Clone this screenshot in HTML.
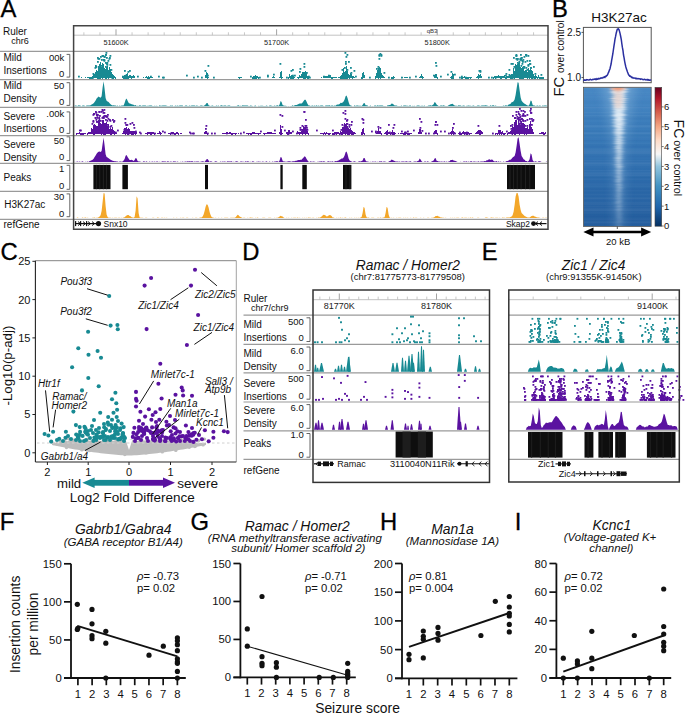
<!DOCTYPE html>
<html><head><meta charset="utf-8"><title>Figure</title>
<style>html,body{margin:0;padding:0;background:#fff;width:685px;height:714px;overflow:hidden}
svg{display:block;font-family:"Liberation Sans",sans-serif}</style></head>
<body><svg width="685" height="714" viewBox="0 0 685 714">
<rect width="685" height="714" fill="#fff"/>
<text x="0.60" y="16.80" font-size="23.8" fill="#000" stroke="#000" stroke-width="0.3">A</text>
<text x="3.00" y="35.40" font-size="10.00" text-anchor="start" fill="#111">Ruler</text>
<text x="11.30" y="44.10" font-size="9.00" text-anchor="start" fill="#111">chr6</text>
<text x="3.50" y="61.00" font-size="10.00" text-anchor="start" fill="#111">Mild</text>
<text x="3.50" y="73.80" font-size="10.00" text-anchor="start" fill="#111">Insertions</text>
<text x="64.30" y="60.90" font-size="9.50" text-anchor="end" fill="#111">00k</text>
<text x="64.30" y="77.00" font-size="9.50" text-anchor="end" fill="#111">0</text>
<path d="M66.6,54.4 H69.8 V77.1 H66.6" fill="none" stroke="#555" stroke-width="0.9"/>
<text x="3.50" y="89.10" font-size="10.00" text-anchor="start" fill="#111">Mild</text>
<text x="3.50" y="101.90" font-size="10.00" text-anchor="start" fill="#111">Density</text>
<text x="64.30" y="89.20" font-size="9.50" text-anchor="end" fill="#111">50</text>
<text x="64.30" y="105.30" font-size="9.50" text-anchor="end" fill="#111">0</text>
<path d="M66.6,82.7 H69.8 V105.4 H66.6" fill="none" stroke="#555" stroke-width="0.9"/>
<text x="3.50" y="119.50" font-size="10.00" text-anchor="start" fill="#111">Severe</text>
<text x="3.50" y="132.30" font-size="10.00" text-anchor="start" fill="#111">Insertions</text>
<text x="64.30" y="116.90" font-size="9.50" text-anchor="end" fill="#111">.00k</text>
<text x="64.30" y="133.30" font-size="9.50" text-anchor="end" fill="#111">0</text>
<path d="M66.6,111.9 H69.8 V133.4 H66.6" fill="none" stroke="#555" stroke-width="0.9"/>
<text x="3.50" y="147.90" font-size="10.00" text-anchor="start" fill="#111">Severe</text>
<text x="3.50" y="160.70" font-size="10.00" text-anchor="start" fill="#111">Density</text>
<text x="64.30" y="143.80" font-size="9.50" text-anchor="end" fill="#111">50</text>
<text x="64.30" y="160.20" font-size="9.50" text-anchor="end" fill="#111">0</text>
<path d="M66.6,136.8 H69.8 V160.6 H66.6" fill="none" stroke="#555" stroke-width="0.9"/>
<text x="3.50" y="180.90" font-size="10.00" text-anchor="start" fill="#111">Peaks</text>
<text x="64.30" y="172.30" font-size="9.50" text-anchor="end" fill="#111">1</text>
<text x="64.30" y="189.30" font-size="9.50" text-anchor="end" fill="#111">0</text>
<path d="M66.6,165.3 H69.8 V189.3 H66.6" fill="none" stroke="#555" stroke-width="0.9"/>
<text x="4.20" y="208.00" font-size="10.00" text-anchor="start" fill="#111">H3K27ac</text>
<text x="64.30" y="199.80" font-size="9.50" text-anchor="end" fill="#111">30</text>
<text x="64.30" y="216.50" font-size="9.50" text-anchor="end" fill="#111">0</text>
<path d="M66.6,193.9 H69.8 V216.7 H66.6" fill="none" stroke="#555" stroke-width="0.9"/>
<text x="3.50" y="228.20" font-size="10.00" text-anchor="start" fill="#111">refGene</text>
<line x1="0.00" y1="51.40" x2="548.00" y2="51.40" stroke="#9a9a9a" stroke-width="1.30"/>
<line x1="0.00" y1="79.70" x2="548.00" y2="79.70" stroke="#9a9a9a" stroke-width="1.30"/>
<line x1="0.00" y1="107.40" x2="548.00" y2="107.40" stroke="#9a9a9a" stroke-width="1.30"/>
<line x1="0.00" y1="135.60" x2="548.00" y2="135.60" stroke="#9a9a9a" stroke-width="1.30"/>
<line x1="0.00" y1="163.30" x2="548.00" y2="163.30" stroke="#9a9a9a" stroke-width="1.30"/>
<line x1="0.00" y1="191.40" x2="548.00" y2="191.40" stroke="#9a9a9a" stroke-width="1.30"/>
<line x1="0.00" y1="219.30" x2="548.00" y2="219.30" stroke="#9a9a9a" stroke-width="1.30"/>
<line x1="73.60" y1="35.20" x2="548.00" y2="35.20" stroke="#bbb" stroke-width="0.90"/>
<line x1="83.88" y1="32.30" x2="83.88" y2="35.20" stroke="#bbb" stroke-width="0.80"/>
<line x1="99.94" y1="32.30" x2="99.94" y2="35.20" stroke="#bbb" stroke-width="0.80"/>
<line x1="116.00" y1="29.30" x2="116.00" y2="35.20" stroke="#999" stroke-width="0.90"/>
<line x1="132.06" y1="32.30" x2="132.06" y2="35.20" stroke="#bbb" stroke-width="0.80"/>
<line x1="148.12" y1="32.30" x2="148.12" y2="35.20" stroke="#bbb" stroke-width="0.80"/>
<line x1="164.18" y1="32.30" x2="164.18" y2="35.20" stroke="#bbb" stroke-width="0.80"/>
<line x1="180.24" y1="32.30" x2="180.24" y2="35.20" stroke="#bbb" stroke-width="0.80"/>
<line x1="196.30" y1="32.30" x2="196.30" y2="35.20" stroke="#bbb" stroke-width="0.80"/>
<line x1="212.36" y1="32.30" x2="212.36" y2="35.20" stroke="#bbb" stroke-width="0.80"/>
<line x1="228.42" y1="32.30" x2="228.42" y2="35.20" stroke="#bbb" stroke-width="0.80"/>
<line x1="244.48" y1="32.30" x2="244.48" y2="35.20" stroke="#bbb" stroke-width="0.80"/>
<line x1="260.54" y1="32.30" x2="260.54" y2="35.20" stroke="#bbb" stroke-width="0.80"/>
<line x1="276.60" y1="29.30" x2="276.60" y2="35.20" stroke="#999" stroke-width="0.90"/>
<line x1="292.66" y1="32.30" x2="292.66" y2="35.20" stroke="#bbb" stroke-width="0.80"/>
<line x1="308.72" y1="32.30" x2="308.72" y2="35.20" stroke="#bbb" stroke-width="0.80"/>
<line x1="324.78" y1="32.30" x2="324.78" y2="35.20" stroke="#bbb" stroke-width="0.80"/>
<line x1="340.84" y1="32.30" x2="340.84" y2="35.20" stroke="#bbb" stroke-width="0.80"/>
<line x1="356.90" y1="32.30" x2="356.90" y2="35.20" stroke="#bbb" stroke-width="0.80"/>
<line x1="372.96" y1="32.30" x2="372.96" y2="35.20" stroke="#bbb" stroke-width="0.80"/>
<line x1="389.02" y1="32.30" x2="389.02" y2="35.20" stroke="#bbb" stroke-width="0.80"/>
<line x1="405.08" y1="32.30" x2="405.08" y2="35.20" stroke="#bbb" stroke-width="0.80"/>
<line x1="421.14" y1="32.30" x2="421.14" y2="35.20" stroke="#bbb" stroke-width="0.80"/>
<line x1="437.20" y1="29.30" x2="437.20" y2="35.20" stroke="#999" stroke-width="0.90"/>
<line x1="453.26" y1="32.30" x2="453.26" y2="35.20" stroke="#bbb" stroke-width="0.80"/>
<line x1="469.32" y1="32.30" x2="469.32" y2="35.20" stroke="#bbb" stroke-width="0.80"/>
<line x1="485.38" y1="32.30" x2="485.38" y2="35.20" stroke="#bbb" stroke-width="0.80"/>
<line x1="501.44" y1="32.30" x2="501.44" y2="35.20" stroke="#bbb" stroke-width="0.80"/>
<line x1="517.50" y1="32.30" x2="517.50" y2="35.20" stroke="#bbb" stroke-width="0.80"/>
<line x1="533.56" y1="32.30" x2="533.56" y2="35.20" stroke="#bbb" stroke-width="0.80"/>
<text x="116.00" y="45.30" font-size="7.30" text-anchor="middle" fill="#222">51600K</text>
<text x="276.60" y="45.30" font-size="7.30" text-anchor="middle" fill="#222">51700K</text>
<text x="437.20" y="45.30" font-size="7.30" text-anchor="middle" fill="#222">51800K</text>
<text x="432.00" y="32.50" font-size="6.00" text-anchor="middle" fill="#333">qB3</text>
<rect x="81.00" y="77.00" width="1.00" height="1.00" fill="#188a93"/>
<rect x="85.00" y="77.00" width="1.00" height="1.00" fill="#188a93"/>
<rect x="87.00" y="77.00" width="1.00" height="1.00" fill="#188a93"/>
<rect x="88.00" y="77.00" width="1.00" height="1.00" fill="#188a93"/>
<rect x="89.00" y="77.00" width="1.00" height="2.00" fill="#188a93"/>
<rect x="90.00" y="77.00" width="1.00" height="2.00" fill="#188a93"/>
<rect x="91.00" y="77.00" width="1.00" height="2.00" fill="#188a93"/>
<rect x="92.00" y="76.00" width="1.00" height="3.00" fill="#188a93"/>
<rect x="92.50" y="73.00" width="1.80" height="1.80" fill="#188a93"/>
<rect x="93.00" y="74.00" width="1.00" height="4.00" fill="#188a93"/>
<rect x="94.00" y="74.00" width="1.00" height="4.00" fill="#188a93"/>
<rect x="94.50" y="67.00" width="1.80" height="1.80" fill="#188a93"/>
<rect x="95.00" y="72.00" width="1.00" height="6.00" fill="#188a93"/>
<rect x="95.00" y="66.00" width="1.80" height="1.80" fill="#188a93"/>
<rect x="95.00" y="65.00" width="1.80" height="1.80" fill="#188a93"/>
<rect x="96.00" y="70.00" width="1.00" height="8.00" fill="#188a93"/>
<rect x="95.50" y="66.00" width="1.80" height="1.80" fill="#188a93"/>
<rect x="97.00" y="71.00" width="1.00" height="8.00" fill="#188a93"/>
<rect x="97.00" y="61.00" width="1.80" height="1.80" fill="#188a93"/>
<rect x="97.00" y="57.00" width="1.80" height="1.80" fill="#188a93"/>
<rect x="98.00" y="66.00" width="1.00" height="13.00" fill="#188a93"/>
<rect x="97.50" y="58.00" width="1.80" height="1.80" fill="#188a93"/>
<rect x="99.00" y="64.00" width="1.00" height="15.00" fill="#188a93"/>
<rect x="98.50" y="58.00" width="1.80" height="1.80" fill="#188a93"/>
<rect x="100.00" y="62.00" width="1.00" height="17.00" fill="#188a93"/>
<rect x="100.00" y="56.00" width="1.80" height="1.80" fill="#188a93"/>
<rect x="101.00" y="67.00" width="1.00" height="11.00" fill="#188a93"/>
<rect x="101.00" y="59.00" width="1.80" height="1.80" fill="#188a93"/>
<rect x="100.50" y="65.00" width="1.80" height="1.80" fill="#188a93"/>
<rect x="102.00" y="63.00" width="1.00" height="16.00" fill="#188a93"/>
<rect x="101.50" y="55.00" width="1.80" height="1.80" fill="#188a93"/>
<rect x="102.00" y="55.00" width="1.80" height="1.80" fill="#188a93"/>
<rect x="102.50" y="55.00" width="1.80" height="1.80" fill="#188a93"/>
<rect x="103.00" y="64.00" width="1.00" height="14.00" fill="#188a93"/>
<rect x="103.50" y="59.00" width="1.80" height="1.80" fill="#188a93"/>
<rect x="103.00" y="59.00" width="1.80" height="1.80" fill="#188a93"/>
<rect x="104.00" y="68.00" width="1.00" height="10.00" fill="#188a93"/>
<rect x="103.50" y="60.00" width="1.80" height="1.80" fill="#188a93"/>
<rect x="103.50" y="56.00" width="1.80" height="1.80" fill="#188a93"/>
<rect x="104.00" y="56.00" width="1.80" height="1.80" fill="#188a93"/>
<rect x="105.00" y="69.00" width="1.00" height="10.00" fill="#188a93"/>
<rect x="105.00" y="66.00" width="1.80" height="1.80" fill="#188a93"/>
<rect x="105.00" y="62.00" width="1.80" height="1.80" fill="#188a93"/>
<rect x="105.00" y="54.00" width="1.80" height="1.80" fill="#188a93"/>
<rect x="105.00" y="54.00" width="1.80" height="1.80" fill="#188a93"/>
<rect x="106.00" y="67.00" width="1.00" height="12.00" fill="#188a93"/>
<rect x="106.00" y="57.00" width="1.80" height="1.80" fill="#188a93"/>
<rect x="105.50" y="52.00" width="1.80" height="1.80" fill="#188a93"/>
<rect x="106.50" y="64.00" width="1.80" height="1.80" fill="#188a93"/>
<rect x="106.00" y="63.00" width="1.80" height="1.80" fill="#188a93"/>
<rect x="107.00" y="66.00" width="1.00" height="12.00" fill="#188a93"/>
<rect x="106.50" y="62.00" width="1.80" height="1.80" fill="#188a93"/>
<rect x="108.00" y="70.00" width="1.00" height="9.00" fill="#188a93"/>
<rect x="107.50" y="60.00" width="1.80" height="1.80" fill="#188a93"/>
<rect x="108.50" y="58.00" width="1.80" height="1.80" fill="#188a93"/>
<rect x="109.00" y="67.00" width="1.00" height="11.00" fill="#188a93"/>
<rect x="109.00" y="57.00" width="1.80" height="1.80" fill="#188a93"/>
<rect x="109.50" y="55.00" width="1.80" height="1.80" fill="#188a93"/>
<rect x="110.00" y="69.00" width="1.00" height="9.00" fill="#188a93"/>
<rect x="109.50" y="64.00" width="1.80" height="1.80" fill="#188a93"/>
<rect x="111.00" y="72.00" width="1.00" height="6.00" fill="#188a93"/>
<rect x="110.50" y="69.00" width="1.80" height="1.80" fill="#188a93"/>
<rect x="112.00" y="74.00" width="1.00" height="5.00" fill="#188a93"/>
<rect x="113.00" y="75.00" width="1.00" height="4.00" fill="#188a93"/>
<rect x="114.00" y="76.00" width="1.00" height="2.00" fill="#188a93"/>
<rect x="115.00" y="77.00" width="1.00" height="2.00" fill="#188a93"/>
<rect x="122.00" y="76.00" width="1.00" height="2.00" fill="#188a93"/>
<rect x="123.00" y="76.00" width="1.00" height="3.00" fill="#188a93"/>
<rect x="124.00" y="75.00" width="1.00" height="4.00" fill="#188a93"/>
<rect x="124.00" y="70.00" width="1.80" height="1.80" fill="#188a93"/>
<rect x="125.00" y="75.00" width="1.00" height="4.00" fill="#188a93"/>
<rect x="126.00" y="74.00" width="1.00" height="5.00" fill="#188a93"/>
<rect x="127.00" y="73.00" width="1.00" height="6.00" fill="#188a93"/>
<rect x="128.00" y="76.00" width="1.00" height="3.00" fill="#188a93"/>
<rect x="127.50" y="71.00" width="1.80" height="1.80" fill="#188a93"/>
<rect x="129.00" y="75.00" width="1.00" height="3.00" fill="#188a93"/>
<rect x="129.00" y="70.00" width="1.80" height="1.80" fill="#188a93"/>
<rect x="130.00" y="75.00" width="1.00" height="3.00" fill="#188a93"/>
<rect x="131.00" y="76.00" width="1.00" height="3.00" fill="#188a93"/>
<rect x="132.00" y="76.00" width="1.00" height="2.00" fill="#188a93"/>
<rect x="133.00" y="75.00" width="1.00" height="3.00" fill="#188a93"/>
<rect x="134.00" y="76.00" width="1.00" height="2.00" fill="#188a93"/>
<rect x="143.00" y="77.00" width="1.00" height="1.00" fill="#188a93"/>
<rect x="145.00" y="77.00" width="1.00" height="1.00" fill="#188a93"/>
<rect x="146.00" y="76.00" width="1.00" height="2.00" fill="#188a93"/>
<rect x="147.00" y="77.00" width="1.00" height="2.00" fill="#188a93"/>
<rect x="148.00" y="76.00" width="1.00" height="3.00" fill="#188a93"/>
<rect x="149.00" y="77.00" width="1.00" height="2.00" fill="#188a93"/>
<rect x="150.00" y="77.00" width="1.00" height="1.00" fill="#188a93"/>
<rect x="151.00" y="77.00" width="1.00" height="1.00" fill="#188a93"/>
<rect x="152.00" y="77.00" width="1.00" height="1.00" fill="#188a93"/>
<rect x="205.00" y="75.00" width="1.00" height="3.00" fill="#188a93"/>
<rect x="204.50" y="70.00" width="1.80" height="1.80" fill="#188a93"/>
<rect x="206.00" y="72.00" width="1.00" height="6.00" fill="#188a93"/>
<rect x="207.00" y="73.00" width="1.00" height="6.00" fill="#188a93"/>
<rect x="207.50" y="65.00" width="1.80" height="1.80" fill="#188a93"/>
<rect x="208.00" y="77.00" width="1.00" height="1.00" fill="#188a93"/>
<rect x="238.00" y="77.00" width="1.00" height="1.00" fill="#188a93"/>
<rect x="239.00" y="77.00" width="1.00" height="2.00" fill="#188a93"/>
<rect x="240.00" y="77.00" width="1.00" height="1.00" fill="#188a93"/>
<rect x="241.00" y="77.00" width="1.00" height="1.00" fill="#188a93"/>
<rect x="252.00" y="77.00" width="1.00" height="2.00" fill="#188a93"/>
<rect x="253.00" y="76.00" width="1.00" height="3.00" fill="#188a93"/>
<rect x="254.00" y="76.00" width="1.00" height="3.00" fill="#188a93"/>
<rect x="255.00" y="75.00" width="1.00" height="4.00" fill="#188a93"/>
<rect x="256.00" y="76.00" width="1.00" height="3.00" fill="#188a93"/>
<rect x="257.00" y="76.00" width="1.00" height="2.00" fill="#188a93"/>
<rect x="258.00" y="77.00" width="1.00" height="2.00" fill="#188a93"/>
<rect x="272.00" y="77.00" width="1.00" height="1.00" fill="#188a93"/>
<rect x="273.00" y="76.00" width="1.00" height="2.00" fill="#188a93"/>
<rect x="274.00" y="77.00" width="1.00" height="1.00" fill="#188a93"/>
<rect x="279.00" y="77.00" width="1.00" height="1.00" fill="#188a93"/>
<rect x="280.00" y="72.00" width="1.00" height="6.00" fill="#188a93"/>
<rect x="279.50" y="63.00" width="1.80" height="1.80" fill="#188a93"/>
<rect x="281.00" y="71.00" width="1.00" height="8.00" fill="#188a93"/>
<rect x="282.00" y="77.00" width="1.00" height="1.00" fill="#188a93"/>
<rect x="288.00" y="77.00" width="1.00" height="2.00" fill="#188a93"/>
<rect x="289.00" y="74.00" width="1.00" height="4.00" fill="#188a93"/>
<rect x="290.00" y="76.00" width="1.00" height="3.00" fill="#188a93"/>
<rect x="291.00" y="75.00" width="1.00" height="4.00" fill="#188a93"/>
<rect x="290.50" y="70.00" width="1.80" height="1.80" fill="#188a93"/>
<rect x="292.00" y="75.00" width="1.00" height="4.00" fill="#188a93"/>
<rect x="292.00" y="69.00" width="1.80" height="1.80" fill="#188a93"/>
<rect x="293.00" y="76.00" width="1.00" height="3.00" fill="#188a93"/>
<rect x="294.00" y="77.00" width="1.00" height="1.00" fill="#188a93"/>
<rect x="297.00" y="77.00" width="1.00" height="1.00" fill="#188a93"/>
<rect x="298.00" y="77.00" width="1.00" height="2.00" fill="#188a93"/>
<rect x="299.00" y="75.00" width="1.00" height="3.00" fill="#188a93"/>
<rect x="299.00" y="71.00" width="1.80" height="1.80" fill="#188a93"/>
<rect x="300.00" y="76.00" width="1.00" height="2.00" fill="#188a93"/>
<rect x="299.50" y="68.00" width="1.80" height="1.80" fill="#188a93"/>
<rect x="301.00" y="74.00" width="1.00" height="4.00" fill="#188a93"/>
<rect x="302.00" y="72.00" width="1.00" height="6.00" fill="#188a93"/>
<rect x="303.00" y="72.00" width="1.00" height="7.00" fill="#188a93"/>
<rect x="303.50" y="63.00" width="1.80" height="1.80" fill="#188a93"/>
<rect x="304.00" y="72.00" width="1.00" height="7.00" fill="#188a93"/>
<rect x="303.50" y="66.00" width="1.80" height="1.80" fill="#188a93"/>
<rect x="305.00" y="71.00" width="1.00" height="8.00" fill="#188a93"/>
<rect x="306.00" y="73.00" width="1.00" height="5.00" fill="#188a93"/>
<rect x="306.00" y="72.00" width="1.80" height="1.80" fill="#188a93"/>
<rect x="307.00" y="76.00" width="1.00" height="3.00" fill="#188a93"/>
<rect x="308.00" y="77.00" width="1.00" height="2.00" fill="#188a93"/>
<rect x="321.00" y="77.00" width="1.00" height="1.00" fill="#188a93"/>
<rect x="323.00" y="77.00" width="1.00" height="1.00" fill="#188a93"/>
<rect x="324.00" y="76.00" width="1.00" height="2.00" fill="#188a93"/>
<rect x="325.00" y="76.00" width="1.00" height="2.00" fill="#188a93"/>
<rect x="326.00" y="76.00" width="1.00" height="2.00" fill="#188a93"/>
<rect x="327.00" y="76.00" width="1.00" height="2.00" fill="#188a93"/>
<rect x="328.00" y="76.00" width="1.00" height="2.00" fill="#188a93"/>
<rect x="329.00" y="75.00" width="1.00" height="3.00" fill="#188a93"/>
<rect x="330.00" y="75.00" width="1.00" height="3.00" fill="#188a93"/>
<rect x="331.00" y="77.00" width="1.00" height="2.00" fill="#188a93"/>
<rect x="332.00" y="77.00" width="1.00" height="2.00" fill="#188a93"/>
<rect x="333.00" y="77.00" width="1.00" height="1.00" fill="#188a93"/>
<rect x="334.00" y="77.00" width="1.00" height="1.00" fill="#188a93"/>
<rect x="335.00" y="77.00" width="1.00" height="1.00" fill="#188a93"/>
<rect x="336.00" y="77.00" width="1.00" height="1.00" fill="#188a93"/>
<rect x="338.00" y="77.00" width="1.00" height="1.00" fill="#188a93"/>
<rect x="339.00" y="77.00" width="1.00" height="1.00" fill="#188a93"/>
<rect x="340.00" y="76.00" width="1.00" height="3.00" fill="#188a93"/>
<rect x="341.00" y="75.00" width="1.00" height="4.00" fill="#188a93"/>
<rect x="342.00" y="73.00" width="1.00" height="6.00" fill="#188a93"/>
<rect x="341.50" y="69.00" width="1.80" height="1.80" fill="#188a93"/>
<rect x="343.00" y="68.00" width="1.00" height="11.00" fill="#188a93"/>
<rect x="344.00" y="72.00" width="1.00" height="7.00" fill="#188a93"/>
<rect x="344.00" y="67.00" width="1.80" height="1.80" fill="#188a93"/>
<rect x="345.00" y="71.00" width="1.00" height="8.00" fill="#188a93"/>
<rect x="345.00" y="63.00" width="1.80" height="1.80" fill="#188a93"/>
<rect x="345.00" y="61.00" width="1.80" height="1.80" fill="#188a93"/>
<rect x="344.50" y="52.00" width="1.80" height="1.80" fill="#188a93"/>
<rect x="346.00" y="66.00" width="1.00" height="13.00" fill="#188a93"/>
<rect x="346.50" y="54.00" width="1.80" height="1.80" fill="#188a93"/>
<rect x="345.50" y="56.00" width="1.80" height="1.80" fill="#188a93"/>
<rect x="347.00" y="71.00" width="1.00" height="8.00" fill="#188a93"/>
<rect x="346.50" y="69.00" width="1.80" height="1.80" fill="#188a93"/>
<rect x="348.00" y="74.00" width="1.00" height="4.00" fill="#188a93"/>
<rect x="348.00" y="61.00" width="1.80" height="1.80" fill="#188a93"/>
<rect x="349.00" y="75.00" width="1.00" height="4.00" fill="#188a93"/>
<rect x="350.00" y="73.00" width="1.00" height="5.00" fill="#188a93"/>
<rect x="350.00" y="67.00" width="1.80" height="1.80" fill="#188a93"/>
<rect x="351.00" y="74.00" width="1.00" height="4.00" fill="#188a93"/>
<rect x="350.50" y="72.00" width="1.80" height="1.80" fill="#188a93"/>
<rect x="352.00" y="76.00" width="1.00" height="3.00" fill="#188a93"/>
<rect x="353.00" y="76.00" width="1.00" height="2.00" fill="#188a93"/>
<rect x="353.50" y="70.00" width="1.80" height="1.80" fill="#188a93"/>
<rect x="354.00" y="77.00" width="1.00" height="1.00" fill="#188a93"/>
<rect x="361.00" y="77.00" width="1.00" height="2.00" fill="#188a93"/>
<rect x="362.00" y="73.00" width="1.00" height="6.00" fill="#188a93"/>
<rect x="363.00" y="72.00" width="1.00" height="6.00" fill="#188a93"/>
<rect x="364.00" y="75.00" width="1.00" height="3.00" fill="#188a93"/>
<rect x="375.00" y="76.00" width="1.00" height="3.00" fill="#188a93"/>
<rect x="376.00" y="73.00" width="1.00" height="5.00" fill="#188a93"/>
<rect x="376.00" y="68.00" width="1.80" height="1.80" fill="#188a93"/>
<rect x="377.00" y="70.00" width="1.00" height="8.00" fill="#188a93"/>
<rect x="377.50" y="66.00" width="1.80" height="1.80" fill="#188a93"/>
<rect x="378.00" y="68.00" width="1.00" height="11.00" fill="#188a93"/>
<rect x="378.50" y="54.00" width="1.80" height="1.80" fill="#188a93"/>
<rect x="379.00" y="67.00" width="1.00" height="11.00" fill="#188a93"/>
<rect x="378.50" y="55.00" width="1.80" height="1.80" fill="#188a93"/>
<rect x="379.50" y="53.00" width="1.80" height="1.80" fill="#188a93"/>
<rect x="378.50" y="58.00" width="1.80" height="1.80" fill="#188a93"/>
<rect x="380.00" y="68.00" width="1.00" height="11.00" fill="#188a93"/>
<rect x="380.50" y="55.00" width="1.80" height="1.80" fill="#188a93"/>
<rect x="380.50" y="54.00" width="1.80" height="1.80" fill="#188a93"/>
<rect x="381.00" y="73.00" width="1.00" height="5.00" fill="#188a93"/>
<rect x="382.00" y="75.00" width="1.00" height="3.00" fill="#188a93"/>
<rect x="383.00" y="76.00" width="1.00" height="2.00" fill="#188a93"/>
<rect x="383.50" y="72.00" width="1.80" height="1.80" fill="#188a93"/>
<rect x="384.00" y="77.00" width="1.00" height="1.00" fill="#188a93"/>
<rect x="391.00" y="77.00" width="1.00" height="2.00" fill="#188a93"/>
<rect x="392.00" y="77.00" width="1.00" height="2.00" fill="#188a93"/>
<rect x="393.00" y="76.00" width="1.00" height="3.00" fill="#188a93"/>
<rect x="394.00" y="77.00" width="1.00" height="1.00" fill="#188a93"/>
<rect x="402.00" y="77.00" width="1.00" height="1.00" fill="#188a93"/>
<rect x="404.00" y="77.00" width="1.00" height="1.00" fill="#188a93"/>
<rect x="405.00" y="77.00" width="1.00" height="1.00" fill="#188a93"/>
<rect x="406.00" y="77.00" width="1.00" height="1.00" fill="#188a93"/>
<rect x="407.00" y="77.00" width="1.00" height="1.00" fill="#188a93"/>
<rect x="419.00" y="77.00" width="1.00" height="1.00" fill="#188a93"/>
<rect x="420.00" y="76.00" width="1.00" height="2.00" fill="#188a93"/>
<rect x="421.00" y="74.00" width="1.00" height="4.00" fill="#188a93"/>
<rect x="422.00" y="76.00" width="1.00" height="3.00" fill="#188a93"/>
<rect x="423.00" y="77.00" width="1.00" height="1.00" fill="#188a93"/>
<rect x="434.00" y="75.00" width="1.00" height="3.00" fill="#188a93"/>
<rect x="435.00" y="74.00" width="1.00" height="4.00" fill="#188a93"/>
<rect x="435.00" y="62.00" width="1.80" height="1.80" fill="#188a93"/>
<rect x="436.00" y="74.00" width="1.00" height="4.00" fill="#188a93"/>
<rect x="435.50" y="65.00" width="1.80" height="1.80" fill="#188a93"/>
<rect x="437.00" y="77.00" width="1.00" height="2.00" fill="#188a93"/>
<rect x="450.00" y="77.00" width="1.00" height="1.00" fill="#188a93"/>
<rect x="451.00" y="76.00" width="1.00" height="3.00" fill="#188a93"/>
<rect x="450.50" y="71.00" width="1.80" height="1.80" fill="#188a93"/>
<rect x="452.00" y="73.00" width="1.00" height="6.00" fill="#188a93"/>
<rect x="453.00" y="74.00" width="1.00" height="5.00" fill="#188a93"/>
<rect x="461.00" y="77.00" width="1.00" height="2.00" fill="#188a93"/>
<rect x="462.00" y="77.00" width="1.00" height="2.00" fill="#188a93"/>
<rect x="463.00" y="77.00" width="1.00" height="1.00" fill="#188a93"/>
<rect x="464.00" y="76.00" width="1.00" height="2.00" fill="#188a93"/>
<rect x="465.00" y="77.00" width="1.00" height="2.00" fill="#188a93"/>
<rect x="466.00" y="77.00" width="1.00" height="2.00" fill="#188a93"/>
<rect x="467.00" y="77.00" width="1.00" height="2.00" fill="#188a93"/>
<rect x="468.00" y="77.00" width="1.00" height="2.00" fill="#188a93"/>
<rect x="469.00" y="77.00" width="1.00" height="1.00" fill="#188a93"/>
<rect x="470.00" y="77.00" width="1.00" height="2.00" fill="#188a93"/>
<rect x="471.00" y="77.00" width="1.00" height="1.00" fill="#188a93"/>
<rect x="476.00" y="77.00" width="1.00" height="1.00" fill="#188a93"/>
<rect x="477.00" y="76.00" width="1.00" height="2.00" fill="#188a93"/>
<rect x="478.00" y="74.00" width="1.00" height="5.00" fill="#188a93"/>
<rect x="478.50" y="70.00" width="1.80" height="1.80" fill="#188a93"/>
<rect x="479.00" y="75.00" width="1.00" height="3.00" fill="#188a93"/>
<rect x="479.50" y="70.00" width="1.80" height="1.80" fill="#188a93"/>
<rect x="480.00" y="74.00" width="1.00" height="4.00" fill="#188a93"/>
<rect x="479.50" y="71.00" width="1.80" height="1.80" fill="#188a93"/>
<rect x="481.00" y="76.00" width="1.00" height="2.00" fill="#188a93"/>
<rect x="493.00" y="77.00" width="1.00" height="2.00" fill="#188a93"/>
<rect x="494.00" y="76.00" width="1.00" height="2.00" fill="#188a93"/>
<rect x="495.00" y="76.00" width="1.00" height="3.00" fill="#188a93"/>
<rect x="496.00" y="76.00" width="1.00" height="2.00" fill="#188a93"/>
<rect x="497.00" y="76.00" width="1.00" height="2.00" fill="#188a93"/>
<rect x="498.00" y="75.00" width="1.00" height="3.00" fill="#188a93"/>
<rect x="499.00" y="76.00" width="1.00" height="2.00" fill="#188a93"/>
<rect x="500.00" y="76.00" width="1.00" height="3.00" fill="#188a93"/>
<rect x="501.00" y="76.00" width="1.00" height="3.00" fill="#188a93"/>
<rect x="502.00" y="76.00" width="1.00" height="2.00" fill="#188a93"/>
<rect x="503.00" y="76.00" width="1.00" height="2.00" fill="#188a93"/>
<rect x="504.00" y="75.00" width="1.00" height="3.00" fill="#188a93"/>
<rect x="505.00" y="77.00" width="1.00" height="2.00" fill="#188a93"/>
<rect x="505.50" y="73.00" width="1.80" height="1.80" fill="#188a93"/>
<rect x="506.00" y="76.00" width="1.00" height="3.00" fill="#188a93"/>
<rect x="507.00" y="76.00" width="1.00" height="2.00" fill="#188a93"/>
<rect x="508.00" y="76.00" width="1.00" height="2.00" fill="#188a93"/>
<rect x="508.50" y="74.00" width="1.80" height="1.80" fill="#188a93"/>
<rect x="509.00" y="75.00" width="1.00" height="3.00" fill="#188a93"/>
<rect x="508.50" y="69.00" width="1.80" height="1.80" fill="#188a93"/>
<rect x="510.00" y="75.00" width="1.00" height="4.00" fill="#188a93"/>
<rect x="511.00" y="74.00" width="1.00" height="5.00" fill="#188a93"/>
<rect x="510.50" y="63.00" width="1.80" height="1.80" fill="#188a93"/>
<rect x="512.00" y="74.00" width="1.00" height="5.00" fill="#188a93"/>
<rect x="512.00" y="63.00" width="1.80" height="1.80" fill="#188a93"/>
<rect x="513.00" y="68.00" width="1.00" height="10.00" fill="#188a93"/>
<rect x="513.50" y="66.00" width="1.80" height="1.80" fill="#188a93"/>
<rect x="513.00" y="57.00" width="1.80" height="1.80" fill="#188a93"/>
<rect x="514.00" y="71.00" width="1.00" height="8.00" fill="#188a93"/>
<rect x="514.50" y="67.00" width="1.80" height="1.80" fill="#188a93"/>
<rect x="515.00" y="64.00" width="1.00" height="14.00" fill="#188a93"/>
<rect x="515.50" y="54.00" width="1.80" height="1.80" fill="#188a93"/>
<rect x="516.00" y="65.00" width="1.00" height="13.00" fill="#188a93"/>
<rect x="516.50" y="59.00" width="1.80" height="1.80" fill="#188a93"/>
<rect x="515.50" y="55.00" width="1.80" height="1.80" fill="#188a93"/>
<rect x="515.50" y="55.00" width="1.80" height="1.80" fill="#188a93"/>
<rect x="515.50" y="58.00" width="1.80" height="1.80" fill="#188a93"/>
<rect x="517.00" y="64.00" width="1.00" height="14.00" fill="#188a93"/>
<rect x="517.00" y="62.00" width="1.80" height="1.80" fill="#188a93"/>
<rect x="517.00" y="58.00" width="1.80" height="1.80" fill="#188a93"/>
<rect x="518.00" y="63.00" width="1.00" height="15.00" fill="#188a93"/>
<rect x="518.50" y="61.00" width="1.80" height="1.80" fill="#188a93"/>
<rect x="519.00" y="61.00" width="1.00" height="18.00" fill="#188a93"/>
<rect x="519.50" y="58.00" width="1.80" height="1.80" fill="#188a93"/>
<rect x="519.50" y="59.00" width="1.80" height="1.80" fill="#188a93"/>
<rect x="520.00" y="67.00" width="1.00" height="12.00" fill="#188a93"/>
<rect x="520.00" y="54.00" width="1.80" height="1.80" fill="#188a93"/>
<rect x="520.50" y="59.00" width="1.80" height="1.80" fill="#188a93"/>
<rect x="521.00" y="68.00" width="1.00" height="11.00" fill="#188a93"/>
<rect x="521.00" y="57.00" width="1.80" height="1.80" fill="#188a93"/>
<rect x="520.50" y="65.00" width="1.80" height="1.80" fill="#188a93"/>
<rect x="521.50" y="60.00" width="1.80" height="1.80" fill="#188a93"/>
<rect x="520.50" y="57.00" width="1.80" height="1.80" fill="#188a93"/>
<rect x="521.50" y="63.00" width="1.80" height="1.80" fill="#188a93"/>
<rect x="522.00" y="67.00" width="1.00" height="12.00" fill="#188a93"/>
<rect x="522.50" y="59.00" width="1.80" height="1.80" fill="#188a93"/>
<rect x="522.00" y="61.00" width="1.80" height="1.80" fill="#188a93"/>
<rect x="523.00" y="68.00" width="1.00" height="11.00" fill="#188a93"/>
<rect x="523.00" y="66.00" width="1.80" height="1.80" fill="#188a93"/>
<rect x="523.50" y="56.00" width="1.80" height="1.80" fill="#188a93"/>
<rect x="524.00" y="71.00" width="1.00" height="7.00" fill="#188a93"/>
<rect x="523.50" y="67.00" width="1.80" height="1.80" fill="#188a93"/>
<rect x="523.50" y="66.00" width="1.80" height="1.80" fill="#188a93"/>
<rect x="525.00" y="70.00" width="1.00" height="8.00" fill="#188a93"/>
<rect x="525.50" y="67.00" width="1.80" height="1.80" fill="#188a93"/>
<rect x="524.50" y="61.00" width="1.80" height="1.80" fill="#188a93"/>
<rect x="525.00" y="54.00" width="1.80" height="1.80" fill="#188a93"/>
<rect x="526.00" y="70.00" width="1.00" height="8.00" fill="#188a93"/>
<rect x="525.50" y="54.00" width="1.80" height="1.80" fill="#188a93"/>
<rect x="525.50" y="55.00" width="1.80" height="1.80" fill="#188a93"/>
<rect x="527.00" y="72.00" width="1.00" height="7.00" fill="#188a93"/>
<rect x="526.50" y="69.00" width="1.80" height="1.80" fill="#188a93"/>
<rect x="526.50" y="60.00" width="1.80" height="1.80" fill="#188a93"/>
<rect x="527.50" y="65.00" width="1.80" height="1.80" fill="#188a93"/>
<rect x="528.00" y="68.00" width="1.00" height="10.00" fill="#188a93"/>
<rect x="527.50" y="55.00" width="1.80" height="1.80" fill="#188a93"/>
<rect x="527.50" y="64.00" width="1.80" height="1.80" fill="#188a93"/>
<rect x="529.00" y="70.00" width="1.00" height="9.00" fill="#188a93"/>
<rect x="529.00" y="63.00" width="1.80" height="1.80" fill="#188a93"/>
<rect x="529.00" y="60.00" width="1.80" height="1.80" fill="#188a93"/>
<rect x="530.00" y="69.00" width="1.00" height="9.00" fill="#188a93"/>
<rect x="529.50" y="63.00" width="1.80" height="1.80" fill="#188a93"/>
<rect x="530.00" y="67.00" width="1.80" height="1.80" fill="#188a93"/>
<rect x="530.00" y="67.00" width="1.80" height="1.80" fill="#188a93"/>
<rect x="531.00" y="70.00" width="1.00" height="9.00" fill="#188a93"/>
<rect x="532.00" y="71.00" width="1.00" height="8.00" fill="#188a93"/>
<rect x="533.00" y="74.00" width="1.00" height="4.00" fill="#188a93"/>
<rect x="533.00" y="66.00" width="1.80" height="1.80" fill="#188a93"/>
<rect x="534.00" y="76.00" width="1.00" height="3.00" fill="#188a93"/>
<rect x="534.50" y="73.00" width="1.80" height="1.80" fill="#188a93"/>
<rect x="535.00" y="75.00" width="1.00" height="4.00" fill="#188a93"/>
<rect x="536.00" y="76.00" width="1.00" height="2.00" fill="#188a93"/>
<rect x="537.00" y="77.00" width="1.00" height="2.00" fill="#188a93"/>
<rect x="538.00" y="75.00" width="1.00" height="3.00" fill="#188a93"/>
<rect x="539.00" y="77.00" width="1.00" height="2.00" fill="#188a93"/>
<rect x="540.00" y="77.00" width="1.00" height="2.00" fill="#188a93"/>
<rect x="540.50" y="74.00" width="1.80" height="1.80" fill="#188a93"/>
<rect x="541.00" y="77.00" width="1.00" height="2.00" fill="#188a93"/>
<rect x="542.00" y="77.00" width="1.00" height="2.00" fill="#188a93"/>
<rect x="543.00" y="77.00" width="1.00" height="2.00" fill="#188a93"/>
<rect x="510.00" y="76.70" width="1.80" height="1.80" fill="#188a93"/>
<rect x="415.00" y="75.70" width="1.80" height="1.80" fill="#188a93"/>
<rect x="454.00" y="73.70" width="1.80" height="1.80" fill="#188a93"/>
<rect x="105.00" y="74.70" width="1.80" height="1.80" fill="#188a93"/>
<rect x="125.00" y="74.70" width="1.80" height="1.80" fill="#188a93"/>
<rect x="294.00" y="74.70" width="1.80" height="1.80" fill="#188a93"/>
<rect x="447.00" y="73.70" width="1.80" height="1.80" fill="#188a93"/>
<rect x="459.00" y="76.70" width="1.80" height="1.80" fill="#188a93"/>
<rect x="309.00" y="76.70" width="1.80" height="1.80" fill="#188a93"/>
<rect x="513.00" y="76.70" width="1.80" height="1.80" fill="#188a93"/>
<rect x="401.00" y="76.70" width="1.80" height="1.80" fill="#188a93"/>
<rect x="186.00" y="74.70" width="1.80" height="1.80" fill="#188a93"/>
<rect x="292.00" y="74.70" width="1.80" height="1.80" fill="#188a93"/>
<rect x="355.00" y="75.70" width="1.80" height="1.80" fill="#188a93"/>
<rect x="259.00" y="76.70" width="1.80" height="1.80" fill="#188a93"/>
<rect x="267.00" y="75.70" width="1.80" height="1.80" fill="#188a93"/>
<rect x="302.00" y="75.70" width="1.80" height="1.80" fill="#188a93"/>
<rect x="150.00" y="75.70" width="1.80" height="1.80" fill="#188a93"/>
<rect x="124.00" y="76.70" width="1.80" height="1.80" fill="#188a93"/>
<rect x="369.00" y="76.70" width="1.80" height="1.80" fill="#188a93"/>
<rect x="273.00" y="73.70" width="1.80" height="1.80" fill="#188a93"/>
<rect x="533.00" y="76.70" width="1.80" height="1.80" fill="#188a93"/>
<rect x="137.00" y="75.70" width="1.80" height="1.80" fill="#188a93"/>
<rect x="495.00" y="76.70" width="1.80" height="1.80" fill="#188a93"/>
<rect x="328.00" y="74.70" width="1.80" height="1.80" fill="#188a93"/>
<rect x="433.00" y="74.70" width="1.80" height="1.80" fill="#188a93"/>
<rect x="213.00" y="76.70" width="1.80" height="1.80" fill="#188a93"/>
<rect x="201.00" y="76.70" width="1.80" height="1.80" fill="#188a93"/>
<rect x="197.00" y="75.70" width="1.80" height="1.80" fill="#188a93"/>
<rect x="162.00" y="76.70" width="1.80" height="1.80" fill="#188a93"/>
<rect x="207.00" y="74.70" width="1.80" height="1.80" fill="#188a93"/>
<rect x="163.00" y="76.70" width="1.80" height="1.80" fill="#188a93"/>
<rect x="193.00" y="76.70" width="1.80" height="1.80" fill="#188a93"/>
<rect x="323.00" y="75.70" width="1.80" height="1.80" fill="#188a93"/>
<rect x="122.00" y="75.70" width="1.80" height="1.80" fill="#188a93"/>
<rect x="92.00" y="76.70" width="1.80" height="1.80" fill="#188a93"/>
<rect x="491.00" y="76.70" width="1.80" height="1.80" fill="#188a93"/>
<rect x="286.00" y="76.70" width="1.80" height="1.80" fill="#188a93"/>
<rect x="488.00" y="76.70" width="1.80" height="1.80" fill="#188a93"/>
<rect x="98.00" y="75.70" width="1.80" height="1.80" fill="#188a93"/>
<rect x="465.00" y="76.70" width="1.80" height="1.80" fill="#188a93"/>
<rect x="110.00" y="75.70" width="1.80" height="1.80" fill="#188a93"/>
<rect x="158.00" y="75.70" width="1.80" height="1.80" fill="#188a93"/>
<rect x="440.00" y="75.70" width="1.80" height="1.80" fill="#188a93"/>
<rect x="78.00" y="75.70" width="1.80" height="1.80" fill="#188a93"/>
<rect x="409.00" y="76.70" width="1.80" height="1.80" fill="#188a93"/>
<rect x="92.00" y="76.70" width="1.80" height="1.80" fill="#188a93"/>
<rect x="95.00" y="73.70" width="1.80" height="1.80" fill="#188a93"/>
<rect x="93.00" y="74.70" width="1.80" height="1.80" fill="#188a93"/>
<rect x="505.00" y="74.70" width="1.80" height="1.80" fill="#188a93"/>
<rect x="461.00" y="75.70" width="1.80" height="1.80" fill="#188a93"/>
<rect x="250.00" y="75.70" width="1.80" height="1.80" fill="#188a93"/>
<rect x="111.00" y="76.70" width="1.80" height="1.80" fill="#188a93"/>
<rect x="308.00" y="75.70" width="1.80" height="1.80" fill="#188a93"/>
<rect x="267.00" y="74.70" width="1.80" height="1.80" fill="#188a93"/>
<rect x="388.00" y="76.70" width="1.80" height="1.80" fill="#188a93"/>
<path d="M74.6,106.2 L74.6,105.7 L75.6,105.6 L76.6,105.8 L77.6,106.0 L78.6,105.3 L79.6,105.6 L80.6,105.8 L81.6,106.2 L82.6,105.5 L83.6,105.4 L84.6,105.8 L85.6,106.2 L86.6,105.5 L87.6,105.4 L88.6,105.5 L89.6,105.6 L90.6,105.3 L91.6,104.4 L92.6,104.1 L93.6,103.3 L94.6,102.0 L95.6,100.5 L96.6,98.6 L97.6,97.6 L98.6,96.6 L99.6,97.2 L100.6,97.7 L101.6,96.3 L102.6,87.5 L103.6,81.2 L104.6,89.0 L105.6,98.1 L106.6,100.7 L107.6,101.6 L108.6,102.0 L109.6,103.2 L110.6,104.2 L111.6,105.1 L112.6,105.4 L113.6,105.3 L114.6,105.4 L115.6,105.5 L116.6,105.9 L117.6,105.4 L118.6,106.2 L119.6,105.4 L120.6,105.9 L121.6,105.6 L122.6,105.5 L123.6,105.4 L124.6,103.0 L125.6,99.8 L126.6,98.5 L127.6,100.8 L128.6,102.7 L129.6,103.5 L130.6,103.7 L131.6,104.3 L132.6,104.4 L133.6,104.7 L134.6,105.5 L135.6,105.0 L136.6,105.9 L137.6,105.8 L138.6,106.0 L139.6,105.3 L140.6,105.5 L141.6,106.0 L142.6,105.4 L143.6,105.4 L144.6,105.6 L145.6,105.6 L146.6,105.9 L147.6,105.8 L148.6,105.8 L149.6,105.4 L150.6,105.5 L151.6,105.6 L152.6,105.9 L153.6,106.0 L154.6,105.8 L155.6,105.9 L156.6,105.7 L157.6,106.0 L158.6,106.2 L159.6,105.3 L160.6,105.8 L161.6,105.8 L162.6,105.6 L163.6,105.5 L164.6,105.4 L165.6,105.5 L166.6,105.8 L167.6,106.1 L168.6,105.9 L169.6,105.9 L170.6,105.5 L171.6,105.7 L172.6,105.6 L173.6,106.2 L174.6,106.1 L175.6,105.4 L176.6,105.9 L177.6,105.6 L178.6,106.1 L179.6,105.5 L180.6,105.4 L181.6,105.6 L182.6,105.5 L183.6,106.2 L184.6,106.1 L185.6,105.6 L186.6,105.6 L187.6,106.1 L188.6,106.1 L189.6,105.4 L190.6,105.9 L191.6,105.5 L192.6,105.5 L193.6,105.6 L194.6,105.6 L195.6,106.0 L196.6,105.5 L197.6,105.7 L198.6,106.0 L199.6,105.9 L200.6,105.6 L201.6,105.4 L202.6,105.8 L203.6,106.0 L204.6,105.2 L205.6,104.6 L206.6,102.9 L207.6,103.1 L208.6,105.2 L209.6,105.8 L210.6,106.0 L211.6,105.8 L212.6,105.6 L213.6,105.9 L214.6,105.9 L215.6,105.9 L216.6,105.5 L217.6,106.0 L218.6,105.5 L219.6,106.2 L220.6,105.4 L221.6,105.3 L222.6,105.8 L223.6,105.7 L224.6,105.6 L225.6,105.4 L226.6,106.0 L227.6,105.7 L228.6,105.4 L229.6,105.5 L230.6,105.9 L231.6,105.9 L232.6,105.9 L233.6,106.1 L234.6,105.9 L235.6,106.1 L236.6,106.0 L237.6,105.6 L238.6,105.3 L239.6,105.9 L240.6,105.7 L241.6,105.9 L242.6,105.3 L243.6,105.4 L244.6,105.4 L245.6,105.4 L246.6,105.5 L247.6,105.5 L248.6,106.0 L249.6,105.9 L250.6,105.6 L251.6,105.8 L252.6,105.9 L253.6,106.2 L254.6,105.8 L255.6,105.6 L256.6,106.2 L257.6,106.2 L258.6,105.7 L259.6,105.9 L260.6,105.7 L261.6,105.7 L262.6,105.8 L263.6,105.9 L264.6,106.1 L265.6,105.9 L266.6,105.5 L267.6,106.1 L268.6,106.2 L269.6,105.5 L270.6,105.6 L271.6,105.8 L272.6,106.1 L273.6,106.1 L274.6,105.6 L275.6,106.0 L276.6,105.5 L277.6,105.3 L278.6,106.1 L279.6,104.4 L280.6,101.0 L281.6,101.9 L282.6,105.0 L283.6,105.6 L284.6,105.7 L285.6,105.8 L286.6,106.1 L287.6,106.2 L288.6,106.1 L289.6,106.2 L290.6,106.0 L291.6,106.0 L292.6,105.3 L293.6,105.9 L294.6,105.3 L295.6,104.9 L296.6,105.0 L297.6,104.4 L298.6,103.9 L299.6,103.6 L300.6,103.6 L301.6,103.6 L302.6,102.6 L303.6,100.9 L304.6,99.7 L305.6,99.7 L306.6,101.7 L307.6,104.1 L308.6,105.4 L309.6,105.6 L310.6,105.9 L311.6,105.8 L312.6,105.4 L313.6,106.1 L314.6,105.6 L315.6,106.0 L316.6,105.3 L317.6,106.0 L318.6,105.6 L319.6,106.1 L320.6,105.4 L321.6,105.4 L322.6,105.4 L323.6,106.0 L324.6,106.2 L325.6,105.6 L326.6,105.6 L327.6,105.6 L328.6,105.4 L329.6,105.3 L330.6,105.9 L331.6,105.4 L332.6,105.4 L333.6,106.1 L334.6,105.6 L335.6,105.7 L336.6,104.8 L337.6,104.4 L338.6,104.4 L339.6,103.9 L340.6,102.7 L341.6,103.0 L342.6,102.5 L343.6,101.5 L344.6,99.4 L345.6,96.2 L346.6,95.5 L347.6,98.3 L348.6,102.1 L349.6,104.7 L350.6,105.5 L351.6,105.7 L352.6,106.2 L353.6,106.2 L354.6,105.3 L355.6,106.0 L356.6,105.4 L357.6,105.5 L358.6,105.8 L359.6,105.7 L360.6,105.7 L361.6,105.9 L362.6,105.0 L363.6,103.3 L364.6,103.1 L365.6,105.2 L366.6,105.2 L367.6,105.6 L368.6,106.2 L369.6,106.1 L370.6,105.6 L371.6,106.2 L372.6,106.1 L373.6,106.2 L374.6,105.4 L375.6,105.5 L376.6,106.0 L377.6,105.3 L378.6,105.7 L379.6,105.6 L380.6,105.4 L381.6,105.5 L382.6,105.6 L383.6,105.9 L384.6,106.0 L385.6,106.0 L386.6,106.2 L387.6,105.3 L388.6,105.2 L389.6,105.0 L390.6,104.8 L391.6,103.6 L392.6,103.8 L393.6,104.6 L394.6,105.6 L395.6,105.4 L396.6,105.6 L397.6,105.9 L398.6,105.9 L399.6,106.0 L400.6,105.9 L401.6,105.4 L402.6,106.2 L403.6,105.5 L404.6,105.4 L405.6,105.5 L406.6,105.7 L407.6,105.8 L408.6,105.9 L409.6,105.5 L410.6,105.5 L411.6,106.2 L412.6,105.7 L413.6,106.1 L414.6,105.8 L415.6,106.2 L416.6,105.7 L417.6,105.6 L418.6,105.5 L419.6,105.7 L420.6,105.9 L421.6,105.8 L422.6,105.7 L423.6,105.9 L424.6,105.5 L425.6,106.2 L426.6,105.9 L427.6,106.1 L428.6,105.6 L429.6,105.5 L430.6,105.3 L431.6,105.7 L432.6,105.1 L433.6,104.2 L434.6,102.0 L435.6,102.7 L436.6,104.4 L437.6,105.2 L438.6,106.0 L439.6,106.1 L440.6,105.4 L441.6,105.5 L442.6,105.8 L443.6,105.3 L444.6,105.7 L445.6,106.1 L446.6,105.9 L447.6,106.1 L448.6,105.2 L449.6,104.8 L450.6,104.2 L451.6,103.9 L452.6,103.8 L453.6,104.7 L454.6,105.5 L455.6,105.7 L456.6,105.7 L457.6,106.0 L458.6,105.3 L459.6,105.6 L460.6,105.4 L461.6,106.1 L462.6,105.7 L463.6,105.6 L464.6,105.7 L465.6,106.2 L466.6,105.7 L467.6,105.7 L468.6,105.4 L469.6,105.8 L470.6,105.7 L471.6,105.9 L472.6,105.8 L473.6,105.6 L474.6,106.0 L475.6,106.0 L476.6,105.9 L477.6,105.6 L478.6,105.6 L479.6,105.7 L480.6,106.0 L481.6,105.5 L482.6,105.5 L483.6,105.6 L484.6,105.5 L485.6,105.3 L486.6,105.5 L487.6,105.7 L488.6,105.9 L489.6,106.0 L490.6,105.3 L491.6,106.0 L492.6,105.3 L493.6,105.3 L494.6,106.1 L495.6,105.6 L496.6,106.0 L497.6,106.1 L498.6,106.1 L499.6,105.9 L500.6,105.9 L501.6,106.0 L502.6,106.1 L503.6,105.4 L504.6,105.9 L505.6,105.3 L506.6,105.5 L507.6,105.7 L508.6,104.5 L509.6,104.3 L510.6,103.7 L511.6,102.2 L512.6,101.9 L513.6,101.3 L514.6,99.4 L515.6,94.9 L516.6,88.5 L517.6,82.2 L518.6,82.8 L519.6,90.2 L520.6,97.3 L521.6,100.7 L522.6,101.9 L523.6,102.9 L524.6,103.7 L525.6,104.3 L526.6,105.0 L527.6,105.4 L528.6,105.7 L529.6,104.2 L530.6,100.6 L531.6,101.0 L532.6,104.7 L533.6,105.5 L534.6,105.4 L535.6,106.0 L536.6,105.8 L537.6,105.6 L538.6,106.1 L539.6,105.4 L540.6,105.8 L541.6,106.2 L542.6,105.4 L543.6,105.7 L544.6,105.6 L545.6,105.4 L546.6,105.4 L547.0,106.2 Z" fill="#188a93"/>
<rect x="76.00" y="133.00" width="1.00" height="2.00" fill="#5a12a0"/>
<rect x="77.00" y="133.00" width="1.00" height="1.00" fill="#5a12a0"/>
<rect x="78.00" y="133.00" width="1.00" height="1.00" fill="#5a12a0"/>
<rect x="79.00" y="132.00" width="1.00" height="2.00" fill="#5a12a0"/>
<rect x="80.00" y="133.00" width="1.00" height="2.00" fill="#5a12a0"/>
<rect x="81.00" y="133.00" width="1.00" height="2.00" fill="#5a12a0"/>
<rect x="82.00" y="133.00" width="1.00" height="2.00" fill="#5a12a0"/>
<rect x="83.00" y="133.00" width="1.00" height="2.00" fill="#5a12a0"/>
<rect x="84.00" y="133.00" width="1.00" height="1.00" fill="#5a12a0"/>
<rect x="85.00" y="133.00" width="1.00" height="1.00" fill="#5a12a0"/>
<rect x="87.00" y="133.00" width="1.00" height="2.00" fill="#5a12a0"/>
<rect x="88.00" y="132.00" width="1.00" height="2.00" fill="#5a12a0"/>
<rect x="89.00" y="132.00" width="1.00" height="2.00" fill="#5a12a0"/>
<rect x="90.00" y="132.00" width="1.00" height="2.00" fill="#5a12a0"/>
<rect x="91.00" y="128.00" width="1.00" height="6.00" fill="#5a12a0"/>
<rect x="91.50" y="123.00" width="1.80" height="1.80" fill="#5a12a0"/>
<rect x="92.00" y="129.00" width="1.00" height="5.00" fill="#5a12a0"/>
<rect x="92.50" y="120.00" width="1.80" height="1.80" fill="#5a12a0"/>
<rect x="93.00" y="125.00" width="1.00" height="10.00" fill="#5a12a0"/>
<rect x="93.00" y="113.00" width="1.80" height="1.80" fill="#5a12a0"/>
<rect x="92.50" y="121.00" width="1.80" height="1.80" fill="#5a12a0"/>
<rect x="92.50" y="114.00" width="1.80" height="1.80" fill="#5a12a0"/>
<rect x="94.00" y="124.00" width="1.00" height="11.00" fill="#5a12a0"/>
<rect x="94.50" y="117.00" width="1.80" height="1.80" fill="#5a12a0"/>
<rect x="93.50" y="113.00" width="1.80" height="1.80" fill="#5a12a0"/>
<rect x="95.00" y="125.00" width="1.00" height="9.00" fill="#5a12a0"/>
<rect x="95.00" y="111.00" width="1.80" height="1.80" fill="#5a12a0"/>
<rect x="95.00" y="117.00" width="1.80" height="1.80" fill="#5a12a0"/>
<rect x="95.50" y="112.00" width="1.80" height="1.80" fill="#5a12a0"/>
<rect x="96.00" y="126.00" width="1.00" height="8.00" fill="#5a12a0"/>
<rect x="95.50" y="119.00" width="1.80" height="1.80" fill="#5a12a0"/>
<rect x="96.00" y="121.00" width="1.80" height="1.80" fill="#5a12a0"/>
<rect x="96.00" y="114.00" width="1.80" height="1.80" fill="#5a12a0"/>
<rect x="96.00" y="114.00" width="1.80" height="1.80" fill="#5a12a0"/>
<rect x="97.00" y="126.00" width="1.00" height="8.00" fill="#5a12a0"/>
<rect x="96.50" y="121.00" width="1.80" height="1.80" fill="#5a12a0"/>
<rect x="97.00" y="114.00" width="1.80" height="1.80" fill="#5a12a0"/>
<rect x="97.00" y="117.00" width="1.80" height="1.80" fill="#5a12a0"/>
<rect x="96.50" y="115.00" width="1.80" height="1.80" fill="#5a12a0"/>
<rect x="98.00" y="120.00" width="1.00" height="14.00" fill="#5a12a0"/>
<rect x="98.50" y="118.00" width="1.80" height="1.80" fill="#5a12a0"/>
<rect x="99.00" y="117.00" width="1.00" height="17.00" fill="#5a12a0"/>
<rect x="99.00" y="115.00" width="1.80" height="1.80" fill="#5a12a0"/>
<rect x="98.50" y="111.00" width="1.80" height="1.80" fill="#5a12a0"/>
<rect x="98.50" y="111.00" width="1.80" height="1.80" fill="#5a12a0"/>
<rect x="100.00" y="123.00" width="1.00" height="11.00" fill="#5a12a0"/>
<rect x="99.50" y="120.00" width="1.80" height="1.80" fill="#5a12a0"/>
<rect x="101.00" y="124.00" width="1.00" height="11.00" fill="#5a12a0"/>
<rect x="100.50" y="111.00" width="1.80" height="1.80" fill="#5a12a0"/>
<rect x="101.50" y="109.00" width="1.80" height="1.80" fill="#5a12a0"/>
<rect x="101.50" y="120.00" width="1.80" height="1.80" fill="#5a12a0"/>
<rect x="102.00" y="120.00" width="1.00" height="14.00" fill="#5a12a0"/>
<rect x="102.50" y="112.00" width="1.80" height="1.80" fill="#5a12a0"/>
<rect x="102.00" y="110.00" width="1.80" height="1.80" fill="#5a12a0"/>
<rect x="102.50" y="117.00" width="1.80" height="1.80" fill="#5a12a0"/>
<rect x="101.50" y="117.00" width="1.80" height="1.80" fill="#5a12a0"/>
<rect x="103.00" y="120.00" width="1.00" height="15.00" fill="#5a12a0"/>
<rect x="103.50" y="109.00" width="1.80" height="1.80" fill="#5a12a0"/>
<rect x="103.00" y="117.00" width="1.80" height="1.80" fill="#5a12a0"/>
<rect x="102.50" y="116.00" width="1.80" height="1.80" fill="#5a12a0"/>
<rect x="104.00" y="123.00" width="1.00" height="12.00" fill="#5a12a0"/>
<rect x="103.50" y="115.00" width="1.80" height="1.80" fill="#5a12a0"/>
<rect x="103.50" y="112.00" width="1.80" height="1.80" fill="#5a12a0"/>
<rect x="104.50" y="115.00" width="1.80" height="1.80" fill="#5a12a0"/>
<rect x="105.00" y="123.00" width="1.00" height="12.00" fill="#5a12a0"/>
<rect x="105.00" y="119.00" width="1.80" height="1.80" fill="#5a12a0"/>
<rect x="105.50" y="116.00" width="1.80" height="1.80" fill="#5a12a0"/>
<rect x="105.00" y="115.00" width="1.80" height="1.80" fill="#5a12a0"/>
<rect x="106.00" y="122.00" width="1.00" height="12.00" fill="#5a12a0"/>
<rect x="106.50" y="116.00" width="1.80" height="1.80" fill="#5a12a0"/>
<rect x="106.50" y="120.00" width="1.80" height="1.80" fill="#5a12a0"/>
<rect x="107.00" y="126.00" width="1.00" height="8.00" fill="#5a12a0"/>
<rect x="106.50" y="124.00" width="1.80" height="1.80" fill="#5a12a0"/>
<rect x="107.00" y="114.00" width="1.80" height="1.80" fill="#5a12a0"/>
<rect x="108.00" y="124.00" width="1.00" height="10.00" fill="#5a12a0"/>
<rect x="107.50" y="118.00" width="1.80" height="1.80" fill="#5a12a0"/>
<rect x="109.00" y="129.00" width="1.00" height="5.00" fill="#5a12a0"/>
<rect x="109.00" y="119.00" width="1.80" height="1.80" fill="#5a12a0"/>
<rect x="109.50" y="126.00" width="1.80" height="1.80" fill="#5a12a0"/>
<rect x="110.00" y="128.00" width="1.00" height="7.00" fill="#5a12a0"/>
<rect x="109.50" y="120.00" width="1.80" height="1.80" fill="#5a12a0"/>
<rect x="111.00" y="129.00" width="1.00" height="6.00" fill="#5a12a0"/>
<rect x="110.50" y="125.00" width="1.80" height="1.80" fill="#5a12a0"/>
<rect x="112.00" y="127.00" width="1.00" height="7.00" fill="#5a12a0"/>
<rect x="112.00" y="119.00" width="1.80" height="1.80" fill="#5a12a0"/>
<rect x="113.00" y="130.00" width="1.00" height="4.00" fill="#5a12a0"/>
<rect x="113.00" y="121.00" width="1.80" height="1.80" fill="#5a12a0"/>
<rect x="113.50" y="120.00" width="1.80" height="1.80" fill="#5a12a0"/>
<rect x="114.00" y="131.00" width="1.00" height="4.00" fill="#5a12a0"/>
<rect x="115.00" y="132.00" width="1.00" height="2.00" fill="#5a12a0"/>
<rect x="116.00" y="133.00" width="1.00" height="1.00" fill="#5a12a0"/>
<rect x="122.00" y="133.00" width="1.00" height="1.00" fill="#5a12a0"/>
<rect x="123.00" y="131.00" width="1.00" height="3.00" fill="#5a12a0"/>
<rect x="123.50" y="129.00" width="1.80" height="1.80" fill="#5a12a0"/>
<rect x="124.00" y="128.00" width="1.00" height="6.00" fill="#5a12a0"/>
<rect x="124.50" y="122.00" width="1.80" height="1.80" fill="#5a12a0"/>
<rect x="125.00" y="128.00" width="1.00" height="7.00" fill="#5a12a0"/>
<rect x="124.50" y="118.00" width="1.80" height="1.80" fill="#5a12a0"/>
<rect x="125.50" y="124.00" width="1.80" height="1.80" fill="#5a12a0"/>
<rect x="126.00" y="127.00" width="1.00" height="7.00" fill="#5a12a0"/>
<rect x="126.50" y="124.00" width="1.80" height="1.80" fill="#5a12a0"/>
<rect x="125.50" y="124.00" width="1.80" height="1.80" fill="#5a12a0"/>
<rect x="127.00" y="129.00" width="1.00" height="6.00" fill="#5a12a0"/>
<rect x="128.00" y="128.00" width="1.00" height="7.00" fill="#5a12a0"/>
<rect x="129.00" y="129.00" width="1.00" height="5.00" fill="#5a12a0"/>
<rect x="130.00" y="131.00" width="1.00" height="3.00" fill="#5a12a0"/>
<rect x="129.50" y="123.00" width="1.80" height="1.80" fill="#5a12a0"/>
<rect x="131.00" y="131.00" width="1.00" height="4.00" fill="#5a12a0"/>
<rect x="132.00" y="131.00" width="1.00" height="4.00" fill="#5a12a0"/>
<rect x="131.50" y="122.00" width="1.80" height="1.80" fill="#5a12a0"/>
<rect x="133.00" y="131.00" width="1.00" height="4.00" fill="#5a12a0"/>
<rect x="133.00" y="124.00" width="1.80" height="1.80" fill="#5a12a0"/>
<rect x="134.00" y="131.00" width="1.00" height="3.00" fill="#5a12a0"/>
<rect x="133.50" y="127.00" width="1.80" height="1.80" fill="#5a12a0"/>
<rect x="135.00" y="132.00" width="1.00" height="3.00" fill="#5a12a0"/>
<rect x="136.00" y="132.00" width="1.00" height="2.00" fill="#5a12a0"/>
<rect x="145.00" y="133.00" width="1.00" height="1.00" fill="#5a12a0"/>
<rect x="146.00" y="133.00" width="1.00" height="1.00" fill="#5a12a0"/>
<rect x="147.00" y="132.00" width="1.00" height="3.00" fill="#5a12a0"/>
<rect x="148.00" y="132.00" width="1.00" height="2.00" fill="#5a12a0"/>
<rect x="149.00" y="132.00" width="1.00" height="2.00" fill="#5a12a0"/>
<rect x="150.00" y="132.00" width="1.00" height="3.00" fill="#5a12a0"/>
<rect x="151.00" y="132.00" width="1.00" height="3.00" fill="#5a12a0"/>
<rect x="152.00" y="132.00" width="1.00" height="2.00" fill="#5a12a0"/>
<rect x="153.00" y="132.00" width="1.00" height="2.00" fill="#5a12a0"/>
<rect x="154.00" y="133.00" width="1.00" height="2.00" fill="#5a12a0"/>
<rect x="155.00" y="133.00" width="1.00" height="1.00" fill="#5a12a0"/>
<rect x="157.00" y="133.00" width="1.00" height="1.00" fill="#5a12a0"/>
<rect x="158.00" y="133.00" width="1.00" height="1.00" fill="#5a12a0"/>
<rect x="159.00" y="131.00" width="1.00" height="3.00" fill="#5a12a0"/>
<rect x="160.00" y="132.00" width="1.00" height="3.00" fill="#5a12a0"/>
<rect x="161.00" y="133.00" width="1.00" height="1.00" fill="#5a12a0"/>
<rect x="168.00" y="133.00" width="1.00" height="1.00" fill="#5a12a0"/>
<rect x="169.00" y="133.00" width="1.00" height="1.00" fill="#5a12a0"/>
<rect x="170.00" y="133.00" width="1.00" height="2.00" fill="#5a12a0"/>
<rect x="171.00" y="132.00" width="1.00" height="2.00" fill="#5a12a0"/>
<rect x="172.00" y="132.00" width="1.00" height="2.00" fill="#5a12a0"/>
<rect x="173.00" y="132.00" width="1.00" height="2.00" fill="#5a12a0"/>
<rect x="174.00" y="133.00" width="1.00" height="2.00" fill="#5a12a0"/>
<rect x="175.00" y="133.00" width="1.00" height="2.00" fill="#5a12a0"/>
<rect x="176.00" y="132.00" width="1.00" height="2.00" fill="#5a12a0"/>
<rect x="177.00" y="132.00" width="1.00" height="2.00" fill="#5a12a0"/>
<rect x="178.00" y="133.00" width="1.00" height="2.00" fill="#5a12a0"/>
<rect x="180.00" y="133.00" width="1.00" height="1.00" fill="#5a12a0"/>
<rect x="181.00" y="133.00" width="1.00" height="1.00" fill="#5a12a0"/>
<rect x="204.00" y="132.00" width="1.00" height="2.00" fill="#5a12a0"/>
<rect x="205.00" y="131.00" width="1.00" height="3.00" fill="#5a12a0"/>
<rect x="205.00" y="128.00" width="1.80" height="1.80" fill="#5a12a0"/>
<rect x="206.00" y="131.00" width="1.00" height="3.00" fill="#5a12a0"/>
<rect x="205.50" y="125.00" width="1.80" height="1.80" fill="#5a12a0"/>
<rect x="207.00" y="133.00" width="1.00" height="2.00" fill="#5a12a0"/>
<rect x="222.00" y="133.00" width="1.00" height="1.00" fill="#5a12a0"/>
<rect x="223.00" y="133.00" width="1.00" height="1.00" fill="#5a12a0"/>
<rect x="224.00" y="133.00" width="1.00" height="1.00" fill="#5a12a0"/>
<rect x="225.00" y="133.00" width="1.00" height="1.00" fill="#5a12a0"/>
<rect x="226.00" y="132.00" width="1.00" height="2.00" fill="#5a12a0"/>
<rect x="227.00" y="132.00" width="1.00" height="2.00" fill="#5a12a0"/>
<rect x="228.00" y="133.00" width="1.00" height="1.00" fill="#5a12a0"/>
<rect x="229.00" y="132.00" width="1.00" height="2.00" fill="#5a12a0"/>
<rect x="230.00" y="132.00" width="1.00" height="2.00" fill="#5a12a0"/>
<rect x="231.00" y="133.00" width="1.00" height="2.00" fill="#5a12a0"/>
<rect x="232.00" y="133.00" width="1.00" height="2.00" fill="#5a12a0"/>
<rect x="233.00" y="133.00" width="1.00" height="1.00" fill="#5a12a0"/>
<rect x="234.00" y="133.00" width="1.00" height="1.00" fill="#5a12a0"/>
<rect x="235.00" y="133.00" width="1.00" height="2.00" fill="#5a12a0"/>
<rect x="236.00" y="133.00" width="1.00" height="1.00" fill="#5a12a0"/>
<rect x="238.00" y="133.00" width="1.00" height="1.00" fill="#5a12a0"/>
<rect x="246.00" y="133.00" width="1.00" height="1.00" fill="#5a12a0"/>
<rect x="247.00" y="133.00" width="1.00" height="1.00" fill="#5a12a0"/>
<rect x="248.00" y="133.00" width="1.00" height="2.00" fill="#5a12a0"/>
<rect x="249.00" y="133.00" width="1.00" height="1.00" fill="#5a12a0"/>
<rect x="250.00" y="133.00" width="1.00" height="2.00" fill="#5a12a0"/>
<rect x="251.00" y="133.00" width="1.00" height="2.00" fill="#5a12a0"/>
<rect x="252.00" y="132.00" width="1.00" height="2.00" fill="#5a12a0"/>
<rect x="253.00" y="132.00" width="1.00" height="2.00" fill="#5a12a0"/>
<rect x="254.00" y="132.00" width="1.00" height="2.00" fill="#5a12a0"/>
<rect x="255.00" y="133.00" width="1.00" height="1.00" fill="#5a12a0"/>
<rect x="256.00" y="133.00" width="1.00" height="1.00" fill="#5a12a0"/>
<rect x="257.00" y="133.00" width="1.00" height="1.00" fill="#5a12a0"/>
<rect x="258.00" y="133.00" width="1.00" height="2.00" fill="#5a12a0"/>
<rect x="259.00" y="133.00" width="1.00" height="1.00" fill="#5a12a0"/>
<rect x="260.00" y="133.00" width="1.00" height="1.00" fill="#5a12a0"/>
<rect x="263.00" y="133.00" width="1.00" height="1.00" fill="#5a12a0"/>
<rect x="264.00" y="133.00" width="1.00" height="2.00" fill="#5a12a0"/>
<rect x="265.00" y="133.00" width="1.00" height="1.00" fill="#5a12a0"/>
<rect x="266.00" y="133.00" width="1.00" height="1.00" fill="#5a12a0"/>
<rect x="267.00" y="132.00" width="1.00" height="2.00" fill="#5a12a0"/>
<rect x="268.00" y="132.00" width="1.00" height="2.00" fill="#5a12a0"/>
<rect x="269.00" y="132.00" width="1.00" height="2.00" fill="#5a12a0"/>
<rect x="270.00" y="132.00" width="1.00" height="2.00" fill="#5a12a0"/>
<rect x="271.00" y="132.00" width="1.00" height="2.00" fill="#5a12a0"/>
<rect x="272.00" y="133.00" width="1.00" height="1.00" fill="#5a12a0"/>
<rect x="273.00" y="133.00" width="1.00" height="1.00" fill="#5a12a0"/>
<rect x="274.00" y="133.00" width="1.00" height="1.00" fill="#5a12a0"/>
<rect x="275.00" y="133.00" width="1.00" height="1.00" fill="#5a12a0"/>
<rect x="279.00" y="132.00" width="1.00" height="2.00" fill="#5a12a0"/>
<rect x="280.00" y="125.00" width="1.00" height="10.00" fill="#5a12a0"/>
<rect x="279.50" y="114.00" width="1.80" height="1.80" fill="#5a12a0"/>
<rect x="281.00" y="129.00" width="1.00" height="6.00" fill="#5a12a0"/>
<rect x="281.50" y="126.00" width="1.80" height="1.80" fill="#5a12a0"/>
<rect x="281.50" y="115.00" width="1.80" height="1.80" fill="#5a12a0"/>
<rect x="282.00" y="133.00" width="1.00" height="1.00" fill="#5a12a0"/>
<rect x="286.00" y="132.00" width="1.00" height="2.00" fill="#5a12a0"/>
<rect x="287.00" y="132.00" width="1.00" height="3.00" fill="#5a12a0"/>
<rect x="288.00" y="130.00" width="1.00" height="5.00" fill="#5a12a0"/>
<rect x="289.00" y="130.00" width="1.00" height="4.00" fill="#5a12a0"/>
<rect x="290.00" y="132.00" width="1.00" height="2.00" fill="#5a12a0"/>
<rect x="291.00" y="132.00" width="1.00" height="2.00" fill="#5a12a0"/>
<rect x="296.00" y="133.00" width="1.00" height="1.00" fill="#5a12a0"/>
<rect x="297.00" y="131.00" width="1.00" height="3.00" fill="#5a12a0"/>
<rect x="298.00" y="132.00" width="1.00" height="2.00" fill="#5a12a0"/>
<rect x="299.00" y="132.00" width="1.00" height="3.00" fill="#5a12a0"/>
<rect x="299.50" y="129.00" width="1.80" height="1.80" fill="#5a12a0"/>
<rect x="300.00" y="132.00" width="1.00" height="2.00" fill="#5a12a0"/>
<rect x="299.50" y="127.00" width="1.80" height="1.80" fill="#5a12a0"/>
<rect x="301.00" y="131.00" width="1.00" height="3.00" fill="#5a12a0"/>
<rect x="300.50" y="129.00" width="1.80" height="1.80" fill="#5a12a0"/>
<rect x="302.00" y="129.00" width="1.00" height="6.00" fill="#5a12a0"/>
<rect x="301.50" y="125.00" width="1.80" height="1.80" fill="#5a12a0"/>
<rect x="303.00" y="126.00" width="1.00" height="8.00" fill="#5a12a0"/>
<rect x="304.00" y="127.00" width="1.00" height="7.00" fill="#5a12a0"/>
<rect x="304.50" y="125.00" width="1.80" height="1.80" fill="#5a12a0"/>
<rect x="303.50" y="111.00" width="1.80" height="1.80" fill="#5a12a0"/>
<rect x="303.50" y="111.00" width="1.80" height="1.80" fill="#5a12a0"/>
<rect x="305.00" y="127.00" width="1.00" height="8.00" fill="#5a12a0"/>
<rect x="305.00" y="119.00" width="1.80" height="1.80" fill="#5a12a0"/>
<rect x="305.50" y="125.00" width="1.80" height="1.80" fill="#5a12a0"/>
<rect x="306.00" y="129.00" width="1.00" height="5.00" fill="#5a12a0"/>
<rect x="306.00" y="127.00" width="1.80" height="1.80" fill="#5a12a0"/>
<rect x="307.00" y="131.00" width="1.00" height="3.00" fill="#5a12a0"/>
<rect x="306.50" y="129.00" width="1.80" height="1.80" fill="#5a12a0"/>
<rect x="308.00" y="133.00" width="1.00" height="2.00" fill="#5a12a0"/>
<rect x="320.00" y="133.00" width="1.00" height="1.00" fill="#5a12a0"/>
<rect x="321.00" y="133.00" width="1.00" height="1.00" fill="#5a12a0"/>
<rect x="322.00" y="133.00" width="1.00" height="1.00" fill="#5a12a0"/>
<rect x="323.00" y="133.00" width="1.00" height="2.00" fill="#5a12a0"/>
<rect x="324.00" y="132.00" width="1.00" height="2.00" fill="#5a12a0"/>
<rect x="325.00" y="133.00" width="1.00" height="2.00" fill="#5a12a0"/>
<rect x="326.00" y="132.00" width="1.00" height="2.00" fill="#5a12a0"/>
<rect x="327.00" y="133.00" width="1.00" height="1.00" fill="#5a12a0"/>
<rect x="328.00" y="133.00" width="1.00" height="2.00" fill="#5a12a0"/>
<rect x="329.00" y="133.00" width="1.00" height="2.00" fill="#5a12a0"/>
<rect x="330.00" y="133.00" width="1.00" height="1.00" fill="#5a12a0"/>
<rect x="332.00" y="133.00" width="1.00" height="2.00" fill="#5a12a0"/>
<rect x="333.00" y="133.00" width="1.00" height="2.00" fill="#5a12a0"/>
<rect x="334.00" y="132.00" width="1.00" height="3.00" fill="#5a12a0"/>
<rect x="335.00" y="132.00" width="1.00" height="2.00" fill="#5a12a0"/>
<rect x="336.00" y="132.00" width="1.00" height="3.00" fill="#5a12a0"/>
<rect x="337.00" y="132.00" width="1.00" height="2.00" fill="#5a12a0"/>
<rect x="338.00" y="132.00" width="1.00" height="2.00" fill="#5a12a0"/>
<rect x="339.00" y="133.00" width="1.00" height="2.00" fill="#5a12a0"/>
<rect x="340.00" y="131.00" width="1.00" height="3.00" fill="#5a12a0"/>
<rect x="341.00" y="132.00" width="1.00" height="3.00" fill="#5a12a0"/>
<rect x="340.50" y="129.00" width="1.80" height="1.80" fill="#5a12a0"/>
<rect x="342.00" y="127.00" width="1.00" height="8.00" fill="#5a12a0"/>
<rect x="341.50" y="124.00" width="1.80" height="1.80" fill="#5a12a0"/>
<rect x="343.00" y="127.00" width="1.00" height="7.00" fill="#5a12a0"/>
<rect x="342.50" y="112.00" width="1.80" height="1.80" fill="#5a12a0"/>
<rect x="343.50" y="125.00" width="1.80" height="1.80" fill="#5a12a0"/>
<rect x="344.00" y="123.00" width="1.00" height="11.00" fill="#5a12a0"/>
<rect x="344.50" y="110.00" width="1.80" height="1.80" fill="#5a12a0"/>
<rect x="345.00" y="124.00" width="1.00" height="11.00" fill="#5a12a0"/>
<rect x="344.50" y="113.00" width="1.80" height="1.80" fill="#5a12a0"/>
<rect x="344.50" y="118.00" width="1.80" height="1.80" fill="#5a12a0"/>
<rect x="346.00" y="123.00" width="1.00" height="11.00" fill="#5a12a0"/>
<rect x="346.00" y="120.00" width="1.80" height="1.80" fill="#5a12a0"/>
<rect x="347.00" y="126.00" width="1.00" height="9.00" fill="#5a12a0"/>
<rect x="346.50" y="123.00" width="1.80" height="1.80" fill="#5a12a0"/>
<rect x="346.50" y="119.00" width="1.80" height="1.80" fill="#5a12a0"/>
<rect x="348.00" y="128.00" width="1.00" height="7.00" fill="#5a12a0"/>
<rect x="348.50" y="124.00" width="1.80" height="1.80" fill="#5a12a0"/>
<rect x="349.00" y="129.00" width="1.00" height="6.00" fill="#5a12a0"/>
<rect x="348.50" y="126.00" width="1.80" height="1.80" fill="#5a12a0"/>
<rect x="350.00" y="128.00" width="1.00" height="6.00" fill="#5a12a0"/>
<rect x="350.50" y="124.00" width="1.80" height="1.80" fill="#5a12a0"/>
<rect x="351.00" y="130.00" width="1.00" height="5.00" fill="#5a12a0"/>
<rect x="351.00" y="121.00" width="1.80" height="1.80" fill="#5a12a0"/>
<rect x="352.00" y="131.00" width="1.00" height="4.00" fill="#5a12a0"/>
<rect x="353.00" y="132.00" width="1.00" height="3.00" fill="#5a12a0"/>
<rect x="354.00" y="132.00" width="1.00" height="2.00" fill="#5a12a0"/>
<rect x="355.00" y="133.00" width="1.00" height="1.00" fill="#5a12a0"/>
<rect x="361.00" y="132.00" width="1.00" height="3.00" fill="#5a12a0"/>
<rect x="362.00" y="129.00" width="1.00" height="6.00" fill="#5a12a0"/>
<rect x="361.50" y="118.00" width="1.80" height="1.80" fill="#5a12a0"/>
<rect x="362.50" y="119.00" width="1.80" height="1.80" fill="#5a12a0"/>
<rect x="363.00" y="128.00" width="1.00" height="6.00" fill="#5a12a0"/>
<rect x="362.50" y="122.00" width="1.80" height="1.80" fill="#5a12a0"/>
<rect x="364.00" y="133.00" width="1.00" height="2.00" fill="#5a12a0"/>
<rect x="376.00" y="133.00" width="1.00" height="1.00" fill="#5a12a0"/>
<rect x="377.00" y="131.00" width="1.00" height="3.00" fill="#5a12a0"/>
<rect x="378.00" y="128.00" width="1.00" height="6.00" fill="#5a12a0"/>
<rect x="377.50" y="126.00" width="1.80" height="1.80" fill="#5a12a0"/>
<rect x="379.00" y="131.00" width="1.00" height="3.00" fill="#5a12a0"/>
<rect x="379.50" y="127.00" width="1.80" height="1.80" fill="#5a12a0"/>
<rect x="380.00" y="131.00" width="1.00" height="3.00" fill="#5a12a0"/>
<rect x="381.00" y="133.00" width="1.00" height="2.00" fill="#5a12a0"/>
<rect x="384.00" y="133.00" width="1.00" height="1.00" fill="#5a12a0"/>
<rect x="385.00" y="132.00" width="1.00" height="2.00" fill="#5a12a0"/>
<rect x="386.00" y="131.00" width="1.00" height="4.00" fill="#5a12a0"/>
<rect x="387.00" y="130.00" width="1.00" height="5.00" fill="#5a12a0"/>
<rect x="388.00" y="132.00" width="1.00" height="2.00" fill="#5a12a0"/>
<rect x="388.00" y="124.00" width="1.80" height="1.80" fill="#5a12a0"/>
<rect x="389.00" y="133.00" width="1.00" height="1.00" fill="#5a12a0"/>
<rect x="390.00" y="133.00" width="1.00" height="2.00" fill="#5a12a0"/>
<rect x="391.00" y="132.00" width="1.00" height="2.00" fill="#5a12a0"/>
<rect x="392.00" y="130.00" width="1.00" height="5.00" fill="#5a12a0"/>
<rect x="392.50" y="127.00" width="1.80" height="1.80" fill="#5a12a0"/>
<rect x="393.00" y="132.00" width="1.00" height="3.00" fill="#5a12a0"/>
<rect x="393.50" y="124.00" width="1.80" height="1.80" fill="#5a12a0"/>
<rect x="394.00" y="132.00" width="1.00" height="3.00" fill="#5a12a0"/>
<rect x="395.00" y="133.00" width="1.00" height="1.00" fill="#5a12a0"/>
<rect x="398.00" y="133.00" width="1.00" height="1.00" fill="#5a12a0"/>
<rect x="400.00" y="133.00" width="1.00" height="1.00" fill="#5a12a0"/>
<rect x="401.00" y="133.00" width="1.00" height="1.00" fill="#5a12a0"/>
<rect x="402.00" y="133.00" width="1.00" height="1.00" fill="#5a12a0"/>
<rect x="403.00" y="133.00" width="1.00" height="2.00" fill="#5a12a0"/>
<rect x="404.00" y="133.00" width="1.00" height="2.00" fill="#5a12a0"/>
<rect x="405.00" y="133.00" width="1.00" height="2.00" fill="#5a12a0"/>
<rect x="406.00" y="133.00" width="1.00" height="1.00" fill="#5a12a0"/>
<rect x="407.00" y="133.00" width="1.00" height="2.00" fill="#5a12a0"/>
<rect x="408.00" y="133.00" width="1.00" height="2.00" fill="#5a12a0"/>
<rect x="409.00" y="133.00" width="1.00" height="2.00" fill="#5a12a0"/>
<rect x="410.00" y="133.00" width="1.00" height="1.00" fill="#5a12a0"/>
<rect x="411.00" y="133.00" width="1.00" height="1.00" fill="#5a12a0"/>
<rect x="418.00" y="132.00" width="1.00" height="2.00" fill="#5a12a0"/>
<rect x="419.00" y="129.00" width="1.00" height="5.00" fill="#5a12a0"/>
<rect x="419.50" y="127.00" width="1.80" height="1.80" fill="#5a12a0"/>
<rect x="419.00" y="118.00" width="1.80" height="1.80" fill="#5a12a0"/>
<rect x="420.00" y="129.00" width="1.00" height="5.00" fill="#5a12a0"/>
<rect x="420.50" y="121.00" width="1.80" height="1.80" fill="#5a12a0"/>
<rect x="421.00" y="132.00" width="1.00" height="2.00" fill="#5a12a0"/>
<rect x="421.50" y="130.00" width="1.80" height="1.80" fill="#5a12a0"/>
<rect x="433.00" y="133.00" width="1.00" height="1.00" fill="#5a12a0"/>
<rect x="434.00" y="131.00" width="1.00" height="3.00" fill="#5a12a0"/>
<rect x="434.50" y="124.00" width="1.80" height="1.80" fill="#5a12a0"/>
<rect x="435.00" y="130.00" width="1.00" height="4.00" fill="#5a12a0"/>
<rect x="435.00" y="121.00" width="1.80" height="1.80" fill="#5a12a0"/>
<rect x="435.00" y="121.00" width="1.80" height="1.80" fill="#5a12a0"/>
<rect x="436.00" y="130.00" width="1.00" height="4.00" fill="#5a12a0"/>
<rect x="436.50" y="124.00" width="1.80" height="1.80" fill="#5a12a0"/>
<rect x="437.00" y="133.00" width="1.00" height="2.00" fill="#5a12a0"/>
<rect x="450.00" y="132.00" width="1.00" height="2.00" fill="#5a12a0"/>
<rect x="451.00" y="131.00" width="1.00" height="4.00" fill="#5a12a0"/>
<rect x="452.00" y="129.00" width="1.00" height="5.00" fill="#5a12a0"/>
<rect x="452.00" y="127.00" width="1.80" height="1.80" fill="#5a12a0"/>
<rect x="453.00" y="131.00" width="1.00" height="4.00" fill="#5a12a0"/>
<rect x="453.00" y="123.00" width="1.80" height="1.80" fill="#5a12a0"/>
<rect x="454.00" y="132.00" width="1.00" height="2.00" fill="#5a12a0"/>
<rect x="455.00" y="133.00" width="1.00" height="1.00" fill="#5a12a0"/>
<rect x="458.00" y="133.00" width="1.00" height="1.00" fill="#5a12a0"/>
<rect x="459.00" y="133.00" width="1.00" height="2.00" fill="#5a12a0"/>
<rect x="460.00" y="133.00" width="1.00" height="2.00" fill="#5a12a0"/>
<rect x="461.00" y="133.00" width="1.00" height="2.00" fill="#5a12a0"/>
<rect x="462.00" y="132.00" width="1.00" height="2.00" fill="#5a12a0"/>
<rect x="463.00" y="131.00" width="1.00" height="3.00" fill="#5a12a0"/>
<rect x="464.00" y="132.00" width="1.00" height="3.00" fill="#5a12a0"/>
<rect x="465.00" y="132.00" width="1.00" height="2.00" fill="#5a12a0"/>
<rect x="466.00" y="132.00" width="1.00" height="3.00" fill="#5a12a0"/>
<rect x="467.00" y="132.00" width="1.00" height="3.00" fill="#5a12a0"/>
<rect x="468.00" y="132.00" width="1.00" height="2.00" fill="#5a12a0"/>
<rect x="469.00" y="133.00" width="1.00" height="2.00" fill="#5a12a0"/>
<rect x="470.00" y="133.00" width="1.00" height="1.00" fill="#5a12a0"/>
<rect x="471.00" y="133.00" width="1.00" height="1.00" fill="#5a12a0"/>
<rect x="475.00" y="133.00" width="1.00" height="1.00" fill="#5a12a0"/>
<rect x="476.00" y="132.00" width="1.00" height="2.00" fill="#5a12a0"/>
<rect x="477.00" y="131.00" width="1.00" height="3.00" fill="#5a12a0"/>
<rect x="478.00" y="130.00" width="1.00" height="4.00" fill="#5a12a0"/>
<rect x="477.50" y="125.00" width="1.80" height="1.80" fill="#5a12a0"/>
<rect x="479.00" y="130.00" width="1.00" height="5.00" fill="#5a12a0"/>
<rect x="480.00" y="130.00" width="1.00" height="5.00" fill="#5a12a0"/>
<rect x="481.00" y="131.00" width="1.00" height="3.00" fill="#5a12a0"/>
<rect x="482.00" y="132.00" width="1.00" height="2.00" fill="#5a12a0"/>
<rect x="495.00" y="133.00" width="1.00" height="2.00" fill="#5a12a0"/>
<rect x="496.00" y="133.00" width="1.00" height="1.00" fill="#5a12a0"/>
<rect x="497.00" y="133.00" width="1.00" height="2.00" fill="#5a12a0"/>
<rect x="498.00" y="130.00" width="1.00" height="4.00" fill="#5a12a0"/>
<rect x="499.00" y="130.00" width="1.00" height="5.00" fill="#5a12a0"/>
<rect x="498.50" y="125.00" width="1.80" height="1.80" fill="#5a12a0"/>
<rect x="500.00" y="130.00" width="1.00" height="4.00" fill="#5a12a0"/>
<rect x="501.00" y="132.00" width="1.00" height="3.00" fill="#5a12a0"/>
<rect x="502.00" y="131.00" width="1.00" height="3.00" fill="#5a12a0"/>
<rect x="503.00" y="133.00" width="1.00" height="2.00" fill="#5a12a0"/>
<rect x="504.00" y="133.00" width="1.00" height="2.00" fill="#5a12a0"/>
<rect x="505.00" y="133.00" width="1.00" height="1.00" fill="#5a12a0"/>
<rect x="507.00" y="133.00" width="1.00" height="2.00" fill="#5a12a0"/>
<rect x="508.00" y="132.00" width="1.00" height="2.00" fill="#5a12a0"/>
<rect x="509.00" y="132.00" width="1.00" height="2.00" fill="#5a12a0"/>
<rect x="510.00" y="131.00" width="1.00" height="3.00" fill="#5a12a0"/>
<rect x="510.00" y="125.00" width="1.80" height="1.80" fill="#5a12a0"/>
<rect x="511.00" y="130.00" width="1.00" height="4.00" fill="#5a12a0"/>
<rect x="510.50" y="128.00" width="1.80" height="1.80" fill="#5a12a0"/>
<rect x="512.00" y="126.00" width="1.00" height="9.00" fill="#5a12a0"/>
<rect x="512.00" y="115.00" width="1.80" height="1.80" fill="#5a12a0"/>
<rect x="511.50" y="124.00" width="1.80" height="1.80" fill="#5a12a0"/>
<rect x="513.00" y="127.00" width="1.00" height="7.00" fill="#5a12a0"/>
<rect x="514.00" y="122.00" width="1.00" height="13.00" fill="#5a12a0"/>
<rect x="514.00" y="117.00" width="1.80" height="1.80" fill="#5a12a0"/>
<rect x="514.50" y="117.00" width="1.80" height="1.80" fill="#5a12a0"/>
<rect x="514.00" y="117.00" width="1.80" height="1.80" fill="#5a12a0"/>
<rect x="515.00" y="120.00" width="1.00" height="15.00" fill="#5a12a0"/>
<rect x="515.50" y="111.00" width="1.80" height="1.80" fill="#5a12a0"/>
<rect x="516.00" y="120.00" width="1.00" height="14.00" fill="#5a12a0"/>
<rect x="516.50" y="116.00" width="1.80" height="1.80" fill="#5a12a0"/>
<rect x="515.50" y="114.00" width="1.80" height="1.80" fill="#5a12a0"/>
<rect x="517.00" y="125.00" width="1.00" height="9.00" fill="#5a12a0"/>
<rect x="516.50" y="118.00" width="1.80" height="1.80" fill="#5a12a0"/>
<rect x="518.00" y="117.00" width="1.00" height="17.00" fill="#5a12a0"/>
<rect x="517.50" y="111.00" width="1.80" height="1.80" fill="#5a12a0"/>
<rect x="518.00" y="113.00" width="1.80" height="1.80" fill="#5a12a0"/>
<rect x="519.00" y="123.00" width="1.00" height="12.00" fill="#5a12a0"/>
<rect x="519.00" y="108.00" width="1.80" height="1.80" fill="#5a12a0"/>
<rect x="519.00" y="114.00" width="1.80" height="1.80" fill="#5a12a0"/>
<rect x="519.00" y="119.00" width="1.80" height="1.80" fill="#5a12a0"/>
<rect x="519.00" y="117.00" width="1.80" height="1.80" fill="#5a12a0"/>
<rect x="520.00" y="125.00" width="1.00" height="9.00" fill="#5a12a0"/>
<rect x="519.50" y="119.00" width="1.80" height="1.80" fill="#5a12a0"/>
<rect x="519.50" y="121.00" width="1.80" height="1.80" fill="#5a12a0"/>
<rect x="520.00" y="123.00" width="1.80" height="1.80" fill="#5a12a0"/>
<rect x="519.50" y="116.00" width="1.80" height="1.80" fill="#5a12a0"/>
<rect x="521.00" y="121.00" width="1.00" height="13.00" fill="#5a12a0"/>
<rect x="520.50" y="110.00" width="1.80" height="1.80" fill="#5a12a0"/>
<rect x="521.00" y="118.00" width="1.80" height="1.80" fill="#5a12a0"/>
<rect x="521.00" y="118.00" width="1.80" height="1.80" fill="#5a12a0"/>
<rect x="522.00" y="123.00" width="1.00" height="11.00" fill="#5a12a0"/>
<rect x="522.00" y="119.00" width="1.80" height="1.80" fill="#5a12a0"/>
<rect x="521.50" y="115.00" width="1.80" height="1.80" fill="#5a12a0"/>
<rect x="522.50" y="110.00" width="1.80" height="1.80" fill="#5a12a0"/>
<rect x="522.50" y="120.00" width="1.80" height="1.80" fill="#5a12a0"/>
<rect x="523.00" y="123.00" width="1.00" height="11.00" fill="#5a12a0"/>
<rect x="523.00" y="115.00" width="1.80" height="1.80" fill="#5a12a0"/>
<rect x="522.50" y="114.00" width="1.80" height="1.80" fill="#5a12a0"/>
<rect x="522.50" y="120.00" width="1.80" height="1.80" fill="#5a12a0"/>
<rect x="522.50" y="113.00" width="1.80" height="1.80" fill="#5a12a0"/>
<rect x="524.00" y="124.00" width="1.00" height="11.00" fill="#5a12a0"/>
<rect x="524.00" y="111.00" width="1.80" height="1.80" fill="#5a12a0"/>
<rect x="525.00" y="128.00" width="1.00" height="6.00" fill="#5a12a0"/>
<rect x="524.50" y="125.00" width="1.80" height="1.80" fill="#5a12a0"/>
<rect x="524.50" y="120.00" width="1.80" height="1.80" fill="#5a12a0"/>
<rect x="524.50" y="115.00" width="1.80" height="1.80" fill="#5a12a0"/>
<rect x="526.00" y="128.00" width="1.00" height="7.00" fill="#5a12a0"/>
<rect x="526.50" y="125.00" width="1.80" height="1.80" fill="#5a12a0"/>
<rect x="526.50" y="114.00" width="1.80" height="1.80" fill="#5a12a0"/>
<rect x="527.00" y="127.00" width="1.00" height="7.00" fill="#5a12a0"/>
<rect x="526.50" y="119.00" width="1.80" height="1.80" fill="#5a12a0"/>
<rect x="528.00" y="129.00" width="1.00" height="5.00" fill="#5a12a0"/>
<rect x="529.00" y="124.00" width="1.00" height="10.00" fill="#5a12a0"/>
<rect x="529.00" y="118.00" width="1.80" height="1.80" fill="#5a12a0"/>
<rect x="530.00" y="121.00" width="1.00" height="13.00" fill="#5a12a0"/>
<rect x="529.50" y="110.00" width="1.80" height="1.80" fill="#5a12a0"/>
<rect x="530.00" y="108.00" width="1.80" height="1.80" fill="#5a12a0"/>
<rect x="530.50" y="112.00" width="1.80" height="1.80" fill="#5a12a0"/>
<rect x="530.00" y="112.00" width="1.80" height="1.80" fill="#5a12a0"/>
<rect x="531.00" y="127.00" width="1.00" height="7.00" fill="#5a12a0"/>
<rect x="531.00" y="118.00" width="1.80" height="1.80" fill="#5a12a0"/>
<rect x="531.50" y="120.00" width="1.80" height="1.80" fill="#5a12a0"/>
<rect x="531.00" y="124.00" width="1.80" height="1.80" fill="#5a12a0"/>
<rect x="532.00" y="129.00" width="1.00" height="5.00" fill="#5a12a0"/>
<rect x="532.50" y="119.00" width="1.80" height="1.80" fill="#5a12a0"/>
<rect x="532.00" y="120.00" width="1.80" height="1.80" fill="#5a12a0"/>
<rect x="533.00" y="132.00" width="1.00" height="2.00" fill="#5a12a0"/>
<rect x="539.00" y="133.00" width="1.00" height="1.00" fill="#5a12a0"/>
<rect x="540.00" y="133.00" width="1.00" height="1.00" fill="#5a12a0"/>
<rect x="541.00" y="132.00" width="1.00" height="2.00" fill="#5a12a0"/>
<rect x="542.00" y="132.00" width="1.00" height="2.00" fill="#5a12a0"/>
<rect x="543.00" y="132.00" width="1.00" height="3.00" fill="#5a12a0"/>
<rect x="544.00" y="133.00" width="1.00" height="2.00" fill="#5a12a0"/>
<rect x="545.00" y="132.00" width="1.00" height="2.00" fill="#5a12a0"/>
<rect x="361.00" y="132.60" width="1.80" height="1.80" fill="#5a12a0"/>
<rect x="190.00" y="132.60" width="1.80" height="1.80" fill="#5a12a0"/>
<rect x="448.00" y="132.60" width="1.80" height="1.80" fill="#5a12a0"/>
<rect x="506.00" y="130.60" width="1.80" height="1.80" fill="#5a12a0"/>
<rect x="115.00" y="131.60" width="1.80" height="1.80" fill="#5a12a0"/>
<rect x="260.00" y="130.60" width="1.80" height="1.80" fill="#5a12a0"/>
<rect x="465.00" y="132.60" width="1.80" height="1.80" fill="#5a12a0"/>
<rect x="117.00" y="129.60" width="1.80" height="1.80" fill="#5a12a0"/>
<rect x="274.00" y="129.60" width="1.80" height="1.80" fill="#5a12a0"/>
<rect x="401.00" y="130.60" width="1.80" height="1.80" fill="#5a12a0"/>
<rect x="466.00" y="131.60" width="1.80" height="1.80" fill="#5a12a0"/>
<rect x="288.00" y="132.60" width="1.80" height="1.80" fill="#5a12a0"/>
<rect x="404.00" y="131.60" width="1.80" height="1.80" fill="#5a12a0"/>
<rect x="316.00" y="129.60" width="1.80" height="1.80" fill="#5a12a0"/>
<rect x="135.00" y="130.60" width="1.80" height="1.80" fill="#5a12a0"/>
<rect x="95.00" y="131.60" width="1.80" height="1.80" fill="#5a12a0"/>
<rect x="454.00" y="132.60" width="1.80" height="1.80" fill="#5a12a0"/>
<rect x="332.00" y="129.60" width="1.80" height="1.80" fill="#5a12a0"/>
<rect x="375.00" y="131.60" width="1.80" height="1.80" fill="#5a12a0"/>
<rect x="192.00" y="132.60" width="1.80" height="1.80" fill="#5a12a0"/>
<rect x="243.00" y="131.60" width="1.80" height="1.80" fill="#5a12a0"/>
<rect x="170.00" y="132.60" width="1.80" height="1.80" fill="#5a12a0"/>
<rect x="139.00" y="131.60" width="1.80" height="1.80" fill="#5a12a0"/>
<rect x="391.00" y="132.60" width="1.80" height="1.80" fill="#5a12a0"/>
<rect x="189.00" y="131.60" width="1.80" height="1.80" fill="#5a12a0"/>
<rect x="284.00" y="129.60" width="1.80" height="1.80" fill="#5a12a0"/>
<rect x="240.00" y="132.60" width="1.80" height="1.80" fill="#5a12a0"/>
<rect x="492.00" y="132.60" width="1.80" height="1.80" fill="#5a12a0"/>
<rect x="340.00" y="132.60" width="1.80" height="1.80" fill="#5a12a0"/>
<rect x="459.00" y="131.60" width="1.80" height="1.80" fill="#5a12a0"/>
<rect x="433.00" y="132.60" width="1.80" height="1.80" fill="#5a12a0"/>
<rect x="389.00" y="131.60" width="1.80" height="1.80" fill="#5a12a0"/>
<rect x="292.00" y="130.60" width="1.80" height="1.80" fill="#5a12a0"/>
<rect x="466.00" y="132.60" width="1.80" height="1.80" fill="#5a12a0"/>
<rect x="211.00" y="132.60" width="1.80" height="1.80" fill="#5a12a0"/>
<rect x="172.00" y="132.60" width="1.80" height="1.80" fill="#5a12a0"/>
<rect x="207.00" y="132.60" width="1.80" height="1.80" fill="#5a12a0"/>
<rect x="405.00" y="131.60" width="1.80" height="1.80" fill="#5a12a0"/>
<rect x="128.00" y="132.60" width="1.80" height="1.80" fill="#5a12a0"/>
<rect x="296.00" y="132.60" width="1.80" height="1.80" fill="#5a12a0"/>
<rect x="154.00" y="132.60" width="1.80" height="1.80" fill="#5a12a0"/>
<rect x="80.00" y="129.60" width="1.80" height="1.80" fill="#5a12a0"/>
<rect x="428.00" y="132.60" width="1.80" height="1.80" fill="#5a12a0"/>
<rect x="413.00" y="129.60" width="1.80" height="1.80" fill="#5a12a0"/>
<rect x="340.00" y="132.60" width="1.80" height="1.80" fill="#5a12a0"/>
<rect x="305.00" y="131.60" width="1.80" height="1.80" fill="#5a12a0"/>
<rect x="164.00" y="131.60" width="1.80" height="1.80" fill="#5a12a0"/>
<rect x="79.00" y="129.60" width="1.80" height="1.80" fill="#5a12a0"/>
<rect x="378.00" y="131.60" width="1.80" height="1.80" fill="#5a12a0"/>
<rect x="515.00" y="131.60" width="1.80" height="1.80" fill="#5a12a0"/>
<rect x="193.00" y="132.60" width="1.80" height="1.80" fill="#5a12a0"/>
<rect x="140.00" y="132.60" width="1.80" height="1.80" fill="#5a12a0"/>
<rect x="440.00" y="130.60" width="1.80" height="1.80" fill="#5a12a0"/>
<rect x="214.00" y="132.60" width="1.80" height="1.80" fill="#5a12a0"/>
<rect x="375.00" y="130.60" width="1.80" height="1.80" fill="#5a12a0"/>
<rect x="511.00" y="132.60" width="1.80" height="1.80" fill="#5a12a0"/>
<rect x="444.00" y="130.60" width="1.80" height="1.80" fill="#5a12a0"/>
<rect x="425.00" y="132.60" width="1.80" height="1.80" fill="#5a12a0"/>
<rect x="162.00" y="130.60" width="1.80" height="1.80" fill="#5a12a0"/>
<rect x="226.00" y="132.60" width="1.80" height="1.80" fill="#5a12a0"/>
<rect x="334.00" y="132.60" width="1.80" height="1.80" fill="#5a12a0"/>
<rect x="467.00" y="132.60" width="1.80" height="1.80" fill="#5a12a0"/>
<rect x="94.00" y="131.60" width="1.80" height="1.80" fill="#5a12a0"/>
<rect x="371.00" y="130.60" width="1.80" height="1.80" fill="#5a12a0"/>
<rect x="407.00" y="130.60" width="1.80" height="1.80" fill="#5a12a0"/>
<rect x="520.00" y="131.60" width="1.80" height="1.80" fill="#5a12a0"/>
<path d="M74.6,162.1 L74.6,161.7 L75.6,162.0 L76.6,161.8 L77.6,161.6 L78.6,162.0 L79.6,161.5 L80.6,162.0 L81.6,161.7 L82.6,161.2 L83.6,162.0 L84.6,162.1 L85.6,161.7 L86.6,161.9 L87.6,161.4 L88.6,162.0 L89.6,161.1 L90.6,160.8 L91.6,160.3 L92.6,159.8 L93.6,158.8 L94.6,157.0 L95.6,155.4 L96.6,153.8 L97.6,152.6 L98.6,151.8 L99.6,151.6 L100.6,152.0 L101.6,150.9 L102.6,143.9 L103.6,137.4 L104.6,145.4 L105.6,154.3 L106.6,156.9 L107.6,157.4 L108.6,158.2 L109.6,158.9 L110.6,159.8 L111.6,160.2 L112.6,160.8 L113.6,161.1 L114.6,161.2 L115.6,161.2 L116.6,161.5 L117.6,161.4 L118.6,162.0 L119.6,161.5 L120.6,161.5 L121.6,161.8 L122.6,161.4 L123.6,160.6 L124.6,159.1 L125.6,155.8 L126.6,155.0 L127.6,157.0 L128.6,158.6 L129.6,160.0 L130.6,160.0 L131.6,159.8 L132.6,160.3 L133.6,161.0 L134.6,160.0 L135.6,157.9 L136.6,158.4 L137.6,161.1 L138.6,161.6 L139.6,161.6 L140.6,161.7 L141.6,162.0 L142.6,161.9 L143.6,161.3 L144.6,161.6 L145.6,162.0 L146.6,161.3 L147.6,161.9 L148.6,162.0 L149.6,161.6 L150.6,161.9 L151.6,161.7 L152.6,161.6 L153.6,161.9 L154.6,161.6 L155.6,162.0 L156.6,161.6 L157.6,161.6 L158.6,162.0 L159.6,161.7 L160.6,162.0 L161.6,161.7 L162.6,161.3 L163.6,161.6 L164.6,161.5 L165.6,161.4 L166.6,162.0 L167.6,161.2 L168.6,161.5 L169.6,162.0 L170.6,161.4 L171.6,161.7 L172.6,161.9 L173.6,161.2 L174.6,161.6 L175.6,161.4 L176.6,162.0 L177.6,161.4 L178.6,162.0 L179.6,161.9 L180.6,161.8 L181.6,162.1 L182.6,161.6 L183.6,161.9 L184.6,161.8 L185.6,161.5 L186.6,161.7 L187.6,161.3 L188.6,161.5 L189.6,161.3 L190.6,161.6 L191.6,161.3 L192.6,161.3 L193.6,161.9 L194.6,161.4 L195.6,161.8 L196.6,161.4 L197.6,161.5 L198.6,161.4 L199.6,162.0 L200.6,161.8 L201.6,161.4 L202.6,161.2 L203.6,161.4 L204.6,161.9 L205.6,160.4 L206.6,159.2 L207.6,159.1 L208.6,160.5 L209.6,161.9 L210.6,161.3 L211.6,161.5 L212.6,161.9 L213.6,161.9 L214.6,161.7 L215.6,161.3 L216.6,161.6 L217.6,162.0 L218.6,162.1 L219.6,162.0 L220.6,161.4 L221.6,161.9 L222.6,161.6 L223.6,161.8 L224.6,161.5 L225.6,161.8 L226.6,162.0 L227.6,161.3 L228.6,161.6 L229.6,161.5 L230.6,161.4 L231.6,161.2 L232.6,162.1 L233.6,161.8 L234.6,162.0 L235.6,161.6 L236.6,161.3 L237.6,161.4 L238.6,162.1 L239.6,161.9 L240.6,161.4 L241.6,161.5 L242.6,161.7 L243.6,161.7 L244.6,162.0 L245.6,161.3 L246.6,161.7 L247.6,161.3 L248.6,161.6 L249.6,162.0 L250.6,161.8 L251.6,161.9 L252.6,161.3 L253.6,161.6 L254.6,162.1 L255.6,161.9 L256.6,161.8 L257.6,161.7 L258.6,161.6 L259.6,161.8 L260.6,161.8 L261.6,162.1 L262.6,161.6 L263.6,161.8 L264.6,162.1 L265.6,161.7 L266.6,161.2 L267.6,162.1 L268.6,162.0 L269.6,161.5 L270.6,161.9 L271.6,161.9 L272.6,161.6 L273.6,161.9 L274.6,161.6 L275.6,161.6 L276.6,161.2 L277.6,161.2 L278.6,162.0 L279.6,160.5 L280.6,157.0 L281.6,157.5 L282.6,160.7 L283.6,161.5 L284.6,161.5 L285.6,161.8 L286.6,161.8 L287.6,161.4 L288.6,161.3 L289.6,161.3 L290.6,161.5 L291.6,161.8 L292.6,161.3 L293.6,161.2 L294.6,161.2 L295.6,160.8 L296.6,160.7 L297.6,160.2 L298.6,159.9 L299.6,160.1 L300.6,159.8 L301.6,159.7 L302.6,158.4 L303.6,157.5 L304.6,156.3 L305.6,156.9 L306.6,158.9 L307.6,160.6 L308.6,161.7 L309.6,162.0 L310.6,161.3 L311.6,161.7 L312.6,161.7 L313.6,161.6 L314.6,161.8 L315.6,161.9 L316.6,162.0 L317.6,161.8 L318.6,161.8 L319.6,161.4 L320.6,161.6 L321.6,161.3 L322.6,161.8 L323.6,161.3 L324.6,161.6 L325.6,162.0 L326.6,161.9 L327.6,161.6 L328.6,161.2 L329.6,161.8 L330.6,161.4 L331.6,161.7 L332.6,161.3 L333.6,162.0 L334.6,161.5 L335.6,161.0 L336.6,161.3 L337.6,160.8 L338.6,160.5 L339.6,159.8 L340.6,159.2 L341.6,158.4 L342.6,158.6 L343.6,157.6 L344.6,155.5 L345.6,152.3 L346.6,151.5 L347.6,154.5 L348.6,158.6 L349.6,160.4 L350.6,161.0 L351.6,161.5 L352.6,162.0 L353.6,161.4 L354.6,161.3 L355.6,161.8 L356.6,162.0 L357.6,161.9 L358.6,161.6 L359.6,161.3 L360.6,161.5 L361.6,161.0 L362.6,160.4 L363.6,158.1 L364.6,158.1 L365.6,160.4 L366.6,161.6 L367.6,161.5 L368.6,161.8 L369.6,162.0 L370.6,161.7 L371.6,162.1 L372.6,161.5 L373.6,161.8 L374.6,161.7 L375.6,161.6 L376.6,161.9 L377.6,161.7 L378.6,162.1 L379.6,161.3 L380.6,161.6 L381.6,161.2 L382.6,162.0 L383.6,161.5 L384.6,161.4 L385.6,161.8 L386.6,162.0 L387.6,161.9 L388.6,161.8 L389.6,160.9 L390.6,160.7 L391.6,159.4 L392.6,159.9 L393.6,160.5 L394.6,161.1 L395.6,161.5 L396.6,161.5 L397.6,161.6 L398.6,161.8 L399.6,161.4 L400.6,161.9 L401.6,161.5 L402.6,161.4 L403.6,161.4 L404.6,161.8 L405.6,161.4 L406.6,161.2 L407.6,161.7 L408.6,161.8 L409.6,161.6 L410.6,161.3 L411.6,162.0 L412.6,162.1 L413.6,161.7 L414.6,161.5 L415.6,161.4 L416.6,161.8 L417.6,161.0 L418.6,160.8 L419.6,158.6 L420.6,159.5 L421.6,161.2 L422.6,161.9 L423.6,162.0 L424.6,161.6 L425.6,161.6 L426.6,161.9 L427.6,161.3 L428.6,161.8 L429.6,162.0 L430.6,161.9 L431.6,161.4 L432.6,161.0 L433.6,160.5 L434.6,158.4 L435.6,158.1 L436.6,160.8 L437.6,161.1 L438.6,161.6 L439.6,161.5 L440.6,161.8 L441.6,161.4 L442.6,161.7 L443.6,161.8 L444.6,161.3 L445.6,162.0 L446.6,161.4 L447.6,162.0 L448.6,161.4 L449.6,161.2 L450.6,160.0 L451.6,160.1 L452.6,159.7 L453.6,160.6 L454.6,160.8 L455.6,161.1 L456.6,161.5 L457.6,161.9 L458.6,161.9 L459.6,161.9 L460.6,161.7 L461.6,161.9 L462.6,161.9 L463.6,161.4 L464.6,161.5 L465.6,161.8 L466.6,161.2 L467.6,161.9 L468.6,161.6 L469.6,162.0 L470.6,161.3 L471.6,161.3 L472.6,161.9 L473.6,161.4 L474.6,161.4 L475.6,161.8 L476.6,161.8 L477.6,161.7 L478.6,161.3 L479.6,161.9 L480.6,161.5 L481.6,161.5 L482.6,161.6 L483.6,161.4 L484.6,160.9 L485.6,161.2 L486.6,160.3 L487.6,160.3 L488.6,159.6 L489.6,159.3 L490.6,160.0 L491.6,159.6 L492.6,159.8 L493.6,160.9 L494.6,161.5 L495.6,161.6 L496.6,161.0 L497.6,162.0 L498.6,161.2 L499.6,162.0 L500.6,161.4 L501.6,162.0 L502.6,161.9 L503.6,161.5 L504.6,162.0 L505.6,161.7 L506.6,161.0 L507.6,160.9 L508.6,160.4 L509.6,159.7 L510.6,159.8 L511.6,158.8 L512.6,157.4 L513.6,156.7 L514.6,156.1 L515.6,152.4 L516.6,146.0 L517.6,138.4 L518.6,137.3 L519.6,143.7 L520.6,150.8 L521.6,156.1 L522.6,157.6 L523.6,159.3 L524.6,159.8 L525.6,160.9 L526.6,161.1 L527.6,161.7 L528.6,161.1 L529.6,159.3 L530.6,153.3 L531.6,154.4 L532.6,160.1 L533.6,161.6 L534.6,161.7 L535.6,161.3 L536.6,161.8 L537.6,161.9 L538.6,161.2 L539.6,161.3 L540.6,161.4 L541.6,161.9 L542.6,161.9 L543.6,161.9 L544.6,162.0 L545.6,162.1 L546.6,161.6 L547.0,162.1 Z" fill="#5a12a0"/>
<rect x="93.40" y="164.90" width="17.10" height="24.30" fill="#0d0d0d"/>
<rect x="95.90" y="164.90" width="1.00" height="24.30" fill="#222"/>
<rect x="99.22" y="164.90" width="1.00" height="24.30" fill="#222"/>
<rect x="102.83" y="164.90" width="1.00" height="24.30" fill="#222"/>
<rect x="106.05" y="164.90" width="1.00" height="24.30" fill="#222"/>
<rect x="122.40" y="164.90" width="5.50" height="24.30" fill="#0d0d0d"/>
<rect x="205.00" y="164.90" width="3.00" height="24.30" fill="#0d0d0d"/>
<rect x="280.40" y="164.90" width="2.30" height="24.30" fill="#0d0d0d"/>
<rect x="302.30" y="164.90" width="4.50" height="24.30" fill="#0d0d0d"/>
<rect x="343.00" y="164.90" width="8.40" height="24.30" fill="#0d0d0d"/>
<rect x="345.50" y="164.90" width="1.00" height="24.30" fill="#222"/>
<rect x="349.38" y="164.90" width="1.00" height="24.30" fill="#222"/>
<rect x="507.00" y="164.90" width="28.00" height="24.30" fill="#0d0d0d"/>
<rect x="509.50" y="164.90" width="1.00" height="24.30" fill="#222"/>
<rect x="513.09" y="164.90" width="1.00" height="24.30" fill="#222"/>
<rect x="516.69" y="164.90" width="1.00" height="24.30" fill="#222"/>
<rect x="520.57" y="164.90" width="1.00" height="24.30" fill="#222"/>
<rect x="525.03" y="164.90" width="1.00" height="24.30" fill="#222"/>
<rect x="529.28" y="164.90" width="1.00" height="24.30" fill="#222"/>
<path d="M74.6,218.1 L74.6,217.9 L75.6,217.9 L76.6,217.9 L77.6,217.6 L78.6,217.9 L79.6,217.9 L80.6,217.9 L81.6,218.0 L82.6,217.6 L83.6,218.1 L84.6,217.8 L85.6,217.6 L86.6,218.0 L87.6,217.8 L88.6,217.9 L89.6,218.0 L90.6,218.0 L91.6,218.0 L92.6,217.7 L93.6,217.7 L94.6,217.6 L95.6,218.1 L96.6,217.7 L97.6,217.7 L98.6,217.2 L99.6,216.6 L100.6,215.3 L101.6,211.1 L102.6,202.0 L103.6,193.1 L104.6,193.4 L105.6,206.0 L106.6,214.5 L107.6,216.9 L108.6,217.8 L109.6,217.7 L110.6,217.7 L111.6,217.9 L112.6,217.7 L113.6,217.9 L114.6,217.8 L115.6,217.8 L116.6,217.8 L117.6,217.9 L118.6,217.8 L119.6,217.8 L120.6,218.0 L121.6,217.8 L122.6,217.9 L123.6,217.4 L124.6,217.2 L125.6,216.3 L126.6,215.5 L127.6,214.9 L128.6,215.1 L129.6,215.9 L130.6,216.3 L131.6,217.2 L132.6,217.6 L133.6,217.8 L134.6,217.0 L135.6,210.8 L136.6,196.3 L137.6,198.5 L138.6,212.9 L139.6,217.4 L140.6,217.7 L141.6,217.7 L142.6,217.7 L143.6,218.1 L144.6,217.9 L145.6,217.7 L146.6,217.7 L147.6,218.0 L148.6,218.0 L149.6,218.0 L150.6,218.0 L151.6,217.9 L152.6,217.7 L153.6,217.8 L154.6,217.9 L155.6,218.1 L156.6,217.9 L157.6,217.6 L158.6,217.8 L159.6,217.9 L160.6,217.9 L161.6,217.7 L162.6,217.7 L163.6,218.0 L164.6,217.8 L165.6,217.9 L166.6,217.8 L167.6,218.0 L168.6,217.9 L169.6,217.9 L170.6,217.9 L171.6,218.1 L172.6,218.0 L173.6,217.8 L174.6,218.1 L175.6,218.0 L176.6,217.7 L177.6,218.0 L178.6,217.9 L179.6,218.0 L180.6,217.7 L181.6,218.1 L182.6,217.8 L183.6,217.7 L184.6,218.0 L185.6,217.9 L186.6,217.7 L187.6,217.8 L188.6,217.9 L189.6,218.1 L190.6,217.9 L191.6,217.9 L192.6,217.7 L193.6,218.0 L194.6,217.9 L195.6,217.8 L196.6,217.7 L197.6,217.9 L198.6,217.9 L199.6,217.8 L200.6,217.6 L201.6,217.6 L202.6,216.4 L203.6,214.4 L204.6,211.1 L205.6,206.8 L206.6,204.2 L207.6,204.7 L208.6,207.6 L209.6,211.9 L210.6,215.1 L211.6,216.9 L212.6,217.4 L213.6,217.7 L214.6,218.1 L215.6,217.8 L216.6,217.9 L217.6,217.9 L218.6,217.7 L219.6,217.9 L220.6,217.9 L221.6,217.7 L222.6,217.9 L223.6,217.9 L224.6,217.8 L225.6,217.7 L226.6,217.8 L227.6,217.7 L228.6,217.9 L229.6,218.1 L230.6,217.8 L231.6,217.8 L232.6,217.7 L233.6,217.7 L234.6,217.8 L235.6,217.2 L236.6,216.1 L237.6,214.8 L238.6,215.3 L239.6,216.4 L240.6,217.1 L241.6,217.6 L242.6,218.0 L243.6,217.8 L244.6,217.7 L245.6,217.9 L246.6,218.1 L247.6,217.8 L248.6,217.9 L249.6,217.8 L250.6,217.6 L251.6,217.7 L252.6,217.7 L253.6,218.0 L254.6,217.9 L255.6,217.8 L256.6,218.1 L257.6,217.6 L258.6,218.0 L259.6,218.0 L260.6,217.9 L261.6,218.0 L262.6,217.7 L263.6,217.8 L264.6,217.8 L265.6,217.9 L266.6,218.1 L267.6,217.9 L268.6,217.7 L269.6,217.7 L270.6,217.7 L271.6,218.0 L272.6,218.0 L273.6,218.1 L274.6,217.8 L275.6,217.9 L276.6,217.8 L277.6,217.7 L278.6,217.3 L279.6,216.6 L280.6,215.8 L281.6,216.2 L282.6,216.5 L283.6,217.4 L284.6,218.0 L285.6,217.9 L286.6,217.8 L287.6,217.9 L288.6,217.8 L289.6,217.9 L290.6,218.0 L291.6,217.7 L292.6,218.0 L293.6,217.7 L294.6,217.7 L295.6,217.8 L296.6,217.9 L297.6,217.6 L298.6,217.9 L299.6,217.7 L300.6,218.1 L301.6,217.9 L302.6,217.8 L303.6,218.1 L304.6,217.7 L305.6,218.1 L306.6,217.8 L307.6,218.0 L308.6,217.6 L309.6,217.8 L310.6,217.7 L311.6,217.9 L312.6,217.8 L313.6,217.8 L314.6,218.0 L315.6,218.0 L316.6,217.7 L317.6,218.0 L318.6,217.6 L319.6,217.7 L320.6,217.3 L321.6,216.6 L322.6,215.4 L323.6,214.7 L324.6,215.0 L325.6,215.6 L326.6,216.5 L327.6,216.2 L328.6,215.6 L329.6,215.1 L330.6,215.3 L331.6,216.1 L332.6,217.4 L333.6,217.5 L334.6,217.9 L335.6,218.0 L336.6,217.8 L337.6,217.9 L338.6,217.8 L339.6,218.0 L340.6,217.6 L341.6,217.9 L342.6,217.7 L343.6,218.0 L344.6,217.7 L345.6,217.6 L346.6,217.9 L347.6,218.1 L348.6,217.9 L349.6,217.8 L350.6,218.0 L351.6,217.8 L352.6,218.1 L353.6,217.9 L354.6,217.7 L355.6,217.9 L356.6,217.8 L357.6,218.0 L358.6,217.7 L359.6,218.0 L360.6,217.6 L361.6,216.9 L362.6,213.1 L363.6,206.8 L364.6,207.9 L365.6,214.6 L366.6,217.3 L367.6,217.8 L368.6,217.6 L369.6,218.1 L370.6,217.9 L371.6,217.7 L372.6,217.8 L373.6,217.8 L374.6,218.1 L375.6,218.0 L376.6,218.0 L377.6,217.7 L378.6,217.7 L379.6,218.0 L380.6,217.6 L381.6,218.1 L382.6,217.8 L383.6,217.6 L384.6,217.3 L385.6,213.1 L386.6,206.7 L387.6,208.1 L388.6,214.6 L389.6,217.5 L390.6,218.0 L391.6,217.7 L392.6,218.0 L393.6,217.7 L394.6,218.0 L395.6,218.1 L396.6,217.8 L397.6,218.1 L398.6,217.8 L399.6,217.7 L400.6,217.8 L401.6,217.9 L402.6,218.1 L403.6,217.8 L404.6,218.1 L405.6,217.8 L406.6,218.0 L407.6,217.8 L408.6,217.9 L409.6,217.9 L410.6,217.8 L411.6,218.0 L412.6,218.0 L413.6,217.6 L414.6,217.9 L415.6,217.7 L416.6,217.7 L417.6,217.9 L418.6,218.0 L419.6,218.1 L420.6,217.7 L421.6,218.0 L422.6,217.9 L423.6,217.8 L424.6,218.0 L425.6,217.9 L426.6,218.0 L427.6,217.8 L428.6,217.8 L429.6,217.9 L430.6,218.0 L431.6,217.8 L432.6,217.8 L433.6,217.6 L434.6,217.0 L435.6,216.1 L436.6,215.9 L437.6,215.7 L438.6,216.6 L439.6,216.8 L440.6,217.5 L441.6,217.6 L442.6,217.8 L443.6,217.7 L444.6,218.0 L445.6,217.7 L446.6,218.0 L447.6,218.0 L448.6,218.1 L449.6,217.9 L450.6,217.8 L451.6,218.0 L452.6,217.7 L453.6,218.1 L454.6,217.8 L455.6,218.0 L456.6,217.8 L457.6,217.7 L458.6,217.7 L459.6,218.1 L460.6,218.0 L461.6,217.8 L462.6,217.6 L463.6,218.1 L464.6,217.8 L465.6,217.8 L466.6,217.7 L467.6,217.9 L468.6,217.7 L469.6,217.9 L470.6,217.6 L471.6,218.1 L472.6,217.6 L473.6,217.9 L474.6,217.9 L475.6,218.1 L476.6,218.0 L477.6,217.7 L478.6,217.8 L479.6,218.0 L480.6,217.9 L481.6,218.0 L482.6,218.0 L483.6,218.0 L484.6,217.9 L485.6,217.6 L486.6,217.6 L487.6,217.7 L488.6,217.9 L489.6,217.9 L490.6,217.7 L491.6,217.6 L492.6,217.7 L493.6,217.8 L494.6,218.0 L495.6,217.8 L496.6,217.7 L497.6,217.7 L498.6,218.1 L499.6,217.7 L500.6,217.9 L501.6,218.0 L502.6,217.6 L503.6,217.8 L504.6,217.7 L505.6,218.0 L506.6,217.6 L507.6,217.5 L508.6,217.5 L509.6,217.4 L510.6,217.1 L511.6,216.5 L512.6,215.2 L513.6,211.8 L514.6,205.1 L515.6,196.5 L516.6,193.1 L517.6,193.1 L518.6,196.5 L519.6,204.4 L520.6,209.8 L521.6,213.1 L522.6,214.1 L523.6,215.1 L524.6,216.1 L525.6,216.4 L526.6,217.1 L527.6,217.5 L528.6,217.4 L529.6,217.4 L530.6,216.8 L531.6,216.0 L532.6,215.8 L533.6,215.8 L534.6,216.4 L535.6,216.8 L536.6,217.3 L537.6,217.6 L538.6,217.6 L539.6,217.7 L540.6,217.9 L541.6,218.1 L542.6,217.8 L543.6,217.7 L544.6,217.9 L545.6,217.8 L546.6,217.7 L547.0,218.1 Z" fill="#f3a72a"/>
<line x1="75.00" y1="223.60" x2="97.00" y2="223.60" stroke="#111" stroke-width="1.20"/>
<path d="M78.0,225.6 l2.5,-2 M78.0,221.6 l2.5,2" stroke="#111" stroke-width="1" fill="none"/>
<path d="M83.0,225.6 l2.5,-2 M83.0,221.6 l2.5,2" stroke="#111" stroke-width="1" fill="none"/>
<path d="M88.0,225.6 l2.5,-2 M88.0,221.6 l2.5,2" stroke="#111" stroke-width="1" fill="none"/>
<path d="M92.0,225.6 l2.5,-2 M92.0,221.6 l2.5,2" stroke="#111" stroke-width="1" fill="none"/>
<rect x="75.00" y="221.10" width="1.20" height="5.00" fill="#111"/>
<rect x="80.00" y="221.10" width="1.20" height="5.00" fill="#111"/>
<rect x="86.00" y="221.10" width="1.20" height="5.00" fill="#111"/>
<circle cx="98.5" cy="223.6" r="2.6" fill="#111"/>
<text x="103.50" y="227.00" font-size="8.50" text-anchor="start" fill="#111">Snx10</text>
<text x="530.00" y="227.00" font-size="8.50" text-anchor="end" fill="#111">Skap2</text>
<circle cx="533.5" cy="223.6" r="2.4" fill="#111"/>
<line x1="533.00" y1="223.60" x2="546.50" y2="223.60" stroke="#111" stroke-width="1.20"/>
<path d="M538.0,225.6 l-2.5,-2 M538.0,221.6 l-2.5,2" stroke="#111" stroke-width="1" fill="none"/>
<path d="M542.0,225.6 l-2.5,-2 M542.0,221.6 l-2.5,2" stroke="#111" stroke-width="1" fill="none"/>
<path d="M73.6,25.8 H548.0 V229.3 H73.6 Z" fill="none" stroke="#444" stroke-width="1.5"/>
<text x="552.00" y="16.80" font-size="23.8" fill="#000" stroke="#000" stroke-width="0.3">B</text>
<text x="619.00" y="22.30" font-size="13.50" text-anchor="middle" fill="#111">H3K27ac</text>
<rect x="583.4" y="27.4" width="67.8" height="55.3" fill="none" stroke="#555" stroke-width="1"/>
<line x1="581.50" y1="32.40" x2="583.40" y2="32.40" stroke="#333" stroke-width="0.80"/>
<line x1="581.50" y1="77.50" x2="583.40" y2="77.50" stroke="#333" stroke-width="0.80"/>
<text x="581.00" y="36.00" font-size="10.00" text-anchor="end" fill="#111">2.5</text>
<text x="581.00" y="81.20" font-size="10.00" text-anchor="end" fill="#111">1.0</text>
<polyline points="583.4,79.7 584.0,80.3 584.5,79.9 585.1,80.3 585.7,80.2 586.2,79.6 586.8,79.9 587.4,79.7 587.9,79.8 588.5,79.9 589.0,80.0 589.6,79.8 590.2,79.4 590.7,79.5 591.3,79.8 591.9,79.9 592.4,79.7 593.0,79.3 593.6,79.4 594.1,79.2 594.7,79.0 595.3,79.5 595.8,79.0 596.4,79.4 597.0,78.7 597.5,79.2 598.1,79.0 598.7,78.4 599.2,78.7 599.8,78.8 600.4,78.1 600.9,78.2 601.5,77.9 602.0,78.1 602.6,77.9 603.2,77.3 603.7,77.5 604.3,76.9 604.9,77.3 605.4,76.4 606.0,76.5 606.6,75.7 607.1,75.5 607.7,74.5 608.3,72.8 608.8,71.9 609.4,70.1 610.0,68.7 610.5,66.4 611.1,64.0 611.6,60.7 612.2,57.3 612.8,54.0 613.3,50.5 613.9,46.3 614.5,42.6 615.0,39.2 615.6,36.4 616.2,33.2 616.7,31.2 617.3,29.3 617.9,29.0 618.4,28.8 619.0,29.7 619.6,31.6 620.1,33.7 620.7,36.5 621.3,39.6 621.8,43.5 622.4,47.4 623.0,50.6 623.5,55.0 624.1,57.8 624.6,61.1 625.2,64.1 625.8,66.7 626.3,68.6 626.9,70.3 627.5,72.0 628.0,73.2 628.6,74.8 629.2,75.3 629.7,76.1 630.3,76.0 630.9,76.4 631.4,77.4 632.0,77.3 632.6,77.5 633.1,78.1 633.7,78.0 634.2,77.9 634.8,78.1 635.4,78.5 635.9,78.2 636.5,78.7 637.1,78.6 637.6,78.8 638.2,78.5 638.8,78.8 639.3,78.8 639.9,78.9 640.5,79.3 641.0,78.9 641.6,79.1 642.2,79.2 642.7,79.6 643.3,79.7 643.9,79.4 644.4,79.3 645.0,79.4 645.6,79.8 646.1,80.0 646.7,79.7 647.2,79.4 647.8,80.0 648.4,79.6 648.9,80.1 649.5,80.0 650.1,80.2 650.6,80.1 651.2,80.0" fill="none" stroke="#2a2fa0" stroke-width="1.5"/>
<text transform="translate(564.2,96.6) rotate(-90)" font-size="14.8" fill="#111">FC<tspan font-size="10.1" dx="3.8">over control</tspan></text>
<defs><linearGradient id="hmv" x1="0" y1="0" x2="0" y2="1"><stop offset="0" stop-color="#4b8bc6"/><stop offset="0.25" stop-color="#3d7ebc"/><stop offset="0.6" stop-color="#2f6eae"/><stop offset="1" stop-color="#245d9d"/></linearGradient><filter id="blur4" x="-0.5" y="-0.1" width="2" height="1.2"><feGaussianBlur stdDeviation="3.2 1.5"/></filter><filter id="blur2" x="-0.5" y="-0.5" width="2" height="2"><feGaussianBlur stdDeviation="2.5 1.2"/></filter><filter id="blurH" x="-0.5" y="-0.1" width="2" height="1.2"><feGaussianBlur stdDeviation="6 2"/></filter><filter id="blurC" x="-0.5" y="-0.1" width="2" height="1.2"><feGaussianBlur stdDeviation="2.0 0.5"/></filter><linearGradient id="corefade" x1="0" y1="0" x2="0" y2="1"><stop offset="0" stop-color="#fff" stop-opacity="1"/><stop offset="0.25" stop-color="#fff" stop-opacity="0.9"/><stop offset="0.5" stop-color="#fff" stop-opacity="0.6"/><stop offset="0.75" stop-color="#fff" stop-opacity="0.3"/><stop offset="1" stop-color="#fff" stop-opacity="0.1"/></linearGradient><linearGradient id="cbar" x1="0" y1="1" x2="0" y2="0"><stop offset="0" stop-color="#053061"/><stop offset="0.14" stop-color="#2166ac"/><stop offset="0.29" stop-color="#4393c3"/><stop offset="0.43" stop-color="#92c5de"/><stop offset="0.52" stop-color="#f7f7f7"/><stop offset="0.62" stop-color="#fddbc7"/><stop offset="0.72" stop-color="#f4a582"/><stop offset="0.82" stop-color="#d6604d"/><stop offset="0.92" stop-color="#b2182b"/><stop offset="1" stop-color="#67001f"/></linearGradient><clipPath id="hmclip"><rect x="583.4" y="87.3" width="67.8" height="139.2"/></clipPath></defs>
<g clip-path="url(#hmclip)">
<rect x="583.40" y="87.30" width="67.80" height="139.20" fill="url(#hmv)"/>
<rect x="583.40" y="87.30" width="67.80" height="1.00" fill="#ffffff" opacity="0.058"/>
<rect x="583.40" y="88.30" width="67.80" height="1.00" fill="#1a4f8f" opacity="0.019"/>
<rect x="583.40" y="89.30" width="67.80" height="1.00" fill="#1a4f8f" opacity="0.037"/>
<rect x="583.40" y="90.30" width="67.80" height="1.00" fill="#1a4f8f" opacity="0.007"/>
<rect x="583.40" y="91.30" width="67.80" height="1.00" fill="#1a4f8f" opacity="0.024"/>
<rect x="583.40" y="92.30" width="67.80" height="1.00" fill="#ffffff" opacity="0.016"/>
<rect x="583.40" y="93.30" width="67.80" height="2.00" fill="#1a4f8f" opacity="0.027"/>
<rect x="583.40" y="95.30" width="67.80" height="2.00" fill="#1a4f8f" opacity="0.010"/>
<rect x="583.40" y="97.30" width="67.80" height="1.00" fill="#1a4f8f" opacity="0.009"/>
<rect x="583.40" y="98.30" width="67.80" height="2.00" fill="#1a4f8f" opacity="0.034"/>
<rect x="583.40" y="100.30" width="67.80" height="1.00" fill="#1a4f8f" opacity="0.017"/>
<rect x="583.40" y="101.30" width="67.80" height="2.00" fill="#1a4f8f" opacity="0.055"/>
<rect x="583.40" y="103.30" width="67.80" height="2.00" fill="#1a4f8f" opacity="0.007"/>
<rect x="583.40" y="105.30" width="67.80" height="1.00" fill="#1a4f8f" opacity="0.002"/>
<rect x="583.40" y="106.30" width="67.80" height="1.00" fill="#1a4f8f" opacity="0.036"/>
<rect x="583.40" y="107.30" width="67.80" height="1.00" fill="#ffffff" opacity="0.059"/>
<rect x="583.40" y="108.30" width="67.80" height="2.00" fill="#1a4f8f" opacity="0.006"/>
<rect x="583.40" y="110.30" width="67.80" height="2.00" fill="#1a4f8f" opacity="0.007"/>
<rect x="583.40" y="112.30" width="67.80" height="1.00" fill="#ffffff" opacity="0.039"/>
<rect x="583.40" y="113.30" width="67.80" height="1.00" fill="#1a4f8f" opacity="0.024"/>
<rect x="583.40" y="114.30" width="67.80" height="1.00" fill="#1a4f8f" opacity="0.024"/>
<rect x="583.40" y="115.30" width="67.80" height="1.00" fill="#ffffff" opacity="0.052"/>
<rect x="583.40" y="116.30" width="67.80" height="2.00" fill="#1a4f8f" opacity="0.044"/>
<rect x="583.40" y="118.30" width="67.80" height="2.00" fill="#1a4f8f" opacity="0.056"/>
<rect x="583.40" y="120.30" width="67.80" height="1.00" fill="#ffffff" opacity="0.013"/>
<rect x="583.40" y="121.30" width="67.80" height="1.00" fill="#ffffff" opacity="0.004"/>
<rect x="583.40" y="122.30" width="67.80" height="2.00" fill="#1a4f8f" opacity="0.040"/>
<rect x="583.40" y="124.30" width="67.80" height="1.00" fill="#1a4f8f" opacity="0.013"/>
<rect x="583.40" y="125.30" width="67.80" height="2.00" fill="#ffffff" opacity="0.047"/>
<rect x="583.40" y="127.30" width="67.80" height="1.00" fill="#ffffff" opacity="0.013"/>
<rect x="583.40" y="128.30" width="67.80" height="2.00" fill="#1a4f8f" opacity="0.007"/>
<rect x="583.40" y="130.30" width="67.80" height="1.00" fill="#1a4f8f" opacity="0.045"/>
<rect x="583.40" y="131.30" width="67.80" height="1.00" fill="#1a4f8f" opacity="0.008"/>
<rect x="583.40" y="132.30" width="67.80" height="2.00" fill="#ffffff" opacity="0.054"/>
<rect x="583.40" y="134.30" width="67.80" height="2.00" fill="#1a4f8f" opacity="0.036"/>
<rect x="583.40" y="136.30" width="67.80" height="2.00" fill="#ffffff" opacity="0.013"/>
<rect x="583.40" y="138.30" width="67.80" height="1.00" fill="#ffffff" opacity="0.006"/>
<rect x="583.40" y="139.30" width="67.80" height="1.00" fill="#ffffff" opacity="0.001"/>
<rect x="583.40" y="140.30" width="67.80" height="1.00" fill="#1a4f8f" opacity="0.050"/>
<rect x="583.40" y="141.30" width="67.80" height="1.00" fill="#ffffff" opacity="0.000"/>
<rect x="583.40" y="142.30" width="67.80" height="1.00" fill="#ffffff" opacity="0.017"/>
<rect x="583.40" y="143.30" width="67.80" height="1.00" fill="#ffffff" opacity="0.035"/>
<rect x="583.40" y="144.30" width="67.80" height="1.00" fill="#1a4f8f" opacity="0.032"/>
<rect x="583.40" y="145.30" width="67.80" height="1.00" fill="#1a4f8f" opacity="0.029"/>
<rect x="583.40" y="146.30" width="67.80" height="2.00" fill="#1a4f8f" opacity="0.056"/>
<rect x="583.40" y="148.30" width="67.80" height="2.00" fill="#ffffff" opacity="0.034"/>
<rect x="583.40" y="150.30" width="67.80" height="2.00" fill="#ffffff" opacity="0.048"/>
<rect x="583.40" y="152.30" width="67.80" height="1.00" fill="#ffffff" opacity="0.050"/>
<rect x="583.40" y="153.30" width="67.80" height="1.00" fill="#ffffff" opacity="0.047"/>
<rect x="583.40" y="154.30" width="67.80" height="2.00" fill="#1a4f8f" opacity="0.016"/>
<rect x="583.40" y="156.30" width="67.80" height="1.00" fill="#1a4f8f" opacity="0.057"/>
<rect x="583.40" y="157.30" width="67.80" height="2.00" fill="#ffffff" opacity="0.005"/>
<rect x="583.40" y="159.30" width="67.80" height="1.00" fill="#1a4f8f" opacity="0.023"/>
<rect x="583.40" y="160.30" width="67.80" height="1.00" fill="#ffffff" opacity="0.040"/>
<rect x="583.40" y="161.30" width="67.80" height="1.00" fill="#1a4f8f" opacity="0.058"/>
<rect x="583.40" y="162.30" width="67.80" height="2.00" fill="#ffffff" opacity="0.059"/>
<rect x="583.40" y="164.30" width="67.80" height="2.00" fill="#ffffff" opacity="0.029"/>
<rect x="583.40" y="166.30" width="67.80" height="1.00" fill="#1a4f8f" opacity="0.027"/>
<rect x="583.40" y="167.30" width="67.80" height="1.00" fill="#ffffff" opacity="0.021"/>
<rect x="583.40" y="168.30" width="67.80" height="1.00" fill="#1a4f8f" opacity="0.024"/>
<rect x="583.40" y="169.30" width="67.80" height="1.00" fill="#ffffff" opacity="0.005"/>
<rect x="583.40" y="170.30" width="67.80" height="1.00" fill="#ffffff" opacity="0.047"/>
<rect x="583.40" y="171.30" width="67.80" height="1.00" fill="#1a4f8f" opacity="0.012"/>
<rect x="583.40" y="172.30" width="67.80" height="2.00" fill="#ffffff" opacity="0.047"/>
<rect x="583.40" y="174.30" width="67.80" height="2.00" fill="#ffffff" opacity="0.043"/>
<rect x="583.40" y="176.30" width="67.80" height="1.00" fill="#1a4f8f" opacity="0.021"/>
<rect x="583.40" y="177.30" width="67.80" height="1.00" fill="#1a4f8f" opacity="0.050"/>
<rect x="583.40" y="178.30" width="67.80" height="2.00" fill="#ffffff" opacity="0.021"/>
<rect x="583.40" y="180.30" width="67.80" height="2.00" fill="#1a4f8f" opacity="0.038"/>
<rect x="583.40" y="182.30" width="67.80" height="1.00" fill="#ffffff" opacity="0.006"/>
<rect x="583.40" y="183.30" width="67.80" height="2.00" fill="#ffffff" opacity="0.021"/>
<rect x="583.40" y="185.30" width="67.80" height="2.00" fill="#ffffff" opacity="0.027"/>
<rect x="583.40" y="187.30" width="67.80" height="1.00" fill="#ffffff" opacity="0.006"/>
<rect x="583.40" y="188.30" width="67.80" height="1.00" fill="#1a4f8f" opacity="0.047"/>
<rect x="583.40" y="189.30" width="67.80" height="1.00" fill="#1a4f8f" opacity="0.059"/>
<rect x="583.40" y="190.30" width="67.80" height="1.00" fill="#ffffff" opacity="0.029"/>
<rect x="583.40" y="191.30" width="67.80" height="1.00" fill="#1a4f8f" opacity="0.032"/>
<rect x="583.40" y="192.30" width="67.80" height="2.00" fill="#1a4f8f" opacity="0.023"/>
<rect x="583.40" y="194.30" width="67.80" height="1.00" fill="#ffffff" opacity="0.039"/>
<rect x="583.40" y="195.30" width="67.80" height="2.00" fill="#1a4f8f" opacity="0.017"/>
<rect x="583.40" y="197.30" width="67.80" height="2.00" fill="#ffffff" opacity="0.044"/>
<rect x="583.40" y="199.30" width="67.80" height="1.00" fill="#ffffff" opacity="0.008"/>
<rect x="583.40" y="200.30" width="67.80" height="1.00" fill="#1a4f8f" opacity="0.013"/>
<rect x="583.40" y="201.30" width="67.80" height="1.00" fill="#ffffff" opacity="0.001"/>
<rect x="583.40" y="202.30" width="67.80" height="1.00" fill="#ffffff" opacity="0.047"/>
<rect x="583.40" y="203.30" width="67.80" height="2.00" fill="#ffffff" opacity="0.032"/>
<rect x="583.40" y="205.30" width="67.80" height="1.00" fill="#1a4f8f" opacity="0.020"/>
<rect x="583.40" y="206.30" width="67.80" height="1.00" fill="#ffffff" opacity="0.046"/>
<rect x="583.40" y="207.30" width="67.80" height="1.00" fill="#1a4f8f" opacity="0.015"/>
<rect x="583.40" y="208.30" width="67.80" height="1.00" fill="#ffffff" opacity="0.053"/>
<rect x="583.40" y="209.30" width="67.80" height="2.00" fill="#ffffff" opacity="0.053"/>
<rect x="583.40" y="211.30" width="67.80" height="1.00" fill="#1a4f8f" opacity="0.027"/>
<rect x="583.40" y="212.30" width="67.80" height="1.00" fill="#ffffff" opacity="0.034"/>
<rect x="583.40" y="213.30" width="67.80" height="1.00" fill="#ffffff" opacity="0.010"/>
<rect x="583.40" y="214.30" width="67.80" height="2.00" fill="#1a4f8f" opacity="0.039"/>
<rect x="583.40" y="216.30" width="67.80" height="2.00" fill="#1a4f8f" opacity="0.009"/>
<rect x="583.40" y="218.30" width="67.80" height="2.00" fill="#ffffff" opacity="0.023"/>
<rect x="583.40" y="220.30" width="67.80" height="1.00" fill="#ffffff" opacity="0.000"/>
<rect x="583.40" y="221.30" width="67.80" height="2.00" fill="#ffffff" opacity="0.044"/>
<rect x="583.40" y="223.30" width="67.80" height="1.00" fill="#ffffff" opacity="0.006"/>
<rect x="583.40" y="224.30" width="67.80" height="1.00" fill="#ffffff" opacity="0.002"/>
<rect x="583.40" y="225.30" width="67.80" height="1.00" fill="#ffffff" opacity="0.014"/>
<rect x="583.40" y="226.30" width="67.80" height="2.00" fill="#1a4f8f" opacity="0.003"/>
<path d="M603.0,84.3 L635.0,84.3 L624.0,147.3 L621.5,229.5 L616.5,229.5 L614.0,147.3 Z" fill="#9cc4e4" opacity="0.42" filter="url(#blurH)"/>
<g filter="url(#blurC)">
<rect x="612.01" y="85.30" width="13.02" height="1.00" fill="#ffffff" opacity="0.90"/>
<rect x="611.29" y="86.30" width="16.36" height="1.00" fill="#ffffff" opacity="0.88"/>
<rect x="611.29" y="87.30" width="16.04" height="1.00" fill="#ffffff" opacity="0.91"/>
<rect x="612.51" y="88.30" width="12.18" height="1.00" fill="#ffffff" opacity="1.00"/>
<rect x="611.36" y="89.30" width="16.12" height="1.00" fill="#ffffff" opacity="1.00"/>
<rect x="613.65" y="90.30" width="10.81" height="1.00" fill="#ffffff" opacity="1.00"/>
<rect x="611.17" y="91.30" width="15.90" height="1.00" fill="#ffffff" opacity="0.99"/>
<rect x="611.45" y="92.30" width="14.25" height="1.00" fill="#ffffff" opacity="1.00"/>
<rect x="613.45" y="93.30" width="10.69" height="1.00" fill="#ffffff" opacity="1.00"/>
<rect x="612.93" y="94.30" width="12.63" height="1.00" fill="#ffffff" opacity="0.84"/>
<rect x="614.21" y="95.30" width="10.20" height="1.00" fill="#ffffff" opacity="1.00"/>
<rect x="612.84" y="96.30" width="12.62" height="1.00" fill="#ffffff" opacity="0.87"/>
<rect x="613.13" y="97.30" width="10.96" height="1.00" fill="#ffffff" opacity="0.96"/>
<rect x="611.24" y="98.30" width="15.22" height="1.00" fill="#ffffff" opacity="1.00"/>
<rect x="614.36" y="99.30" width="9.98" height="1.00" fill="#ffffff" opacity="1.00"/>
<rect x="611.85" y="100.30" width="14.03" height="1.00" fill="#ffffff" opacity="0.86"/>
<rect x="613.24" y="101.30" width="10.81" height="1.00" fill="#ffffff" opacity="1.00"/>
<rect x="613.13" y="102.30" width="12.27" height="1.00" fill="#ffffff" opacity="1.00"/>
<rect x="614.17" y="103.30" width="8.89" height="1.00" fill="#ffffff" opacity="0.85"/>
<rect x="612.86" y="104.30" width="12.31" height="1.00" fill="#ffffff" opacity="1.00"/>
<rect x="613.67" y="105.30" width="10.89" height="1.00" fill="#ffffff" opacity="0.94"/>
<rect x="613.40" y="106.30" width="11.67" height="1.00" fill="#ffffff" opacity="1.00"/>
<rect x="613.24" y="107.30" width="12.19" height="1.00" fill="#ffffff" opacity="1.00"/>
<rect x="613.34" y="108.30" width="11.67" height="1.00" fill="#ffffff" opacity="0.83"/>
<rect x="613.28" y="109.30" width="12.19" height="1.00" fill="#ffffff" opacity="0.94"/>
<rect x="614.52" y="110.30" width="8.85" height="1.00" fill="#ffffff" opacity="1.00"/>
<rect x="613.18" y="111.30" width="11.25" height="1.00" fill="#ffffff" opacity="0.89"/>
<rect x="613.87" y="112.30" width="9.45" height="1.00" fill="#ffffff" opacity="0.91"/>
<rect x="614.27" y="113.30" width="9.78" height="1.00" fill="#ffffff" opacity="1.00"/>
<rect x="613.38" y="114.30" width="11.91" height="1.00" fill="#ffffff" opacity="1.00"/>
<rect x="612.75" y="115.30" width="12.05" height="1.00" fill="#ffffff" opacity="1.00"/>
<rect x="614.23" y="116.30" width="8.58" height="1.00" fill="#ffffff" opacity="0.93"/>
<rect x="615.22" y="117.30" width="8.40" height="1.00" fill="#ffffff" opacity="1.00"/>
<rect x="614.91" y="118.30" width="8.72" height="1.00" fill="#ffffff" opacity="1.00"/>
<rect x="613.51" y="119.30" width="11.04" height="1.00" fill="#ffffff" opacity="1.00"/>
<rect x="615.03" y="120.30" width="7.56" height="1.00" fill="#ffffff" opacity="1.00"/>
<rect x="614.20" y="121.30" width="9.67" height="1.00" fill="#ffffff" opacity="0.89"/>
<rect x="613.55" y="122.30" width="10.96" height="1.00" fill="#ffffff" opacity="0.82"/>
<rect x="614.68" y="123.30" width="9.52" height="1.00" fill="#ffffff" opacity="0.92"/>
<rect x="614.98" y="124.30" width="8.42" height="1.00" fill="#ffffff" opacity="1.00"/>
<rect x="613.44" y="125.30" width="10.55" height="1.00" fill="#ffffff" opacity="0.79"/>
<rect x="614.65" y="126.30" width="7.72" height="1.00" fill="#ffffff" opacity="1.00"/>
<rect x="615.73" y="127.30" width="7.51" height="1.00" fill="#ffffff" opacity="0.94"/>
<rect x="615.64" y="128.30" width="7.09" height="1.00" fill="#ffffff" opacity="0.86"/>
<rect x="614.78" y="129.30" width="8.95" height="1.00" fill="#ffffff" opacity="0.93"/>
<rect x="614.94" y="130.30" width="7.17" height="1.00" fill="#ffffff" opacity="0.80"/>
<rect x="614.41" y="131.30" width="8.70" height="1.00" fill="#ffffff" opacity="0.78"/>
<rect x="614.31" y="132.30" width="9.57" height="1.00" fill="#ffffff" opacity="0.89"/>
<rect x="615.03" y="133.30" width="8.33" height="1.00" fill="#ffffff" opacity="0.87"/>
<rect x="615.09" y="134.30" width="6.96" height="1.00" fill="#ffffff" opacity="0.73"/>
<rect x="615.72" y="135.30" width="5.85" height="1.00" fill="#ffffff" opacity="0.80"/>
<rect x="616.42" y="136.30" width="6.10" height="1.00" fill="#ffffff" opacity="0.82"/>
<rect x="615.30" y="137.30" width="7.95" height="1.00" fill="#ffffff" opacity="0.76"/>
<rect x="615.72" y="138.30" width="6.17" height="1.00" fill="#ffffff" opacity="0.71"/>
<rect x="615.50" y="139.30" width="6.89" height="1.00" fill="#ffffff" opacity="0.85"/>
<rect x="615.49" y="140.30" width="7.88" height="1.00" fill="#ffffff" opacity="0.70"/>
<rect x="615.25" y="141.30" width="6.55" height="1.00" fill="#ffffff" opacity="0.87"/>
<rect x="615.32" y="142.30" width="8.07" height="1.00" fill="#ffffff" opacity="0.72"/>
<rect x="614.82" y="143.30" width="7.92" height="1.00" fill="#ffffff" opacity="0.82"/>
<rect x="616.74" y="144.30" width="5.33" height="1.00" fill="#ffffff" opacity="0.70"/>
<rect x="616.21" y="145.30" width="5.75" height="1.00" fill="#ffffff" opacity="0.80"/>
<rect x="615.01" y="146.30" width="7.27" height="1.00" fill="#ffffff" opacity="0.68"/>
<rect x="616.15" y="147.30" width="5.46" height="1.00" fill="#ffffff" opacity="0.86"/>
<rect x="615.17" y="148.30" width="7.11" height="1.00" fill="#ffffff" opacity="0.76"/>
<rect x="616.72" y="149.30" width="5.26" height="1.00" fill="#ffffff" opacity="0.63"/>
<rect x="616.16" y="150.30" width="5.41" height="1.00" fill="#ffffff" opacity="0.83"/>
<rect x="615.73" y="151.30" width="7.12" height="1.00" fill="#ffffff" opacity="0.64"/>
<rect x="616.19" y="152.30" width="5.67" height="1.00" fill="#ffffff" opacity="0.68"/>
<rect x="616.70" y="153.30" width="5.20" height="1.00" fill="#ffffff" opacity="0.65"/>
<rect x="616.44" y="154.30" width="5.65" height="1.00" fill="#ffffff" opacity="0.67"/>
<rect x="616.01" y="155.30" width="5.42" height="1.00" fill="#ffffff" opacity="0.62"/>
<rect x="616.23" y="156.30" width="5.83" height="1.00" fill="#ffffff" opacity="0.65"/>
<rect x="615.54" y="157.30" width="6.01" height="1.00" fill="#ffffff" opacity="0.74"/>
<rect x="615.49" y="158.30" width="6.49" height="1.00" fill="#ffffff" opacity="0.72"/>
<rect x="616.28" y="159.30" width="4.67" height="1.00" fill="#ffffff" opacity="0.64"/>
<rect x="615.69" y="160.30" width="5.80" height="1.00" fill="#ffffff" opacity="0.68"/>
<rect x="616.26" y="161.30" width="4.82" height="1.00" fill="#ffffff" opacity="0.63"/>
<rect x="616.08" y="162.30" width="5.07" height="1.00" fill="#ffffff" opacity="0.61"/>
<rect x="616.68" y="163.30" width="4.59" height="1.00" fill="#ffffff" opacity="0.59"/>
<rect x="615.17" y="164.30" width="6.81" height="1.00" fill="#ffffff" opacity="0.62"/>
<rect x="616.62" y="165.30" width="4.89" height="1.00" fill="#ffffff" opacity="0.64"/>
<rect x="616.11" y="166.30" width="6.49" height="1.00" fill="#ffffff" opacity="0.67"/>
<rect x="616.78" y="167.30" width="4.50" height="1.00" fill="#ffffff" opacity="0.66"/>
<rect x="616.98" y="168.30" width="4.77" height="1.00" fill="#ffffff" opacity="0.52"/>
<rect x="616.44" y="169.30" width="4.65" height="1.00" fill="#ffffff" opacity="0.50"/>
<rect x="616.06" y="170.30" width="6.34" height="1.00" fill="#ffffff" opacity="0.55"/>
<rect x="616.71" y="171.30" width="4.21" height="1.00" fill="#ffffff" opacity="0.54"/>
<rect x="616.62" y="172.30" width="4.48" height="1.00" fill="#ffffff" opacity="0.57"/>
<rect x="616.87" y="173.30" width="4.22" height="1.00" fill="#ffffff" opacity="0.61"/>
<rect x="617.00" y="174.30" width="4.31" height="1.00" fill="#ffffff" opacity="0.45"/>
<rect x="616.45" y="175.30" width="5.03" height="1.00" fill="#ffffff" opacity="0.44"/>
<rect x="615.99" y="176.30" width="5.48" height="1.00" fill="#ffffff" opacity="0.51"/>
<rect x="616.71" y="177.30" width="4.87" height="1.00" fill="#ffffff" opacity="0.52"/>
<rect x="617.42" y="178.30" width="4.05" height="1.00" fill="#ffffff" opacity="0.54"/>
<rect x="616.20" y="179.30" width="5.34" height="1.00" fill="#ffffff" opacity="0.54"/>
<rect x="615.90" y="180.30" width="5.66" height="1.00" fill="#ffffff" opacity="0.44"/>
<rect x="616.11" y="181.30" width="4.95" height="1.00" fill="#ffffff" opacity="0.53"/>
<rect x="616.90" y="182.30" width="4.09" height="1.00" fill="#ffffff" opacity="0.40"/>
<rect x="617.30" y="183.30" width="3.89" height="1.00" fill="#ffffff" opacity="0.42"/>
<rect x="616.50" y="184.30" width="4.81" height="1.00" fill="#ffffff" opacity="0.52"/>
<rect x="616.96" y="185.30" width="4.97" height="1.00" fill="#ffffff" opacity="0.39"/>
<rect x="617.01" y="186.30" width="4.00" height="1.00" fill="#ffffff" opacity="0.44"/>
<rect x="616.76" y="187.30" width="5.46" height="1.00" fill="#ffffff" opacity="0.44"/>
<rect x="616.96" y="188.30" width="4.74" height="1.00" fill="#ffffff" opacity="0.40"/>
<rect x="617.04" y="189.30" width="3.84" height="1.00" fill="#ffffff" opacity="0.49"/>
<rect x="616.89" y="190.30" width="3.86" height="1.00" fill="#ffffff" opacity="0.48"/>
<rect x="617.07" y="191.30" width="4.20" height="1.00" fill="#ffffff" opacity="0.40"/>
<rect x="616.97" y="192.30" width="3.39" height="1.00" fill="#ffffff" opacity="0.39"/>
<rect x="616.62" y="193.30" width="4.97" height="1.00" fill="#ffffff" opacity="0.34"/>
<rect x="617.16" y="194.30" width="3.80" height="1.00" fill="#ffffff" opacity="0.39"/>
<rect x="616.41" y="195.30" width="4.66" height="1.00" fill="#ffffff" opacity="0.35"/>
<rect x="616.91" y="196.30" width="3.47" height="1.00" fill="#ffffff" opacity="0.44"/>
<rect x="617.34" y="197.30" width="3.47" height="1.00" fill="#ffffff" opacity="0.38"/>
<rect x="616.30" y="198.30" width="4.88" height="1.00" fill="#ffffff" opacity="0.32"/>
<rect x="617.22" y="199.30" width="3.47" height="1.00" fill="#ffffff" opacity="0.38"/>
<rect x="617.21" y="200.30" width="3.90" height="1.00" fill="#ffffff" opacity="0.40"/>
<rect x="616.42" y="201.30" width="4.70" height="1.00" fill="#ffffff" opacity="0.40"/>
<rect x="616.15" y="202.30" width="4.81" height="1.00" fill="#ffffff" opacity="0.34"/>
<rect x="616.16" y="203.30" width="4.72" height="1.00" fill="#ffffff" opacity="0.30"/>
<rect x="617.69" y="204.30" width="3.55" height="1.00" fill="#ffffff" opacity="0.32"/>
<rect x="616.75" y="205.30" width="4.56" height="1.00" fill="#ffffff" opacity="0.32"/>
<rect x="616.91" y="206.30" width="4.48" height="1.00" fill="#ffffff" opacity="0.36"/>
<rect x="616.82" y="207.30" width="3.84" height="1.00" fill="#ffffff" opacity="0.28"/>
<rect x="617.27" y="208.30" width="4.06" height="1.00" fill="#ffffff" opacity="0.32"/>
<rect x="616.47" y="209.30" width="4.44" height="1.00" fill="#ffffff" opacity="0.35"/>
<rect x="617.58" y="210.30" width="2.99" height="1.00" fill="#ffffff" opacity="0.34"/>
<rect x="617.19" y="211.30" width="3.14" height="1.00" fill="#ffffff" opacity="0.31"/>
<rect x="617.42" y="212.30" width="3.20" height="1.00" fill="#ffffff" opacity="0.28"/>
<rect x="617.29" y="213.30" width="3.91" height="1.00" fill="#ffffff" opacity="0.25"/>
<rect x="617.28" y="214.30" width="3.78" height="1.00" fill="#ffffff" opacity="0.28"/>
<rect x="616.96" y="215.30" width="4.03" height="1.00" fill="#ffffff" opacity="0.23"/>
<rect x="617.25" y="216.30" width="3.79" height="1.00" fill="#ffffff" opacity="0.28"/>
<rect x="617.81" y="217.30" width="2.96" height="1.00" fill="#ffffff" opacity="0.30"/>
<rect x="617.95" y="218.30" width="3.01" height="1.00" fill="#ffffff" opacity="0.25"/>
<rect x="617.99" y="219.30" width="2.94" height="1.00" fill="#ffffff" opacity="0.24"/>
<rect x="617.24" y="220.30" width="3.99" height="1.00" fill="#ffffff" opacity="0.22"/>
<rect x="617.71" y="221.30" width="3.11" height="1.00" fill="#ffffff" opacity="0.25"/>
<rect x="617.35" y="222.30" width="2.73" height="1.00" fill="#ffffff" opacity="0.21"/>
<rect x="617.18" y="223.30" width="2.91" height="1.00" fill="#ffffff" opacity="0.19"/>
<rect x="617.04" y="224.30" width="3.09" height="1.00" fill="#ffffff" opacity="0.21"/>
<rect x="617.42" y="225.30" width="3.31" height="1.00" fill="#ffffff" opacity="0.24"/>
<rect x="617.46" y="226.30" width="2.94" height="1.00" fill="#ffffff" opacity="0.22"/>
<rect x="617.19" y="227.30" width="2.65" height="1.00" fill="#ffffff" opacity="0.20"/>
<rect x="617.18" y="228.30" width="3.37" height="1.00" fill="#ffffff" opacity="0.18"/>
</g>
<ellipse cx="618.0" cy="88.3" rx="6.5" ry="2.4" fill="#ef8a62" filter="url(#blur2)" opacity="0.85"/>
<ellipse cx="618.0" cy="98.3" rx="4.5" ry="11" fill="#f4a582" filter="url(#blur2)" opacity="0.3"/>
</g>
<rect x="583.4" y="87.3" width="67.8" height="139.2" fill="none" stroke="#555" stroke-width="0.8"/>
<line x1="617.30" y1="226.50" x2="617.30" y2="229.00" stroke="#333" stroke-width="0.80"/>
<line x1="590.00" y1="232.00" x2="645.00" y2="232.00" stroke="#000" stroke-width="2.40"/>
<path d="M583.4,232.0 L593.5,227.6 L593.5,236.4 Z" fill="#000"/>
<path d="M651.2,232.0 L641.1,227.6 L641.1,236.4 Z" fill="#000"/>
<text x="618.20" y="245.20" font-size="9.50" text-anchor="middle" fill="#111">20 kB</text>
<rect x="655.00" y="87.40" width="6.70" height="138.80" fill="url(#cbar)" stroke="#444" stroke-width="0.6"/>
<line x1="661.70" y1="226.00" x2="663.70" y2="226.00" stroke="#333" stroke-width="0.70"/>
<text x="664.00" y="229.40" font-size="9.50" text-anchor="start" fill="#111">0</text>
<line x1="661.70" y1="206.15" x2="663.70" y2="206.15" stroke="#333" stroke-width="0.70"/>
<text x="664.00" y="209.55" font-size="9.50" text-anchor="start" fill="#111">1</text>
<line x1="661.70" y1="186.30" x2="663.70" y2="186.30" stroke="#333" stroke-width="0.70"/>
<text x="664.00" y="189.70" font-size="9.50" text-anchor="start" fill="#111">2</text>
<line x1="661.70" y1="166.45" x2="663.70" y2="166.45" stroke="#333" stroke-width="0.70"/>
<text x="664.00" y="169.85" font-size="9.50" text-anchor="start" fill="#111">3</text>
<line x1="661.70" y1="146.60" x2="663.70" y2="146.60" stroke="#333" stroke-width="0.70"/>
<text x="664.00" y="150.00" font-size="9.50" text-anchor="start" fill="#111">4</text>
<line x1="661.70" y1="126.75" x2="663.70" y2="126.75" stroke="#333" stroke-width="0.70"/>
<text x="664.00" y="130.15" font-size="9.50" text-anchor="start" fill="#111">5</text>
<line x1="661.70" y1="106.90" x2="663.70" y2="106.90" stroke="#333" stroke-width="0.70"/>
<text x="664.00" y="110.30" font-size="9.50" text-anchor="start" fill="#111">6</text>
<text transform="translate(674.3,119.6) rotate(90)" font-size="14" fill="#111">FC<tspan font-size="10.7" dx="2.0">over control</tspan></text>
<text x="0.40" y="259.50" font-size="23.8" fill="#000" stroke="#000" stroke-width="0.3">C</text>
<line x1="35.40" y1="260.70" x2="236.30" y2="260.70" stroke="#777" stroke-width="0.90"/>
<line x1="236.30" y1="260.70" x2="236.30" y2="462.00" stroke="#999" stroke-width="0.90"/>
<line x1="35.40" y1="260.70" x2="35.40" y2="462.00" stroke="#222" stroke-width="1.10"/>
<line x1="35.40" y1="462.00" x2="236.30" y2="462.00" stroke="#222" stroke-width="1.10"/>
<line x1="32.40" y1="452.80" x2="35.40" y2="452.80" stroke="#222" stroke-width="1.00"/>
<text x="30.40" y="456.70" font-size="11.00" text-anchor="end" fill="#111">0</text>
<line x1="32.40" y1="414.50" x2="35.40" y2="414.50" stroke="#222" stroke-width="1.00"/>
<text x="30.40" y="418.40" font-size="11.00" text-anchor="end" fill="#111">5</text>
<line x1="32.40" y1="376.20" x2="35.40" y2="376.20" stroke="#222" stroke-width="1.00"/>
<text x="30.40" y="380.10" font-size="11.00" text-anchor="end" fill="#111">10</text>
<line x1="32.40" y1="337.90" x2="35.40" y2="337.90" stroke="#222" stroke-width="1.00"/>
<text x="30.40" y="341.80" font-size="11.00" text-anchor="end" fill="#111">15</text>
<line x1="32.40" y1="299.60" x2="35.40" y2="299.60" stroke="#222" stroke-width="1.00"/>
<text x="30.40" y="303.50" font-size="11.00" text-anchor="end" fill="#111">20</text>
<line x1="32.40" y1="261.30" x2="35.40" y2="261.30" stroke="#222" stroke-width="1.00"/>
<text x="30.40" y="265.20" font-size="11.00" text-anchor="end" fill="#111">25</text>
<line x1="47.40" y1="462.00" x2="47.40" y2="465.00" stroke="#222" stroke-width="1.00"/>
<text x="47.40" y="475.50" font-size="11.00" text-anchor="middle" fill="#111">2</text>
<line x1="88.20" y1="462.00" x2="88.20" y2="465.00" stroke="#222" stroke-width="1.00"/>
<text x="88.20" y="475.50" font-size="11.00" text-anchor="middle" fill="#111">1</text>
<line x1="129.00" y1="462.00" x2="129.00" y2="465.00" stroke="#222" stroke-width="1.00"/>
<text x="129.00" y="475.50" font-size="11.00" text-anchor="middle" fill="#111">0</text>
<line x1="170.50" y1="462.00" x2="170.50" y2="465.00" stroke="#222" stroke-width="1.00"/>
<text x="170.50" y="475.50" font-size="11.00" text-anchor="middle" fill="#111">1</text>
<line x1="212.00" y1="462.00" x2="212.00" y2="465.00" stroke="#222" stroke-width="1.00"/>
<text x="212.00" y="475.50" font-size="11.00" text-anchor="middle" fill="#111">2</text>
<text transform="translate(11.8,365.6) rotate(-90)" font-size="13.3" text-anchor="middle" fill="#111">-Log10(p-adj)</text>
<path d="M52.0,443.7 L54.6,443.4 L57.1,443.5 L59.7,443.2 L62.3,443.2 L64.8,440.8 L67.4,441.2 L70.0,440.0 L72.5,440.9 L75.1,440.2 L77.7,440.1 L80.2,441.0 L82.8,440.7 L85.4,441.1 L87.9,441.1 L90.5,440.6 L93.1,440.0 L95.6,439.7 L98.2,440.6 L100.8,440.9 L103.3,440.1 L105.9,439.8 L108.5,439.7 L111.0,440.0 L113.6,440.8 L116.2,439.7 L118.7,440.1 L121.3,440.1 L123.9,440.8 L126.4,441.3 L129.0,439.7 L131.6,439.9 L134.1,441.2 L136.7,441.3 L139.3,439.9 L141.8,440.2 L144.4,440.5 L147.0,440.2 L149.5,440.4 L152.1,440.5 L154.7,440.1 L157.2,439.8 L159.8,439.8 L162.4,440.0 L164.9,439.8 L167.5,440.7 L170.1,440.8 L172.6,440.1 L175.2,441.0 L177.8,440.9 L180.3,440.2 L182.9,440.5 L185.5,440.0 L188.0,441.2 L190.6,440.6 L193.2,439.8 L195.7,442.4 L198.3,443.3 L200.9,442.8 L203.4,443.3 L206.0,442.6 L206.0,445.0 L203.4,445.5 L200.9,446.0 L198.3,446.5 L195.7,447.0 L193.2,447.5 L190.6,448.0 L188.0,448.5 L185.5,448.9 L182.9,449.4 L180.3,449.8 L177.8,450.2 L175.2,450.6 L172.6,451.0 L170.1,451.4 L167.5,451.8 L164.9,452.2 L162.4,452.5 L159.8,452.8 L157.2,453.2 L154.7,453.5 L152.1,453.8 L149.5,454.1 L147.0,454.3 L144.4,454.6 L141.8,454.8 L139.3,455.0 L136.7,455.2 L134.1,455.3 L131.6,455.4 L129.0,455.5 L126.4,455.4 L123.9,455.3 L121.3,455.2 L118.7,455.0 L116.2,454.8 L113.6,454.6 L111.0,454.3 L108.5,454.1 L105.9,453.8 L103.3,453.5 L100.8,453.2 L98.2,452.8 L95.6,452.5 L93.1,452.2 L90.5,451.8 L87.9,451.4 L85.4,451.0 L82.8,450.6 L80.2,450.2 L77.7,449.8 L75.1,449.4 L72.5,448.9 L70.0,448.5 L67.4,448.0 L64.8,447.5 L62.3,447.0 L59.7,446.5 L57.1,446.0 L54.6,445.5 L52.0,445.0 Z" fill="#bdbdbd"/>
<circle cx="174.8" cy="448.2" r="1.7" fill="#bdbdbd"/>
<circle cx="66.5" cy="443.8" r="1.7" fill="#bdbdbd"/>
<circle cx="81.5" cy="446.8" r="1.7" fill="#bdbdbd"/>
<circle cx="175.8" cy="447.9" r="1.7" fill="#bdbdbd"/>
<circle cx="87.6" cy="439.2" r="1.7" fill="#bdbdbd"/>
<circle cx="154.2" cy="446.8" r="1.7" fill="#bdbdbd"/>
<circle cx="73.3" cy="440.1" r="1.7" fill="#bdbdbd"/>
<circle cx="141.7" cy="439.8" r="1.7" fill="#bdbdbd"/>
<circle cx="149.6" cy="441.9" r="1.7" fill="#bdbdbd"/>
<circle cx="91.8" cy="443.9" r="1.7" fill="#bdbdbd"/>
<circle cx="134.1" cy="450.5" r="1.7" fill="#bdbdbd"/>
<circle cx="56.8" cy="443.8" r="1.7" fill="#bdbdbd"/>
<circle cx="86.0" cy="441.8" r="1.7" fill="#bdbdbd"/>
<circle cx="150.5" cy="449.0" r="1.7" fill="#bdbdbd"/>
<circle cx="146.7" cy="452.7" r="1.7" fill="#bdbdbd"/>
<circle cx="83.5" cy="442.0" r="1.7" fill="#bdbdbd"/>
<circle cx="154.0" cy="442.1" r="1.7" fill="#bdbdbd"/>
<circle cx="76.2" cy="440.6" r="1.7" fill="#bdbdbd"/>
<circle cx="170.8" cy="449.0" r="1.7" fill="#bdbdbd"/>
<circle cx="162.3" cy="451.9" r="1.7" fill="#bdbdbd"/>
<circle cx="174.3" cy="442.0" r="1.7" fill="#bdbdbd"/>
<circle cx="100.6" cy="448.9" r="1.7" fill="#bdbdbd"/>
<circle cx="60.6" cy="443.3" r="1.7" fill="#bdbdbd"/>
<circle cx="65.7" cy="438.5" r="1.7" fill="#bdbdbd"/>
<circle cx="131.1" cy="440.6" r="1.7" fill="#bdbdbd"/>
<circle cx="195.5" cy="446.0" r="1.7" fill="#bdbdbd"/>
<circle cx="123.1" cy="441.4" r="1.7" fill="#bdbdbd"/>
<circle cx="70.4" cy="443.3" r="1.7" fill="#bdbdbd"/>
<circle cx="132.3" cy="444.3" r="1.7" fill="#bdbdbd"/>
<circle cx="162.3" cy="445.7" r="1.7" fill="#bdbdbd"/>
<circle cx="171.4" cy="439.4" r="1.7" fill="#bdbdbd"/>
<circle cx="62.8" cy="441.5" r="1.7" fill="#bdbdbd"/>
<circle cx="126.5" cy="442.4" r="1.7" fill="#bdbdbd"/>
<circle cx="155.0" cy="441.4" r="1.7" fill="#bdbdbd"/>
<circle cx="101.0" cy="445.2" r="1.7" fill="#bdbdbd"/>
<circle cx="161.7" cy="449.2" r="1.7" fill="#bdbdbd"/>
<circle cx="109.2" cy="445.2" r="1.7" fill="#bdbdbd"/>
<circle cx="194.8" cy="446.6" r="1.7" fill="#bdbdbd"/>
<circle cx="147.3" cy="439.7" r="1.7" fill="#bdbdbd"/>
<circle cx="122.2" cy="449.0" r="1.7" fill="#bdbdbd"/>
<circle cx="94.9" cy="438.5" r="1.7" fill="#bdbdbd"/>
<circle cx="203.1" cy="444.9" r="1.7" fill="#bdbdbd"/>
<circle cx="71.9" cy="443.0" r="1.7" fill="#bdbdbd"/>
<circle cx="147.4" cy="442.9" r="1.7" fill="#bdbdbd"/>
<circle cx="62.6" cy="444.8" r="1.7" fill="#bdbdbd"/>
<circle cx="170.7" cy="443.8" r="1.7" fill="#bdbdbd"/>
<circle cx="65.2" cy="441.8" r="1.7" fill="#bdbdbd"/>
<circle cx="66.5" cy="447.5" r="1.7" fill="#bdbdbd"/>
<circle cx="59.9" cy="440.5" r="1.7" fill="#bdbdbd"/>
<circle cx="170.3" cy="439.8" r="1.7" fill="#bdbdbd"/>
<circle cx="68.4" cy="438.7" r="1.7" fill="#bdbdbd"/>
<circle cx="77.3" cy="444.2" r="1.7" fill="#bdbdbd"/>
<circle cx="180.3" cy="440.0" r="1.7" fill="#bdbdbd"/>
<circle cx="78.7" cy="447.2" r="1.7" fill="#bdbdbd"/>
<circle cx="117.6" cy="443.7" r="1.7" fill="#bdbdbd"/>
<circle cx="71.0" cy="440.6" r="1.7" fill="#bdbdbd"/>
<circle cx="201.6" cy="438.9" r="1.7" fill="#bdbdbd"/>
<circle cx="92.0" cy="448.4" r="1.7" fill="#bdbdbd"/>
<circle cx="189.3" cy="447.2" r="1.7" fill="#bdbdbd"/>
<circle cx="124.8" cy="454.6" r="1.7" fill="#bdbdbd"/>
<circle cx="145.0" cy="442.8" r="1.7" fill="#bdbdbd"/>
<circle cx="123.6" cy="450.4" r="1.7" fill="#bdbdbd"/>
<circle cx="165.0" cy="439.8" r="1.7" fill="#bdbdbd"/>
<circle cx="81.8" cy="449.9" r="1.7" fill="#bdbdbd"/>
<circle cx="68.5" cy="446.3" r="1.7" fill="#bdbdbd"/>
<circle cx="104.2" cy="441.9" r="1.7" fill="#bdbdbd"/>
<circle cx="91.3" cy="444.5" r="1.7" fill="#bdbdbd"/>
<circle cx="204.5" cy="439.1" r="1.7" fill="#bdbdbd"/>
<circle cx="183.6" cy="441.6" r="1.7" fill="#bdbdbd"/>
<circle cx="78.6" cy="446.9" r="1.7" fill="#bdbdbd"/>
<circle cx="104.6" cy="440.9" r="1.7" fill="#bdbdbd"/>
<circle cx="116.4" cy="451.8" r="1.7" fill="#bdbdbd"/>
<circle cx="184.9" cy="444.3" r="1.7" fill="#bdbdbd"/>
<circle cx="53.6" cy="443.6" r="1.7" fill="#bdbdbd"/>
<circle cx="145.4" cy="452.8" r="1.7" fill="#bdbdbd"/>
<circle cx="198.6" cy="440.8" r="1.7" fill="#bdbdbd"/>
<circle cx="182.7" cy="447.3" r="1.7" fill="#bdbdbd"/>
<circle cx="93.0" cy="443.2" r="1.7" fill="#bdbdbd"/>
<circle cx="109.7" cy="443.7" r="1.7" fill="#bdbdbd"/>
<circle cx="110.2" cy="439.8" r="1.7" fill="#bdbdbd"/>
<circle cx="87.0" cy="450.1" r="1.7" fill="#bdbdbd"/>
<circle cx="115.2" cy="448.6" r="1.7" fill="#bdbdbd"/>
<circle cx="188.6" cy="445.8" r="1.7" fill="#bdbdbd"/>
<circle cx="89.6" cy="450.6" r="1.7" fill="#bdbdbd"/>
<circle cx="175.8" cy="450.4" r="1.7" fill="#bdbdbd"/>
<circle cx="164.1" cy="448.8" r="1.7" fill="#bdbdbd"/>
<circle cx="177.2" cy="441.1" r="1.7" fill="#bdbdbd"/>
<circle cx="153.0" cy="444.0" r="1.7" fill="#bdbdbd"/>
<circle cx="181.3" cy="439.6" r="1.7" fill="#bdbdbd"/>
<circle cx="135.0" cy="443.8" r="1.7" fill="#bdbdbd"/>
<path d="M125.5,439.5 L132.5,439.5 L129,450 Z" fill="#ffffff"/>
<line x1="37" y1="443" x2="235" y2="443" stroke="#d0d0d0" stroke-width="1" stroke-dasharray="2.5,2.5"/>
<circle cx="88.1" cy="331.8" r="2.05" fill="#188a93"/>
<circle cx="78.3" cy="348.2" r="2.05" fill="#188a93"/>
<circle cx="88.5" cy="354.7" r="2.05" fill="#188a93"/>
<circle cx="97.6" cy="351.0" r="2.05" fill="#188a93"/>
<circle cx="109.2" cy="296.0" r="2.05" fill="#188a93"/>
<circle cx="110.6" cy="325.6" r="2.05" fill="#188a93"/>
<circle cx="117.4" cy="325.0" r="2.05" fill="#188a93"/>
<circle cx="117.8" cy="329.3" r="2.05" fill="#188a93"/>
<circle cx="101.0" cy="357.7" r="2.05" fill="#188a93"/>
<circle cx="72.1" cy="367.2" r="2.05" fill="#188a93"/>
<circle cx="88.3" cy="378.0" r="2.05" fill="#188a93"/>
<circle cx="98.7" cy="386.2" r="2.05" fill="#188a93"/>
<circle cx="82.0" cy="390.4" r="2.05" fill="#188a93"/>
<circle cx="115.4" cy="392.8" r="2.05" fill="#188a93"/>
<circle cx="112.0" cy="399.3" r="2.05" fill="#188a93"/>
<circle cx="116.3" cy="403.3" r="2.05" fill="#188a93"/>
<circle cx="117.1" cy="409.7" r="2.05" fill="#188a93"/>
<circle cx="73.4" cy="411.6" r="2.05" fill="#188a93"/>
<circle cx="100.2" cy="412.8" r="2.05" fill="#188a93"/>
<circle cx="113.5" cy="412.8" r="2.05" fill="#188a93"/>
<circle cx="108.2" cy="417.0" r="2.05" fill="#188a93"/>
<circle cx="116.7" cy="417.0" r="2.05" fill="#188a93"/>
<circle cx="112.0" cy="419.8" r="2.05" fill="#188a93"/>
<circle cx="75.9" cy="425.1" r="2.05" fill="#188a93"/>
<circle cx="107.8" cy="422.6" r="2.05" fill="#188a93"/>
<circle cx="115.8" cy="427.4" r="2.05" fill="#188a93"/>
<circle cx="53.1" cy="431.7" r="2.05" fill="#188a93"/>
<circle cx="44.6" cy="434.0" r="2.05" fill="#188a93"/>
<circle cx="48.4" cy="435.5" r="2.05" fill="#188a93"/>
<circle cx="65.9" cy="431.7" r="2.05" fill="#188a93"/>
<circle cx="84.5" cy="426.8" r="2.05" fill="#188a93"/>
<circle cx="85.4" cy="428.3" r="2.05" fill="#188a93"/>
<circle cx="59.2" cy="438.8" r="2.05" fill="#188a93"/>
<circle cx="51.2" cy="441.6" r="2.05" fill="#188a93"/>
<circle cx="65.5" cy="437.8" r="2.05" fill="#188a93"/>
<circle cx="77.8" cy="436.9" r="2.05" fill="#188a93"/>
<circle cx="82.6" cy="435.9" r="2.05" fill="#188a93"/>
<circle cx="88.0" cy="431.0" r="2.05" fill="#188a93"/>
<circle cx="93.0" cy="433.0" r="2.05" fill="#188a93"/>
<circle cx="97.0" cy="436.0" r="2.05" fill="#188a93"/>
<circle cx="103.0" cy="432.0" r="2.05" fill="#188a93"/>
<circle cx="106.0" cy="429.0" r="2.05" fill="#188a93"/>
<circle cx="110.0" cy="431.0" r="2.05" fill="#188a93"/>
<circle cx="118.0" cy="434.0" r="2.05" fill="#188a93"/>
<circle cx="122.0" cy="437.0" r="2.05" fill="#188a93"/>
<circle cx="125.0" cy="438.0" r="2.05" fill="#188a93"/>
<circle cx="90.0" cy="438.0" r="2.05" fill="#188a93"/>
<circle cx="95.0" cy="439.0" r="2.05" fill="#188a93"/>
<circle cx="100.0" cy="438.0" r="2.05" fill="#188a93"/>
<circle cx="104.0" cy="440.0" r="2.05" fill="#188a93"/>
<circle cx="108.0" cy="437.0" r="2.05" fill="#188a93"/>
<circle cx="113.0" cy="436.0" r="2.05" fill="#188a93"/>
<circle cx="119.0" cy="439.0" r="2.05" fill="#188a93"/>
<circle cx="71.0" cy="439.0" r="2.05" fill="#188a93"/>
<circle cx="76.0" cy="440.0" r="2.05" fill="#188a93"/>
<circle cx="80.0" cy="441.0" r="2.05" fill="#188a93"/>
<circle cx="86.0" cy="440.0" r="2.05" fill="#188a93"/>
<circle cx="111.0" cy="425.0" r="2.05" fill="#188a93"/>
<circle cx="104.0" cy="424.0" r="2.05" fill="#188a93"/>
<circle cx="92.0" cy="426.0" r="2.05" fill="#188a93"/>
<circle cx="120.0" cy="430.0" r="2.05" fill="#188a93"/>
<circle cx="123.0" cy="433.0" r="2.05" fill="#188a93"/>
<circle cx="57.0" cy="440.0" r="2.05" fill="#188a93"/>
<circle cx="63.0" cy="441.0" r="2.05" fill="#188a93"/>
<circle cx="99.0" cy="428.0" r="2.05" fill="#188a93"/>
<circle cx="87.0" cy="434.0" r="2.05" fill="#188a93"/>
<circle cx="115.0" cy="438.0" r="2.05" fill="#188a93"/>
<circle cx="110.0" cy="440.0" r="2.05" fill="#188a93"/>
<circle cx="102.0" cy="437.0" r="2.05" fill="#188a93"/>
<circle cx="96.0" cy="430.0" r="2.05" fill="#188a93"/>
<circle cx="91.0" cy="430.0" r="2.05" fill="#188a93"/>
<circle cx="94.0" cy="420.0" r="2.05" fill="#188a93"/>
<circle cx="118.0" cy="421.0" r="2.05" fill="#188a93"/>
<circle cx="124.0" cy="441.0" r="2.05" fill="#188a93"/>
<circle cx="84.0" cy="441.0" r="2.05" fill="#188a93"/>
<circle cx="68.0" cy="436.0" r="2.05" fill="#188a93"/>
<circle cx="116.9" cy="427.6" r="2.05" fill="#188a93"/>
<circle cx="118.2" cy="439.4" r="2.05" fill="#188a93"/>
<circle cx="122.9" cy="433.5" r="2.05" fill="#188a93"/>
<circle cx="108.3" cy="424.8" r="2.05" fill="#188a93"/>
<circle cx="102.9" cy="433.2" r="2.05" fill="#188a93"/>
<circle cx="114.9" cy="434.4" r="2.05" fill="#188a93"/>
<circle cx="85.9" cy="432.1" r="2.05" fill="#188a93"/>
<circle cx="80.1" cy="431.9" r="2.05" fill="#188a93"/>
<circle cx="115.6" cy="430.0" r="2.05" fill="#188a93"/>
<circle cx="78.5" cy="438.1" r="2.05" fill="#188a93"/>
<circle cx="98.6" cy="432.3" r="2.05" fill="#188a93"/>
<circle cx="123.7" cy="427.1" r="2.05" fill="#188a93"/>
<circle cx="120.6" cy="428.3" r="2.05" fill="#188a93"/>
<circle cx="112.4" cy="427.9" r="2.05" fill="#188a93"/>
<circle cx="104.2" cy="427.2" r="2.05" fill="#188a93"/>
<circle cx="117.3" cy="432.1" r="2.05" fill="#188a93"/>
<circle cx="96.2" cy="440.0" r="2.05" fill="#188a93"/>
<circle cx="85.6" cy="432.4" r="2.05" fill="#188a93"/>
<circle cx="123.9" cy="436.5" r="2.05" fill="#188a93"/>
<circle cx="121.6" cy="423.6" r="2.05" fill="#188a93"/>
<circle cx="97.1" cy="437.5" r="2.05" fill="#188a93"/>
<circle cx="79.7" cy="434.9" r="2.05" fill="#188a93"/>
<circle cx="115.2" cy="431.2" r="2.05" fill="#188a93"/>
<circle cx="113.0" cy="438.0" r="2.05" fill="#188a93"/>
<circle cx="120.0" cy="439.2" r="2.05" fill="#188a93"/>
<circle cx="94.4" cy="437.6" r="2.05" fill="#188a93"/>
<circle cx="85.3" cy="431.5" r="2.05" fill="#188a93"/>
<circle cx="112.3" cy="427.4" r="2.05" fill="#188a93"/>
<circle cx="100.5" cy="436.8" r="2.05" fill="#188a93"/>
<circle cx="123.8" cy="438.0" r="2.05" fill="#188a93"/>
<circle cx="115.6" cy="425.1" r="2.05" fill="#188a93"/>
<circle cx="103.1" cy="436.6" r="2.05" fill="#188a93"/>
<circle cx="93.4" cy="440.9" r="2.05" fill="#188a93"/>
<circle cx="76.2" cy="434.5" r="2.05" fill="#188a93"/>
<circle cx="120.9" cy="438.0" r="2.05" fill="#188a93"/>
<circle cx="122.6" cy="434.4" r="2.05" fill="#188a93"/>
<circle cx="107.2" cy="437.8" r="2.05" fill="#188a93"/>
<circle cx="105.7" cy="430.1" r="2.05" fill="#188a93"/>
<circle cx="96.4" cy="434.5" r="2.05" fill="#188a93"/>
<circle cx="79.7" cy="427.1" r="2.05" fill="#188a93"/>
<circle cx="111.6" cy="437.2" r="2.05" fill="#188a93"/>
<circle cx="88.0" cy="434.8" r="2.05" fill="#188a93"/>
<circle cx="105.7" cy="440.0" r="2.05" fill="#188a93"/>
<circle cx="104.9" cy="436.0" r="2.05" fill="#188a93"/>
<circle cx="111.3" cy="436.5" r="2.05" fill="#188a93"/>
<circle cx="195.0" cy="269.8" r="2.05" fill="#5a12a0"/>
<circle cx="151.1" cy="278.0" r="2.05" fill="#5a12a0"/>
<circle cx="144.6" cy="285.6" r="2.05" fill="#5a12a0"/>
<circle cx="191.0" cy="285.6" r="2.05" fill="#5a12a0"/>
<circle cx="198.1" cy="315.0" r="2.05" fill="#5a12a0"/>
<circle cx="146.6" cy="329.1" r="2.05" fill="#5a12a0"/>
<circle cx="186.9" cy="345.0" r="2.05" fill="#5a12a0"/>
<circle cx="160.3" cy="363.8" r="2.05" fill="#5a12a0"/>
<circle cx="158.4" cy="383.7" r="2.05" fill="#5a12a0"/>
<circle cx="181.7" cy="387.5" r="2.05" fill="#5a12a0"/>
<circle cx="182.7" cy="390.4" r="2.05" fill="#5a12a0"/>
<circle cx="136.0" cy="391.9" r="2.05" fill="#5a12a0"/>
<circle cx="175.5" cy="394.7" r="2.05" fill="#5a12a0"/>
<circle cx="183.1" cy="395.5" r="2.05" fill="#5a12a0"/>
<circle cx="192.0" cy="395.7" r="2.05" fill="#5a12a0"/>
<circle cx="136.0" cy="398.9" r="2.05" fill="#5a12a0"/>
<circle cx="136.6" cy="400.8" r="2.05" fill="#5a12a0"/>
<circle cx="161.6" cy="398.5" r="2.05" fill="#5a12a0"/>
<circle cx="136.0" cy="406.5" r="2.05" fill="#5a12a0"/>
<circle cx="140.4" cy="411.8" r="2.05" fill="#5a12a0"/>
<circle cx="148.9" cy="409.3" r="2.05" fill="#5a12a0"/>
<circle cx="155.5" cy="412.2" r="2.05" fill="#5a12a0"/>
<circle cx="160.3" cy="409.0" r="2.05" fill="#5a12a0"/>
<circle cx="145.1" cy="416.6" r="2.05" fill="#5a12a0"/>
<circle cx="152.7" cy="415.0" r="2.05" fill="#5a12a0"/>
<circle cx="151.4" cy="419.8" r="2.05" fill="#5a12a0"/>
<circle cx="139.0" cy="420.7" r="2.05" fill="#5a12a0"/>
<circle cx="159.3" cy="419.8" r="2.05" fill="#5a12a0"/>
<circle cx="166.4" cy="421.7" r="2.05" fill="#5a12a0"/>
<circle cx="185.9" cy="425.5" r="2.05" fill="#5a12a0"/>
<circle cx="173.6" cy="427.4" r="2.05" fill="#5a12a0"/>
<circle cx="166.9" cy="425.5" r="2.05" fill="#5a12a0"/>
<circle cx="145.7" cy="428.3" r="2.05" fill="#5a12a0"/>
<circle cx="152.1" cy="427.4" r="2.05" fill="#5a12a0"/>
<circle cx="138.1" cy="432.1" r="2.05" fill="#5a12a0"/>
<circle cx="144.2" cy="432.1" r="2.05" fill="#5a12a0"/>
<circle cx="149.9" cy="431.2" r="2.05" fill="#5a12a0"/>
<circle cx="170.7" cy="431.2" r="2.05" fill="#5a12a0"/>
<circle cx="177.4" cy="431.2" r="2.05" fill="#5a12a0"/>
<circle cx="188.4" cy="432.1" r="2.05" fill="#5a12a0"/>
<circle cx="193.5" cy="433.1" r="2.05" fill="#5a12a0"/>
<circle cx="204.9" cy="430.2" r="2.05" fill="#5a12a0"/>
<circle cx="213.4" cy="431.7" r="2.05" fill="#5a12a0"/>
<circle cx="223.9" cy="431.2" r="2.05" fill="#5a12a0"/>
<circle cx="227.7" cy="432.1" r="2.05" fill="#5a12a0"/>
<circle cx="132.8" cy="436.9" r="2.05" fill="#5a12a0"/>
<circle cx="138.5" cy="437.8" r="2.05" fill="#5a12a0"/>
<circle cx="208.7" cy="441.2" r="2.05" fill="#5a12a0"/>
<circle cx="213.4" cy="437.8" r="2.05" fill="#5a12a0"/>
<circle cx="202.0" cy="439.3" r="2.05" fill="#5a12a0"/>
<circle cx="196.4" cy="439.7" r="2.05" fill="#5a12a0"/>
<circle cx="142.0" cy="436.0" r="2.05" fill="#5a12a0"/>
<circle cx="147.0" cy="438.0" r="2.05" fill="#5a12a0"/>
<circle cx="153.0" cy="436.0" r="2.05" fill="#5a12a0"/>
<circle cx="157.0" cy="433.0" r="2.05" fill="#5a12a0"/>
<circle cx="162.0" cy="436.0" r="2.05" fill="#5a12a0"/>
<circle cx="167.0" cy="438.0" r="2.05" fill="#5a12a0"/>
<circle cx="172.0" cy="435.0" r="2.05" fill="#5a12a0"/>
<circle cx="178.0" cy="438.0" r="2.05" fill="#5a12a0"/>
<circle cx="183.0" cy="436.0" r="2.05" fill="#5a12a0"/>
<circle cx="187.0" cy="439.0" r="2.05" fill="#5a12a0"/>
<circle cx="154.0" cy="440.0" r="2.05" fill="#5a12a0"/>
<circle cx="160.0" cy="441.0" r="2.05" fill="#5a12a0"/>
<circle cx="135.0" cy="441.0" r="2.05" fill="#5a12a0"/>
<circle cx="141.0" cy="440.0" r="2.05" fill="#5a12a0"/>
<circle cx="148.0" cy="441.0" r="2.05" fill="#5a12a0"/>
<circle cx="165.0" cy="441.0" r="2.05" fill="#5a12a0"/>
<circle cx="174.0" cy="440.0" r="2.05" fill="#5a12a0"/>
<circle cx="180.0" cy="441.0" r="2.05" fill="#5a12a0"/>
<circle cx="190.0" cy="441.0" r="2.05" fill="#5a12a0"/>
<circle cx="157.0" cy="426.0" r="2.05" fill="#5a12a0"/>
<circle cx="163.0" cy="430.0" r="2.05" fill="#5a12a0"/>
<circle cx="169.0" cy="425.0" r="2.05" fill="#5a12a0"/>
<circle cx="175.0" cy="420.0" r="2.05" fill="#5a12a0"/>
<circle cx="143.0" cy="424.0" r="2.05" fill="#5a12a0"/>
<circle cx="156.0" cy="422.0" r="2.05" fill="#5a12a0"/>
<circle cx="139.0" cy="427.0" r="2.05" fill="#5a12a0"/>
<circle cx="192.0" cy="428.0" r="2.05" fill="#5a12a0"/>
<circle cx="199.0" cy="435.0" r="2.05" fill="#5a12a0"/>
<circle cx="170.0" cy="416.0" r="2.05" fill="#5a12a0"/>
<circle cx="180.0" cy="432.0" r="2.05" fill="#5a12a0"/>
<circle cx="151.0" cy="433.0" r="2.05" fill="#5a12a0"/>
<circle cx="184.8" cy="441.0" r="2.05" fill="#5a12a0"/>
<circle cx="191.5" cy="434.2" r="2.05" fill="#5a12a0"/>
<circle cx="136.4" cy="434.3" r="2.05" fill="#5a12a0"/>
<circle cx="141.0" cy="430.6" r="2.05" fill="#5a12a0"/>
<circle cx="194.8" cy="432.7" r="2.05" fill="#5a12a0"/>
<circle cx="147.4" cy="430.1" r="2.05" fill="#5a12a0"/>
<circle cx="157.8" cy="436.1" r="2.05" fill="#5a12a0"/>
<circle cx="142.2" cy="430.6" r="2.05" fill="#5a12a0"/>
<circle cx="144.2" cy="429.8" r="2.05" fill="#5a12a0"/>
<circle cx="143.6" cy="432.4" r="2.05" fill="#5a12a0"/>
<circle cx="193.3" cy="434.8" r="2.05" fill="#5a12a0"/>
<circle cx="161.7" cy="430.3" r="2.05" fill="#5a12a0"/>
<circle cx="141.1" cy="429.9" r="2.05" fill="#5a12a0"/>
<circle cx="176.2" cy="441.5" r="2.05" fill="#5a12a0"/>
<circle cx="154.3" cy="433.0" r="2.05" fill="#5a12a0"/>
<circle cx="175.5" cy="433.5" r="2.05" fill="#5a12a0"/>
<circle cx="186.5" cy="436.0" r="2.05" fill="#5a12a0"/>
<circle cx="185.5" cy="438.2" r="2.05" fill="#5a12a0"/>
<circle cx="171.7" cy="440.9" r="2.05" fill="#5a12a0"/>
<circle cx="159.3" cy="431.4" r="2.05" fill="#5a12a0"/>
<circle cx="173.8" cy="438.3" r="2.05" fill="#5a12a0"/>
<circle cx="141.2" cy="428.0" r="2.05" fill="#5a12a0"/>
<circle cx="181.8" cy="436.3" r="2.05" fill="#5a12a0"/>
<circle cx="153.4" cy="439.6" r="2.05" fill="#5a12a0"/>
<circle cx="157.4" cy="430.3" r="2.05" fill="#5a12a0"/>
<circle cx="188.5" cy="439.2" r="2.05" fill="#5a12a0"/>
<circle cx="152.4" cy="433.1" r="2.05" fill="#5a12a0"/>
<circle cx="154.9" cy="439.6" r="2.05" fill="#5a12a0"/>
<circle cx="165.5" cy="441.0" r="2.05" fill="#5a12a0"/>
<circle cx="162.0" cy="432.4" r="2.05" fill="#5a12a0"/>
<circle cx="170.4" cy="439.0" r="2.05" fill="#5a12a0"/>
<circle cx="155.3" cy="432.6" r="2.05" fill="#5a12a0"/>
<circle cx="189.5" cy="435.5" r="2.05" fill="#5a12a0"/>
<circle cx="152.9" cy="439.0" r="2.05" fill="#5a12a0"/>
<circle cx="175.5" cy="428.3" r="2.05" fill="#5a12a0"/>
<circle cx="135.7" cy="438.2" r="2.05" fill="#5a12a0"/>
<circle cx="146.4" cy="427.6" r="2.05" fill="#5a12a0"/>
<circle cx="178.2" cy="438.1" r="2.05" fill="#5a12a0"/>
<circle cx="191.7" cy="435.7" r="2.05" fill="#5a12a0"/>
<circle cx="137.6" cy="438.0" r="2.05" fill="#5a12a0"/>
<circle cx="144.2" cy="434.0" r="2.05" fill="#5a12a0"/>
<circle cx="156.3" cy="427.4" r="2.05" fill="#5a12a0"/>
<circle cx="179.5" cy="436.4" r="2.05" fill="#5a12a0"/>
<circle cx="134.4" cy="427.8" r="2.05" fill="#5a12a0"/>
<circle cx="133.4" cy="432.9" r="2.05" fill="#5a12a0"/>
<circle cx="139.1" cy="429.1" r="2.05" fill="#5a12a0"/>
<circle cx="170.4" cy="437.4" r="2.05" fill="#5a12a0"/>
<circle cx="154.7" cy="440.6" r="2.05" fill="#5a12a0"/>
<circle cx="156.6" cy="431.1" r="2.05" fill="#5a12a0"/>
<circle cx="193.4" cy="441.9" r="2.05" fill="#5a12a0"/>
<circle cx="143.0" cy="429.7" r="2.05" fill="#5a12a0"/>
<circle cx="154.1" cy="438.2" r="2.05" fill="#5a12a0"/>
<circle cx="165.4" cy="437.5" r="2.05" fill="#5a12a0"/>
<circle cx="159.7" cy="438.3" r="2.05" fill="#5a12a0"/>
<circle cx="160.4" cy="439.7" r="2.05" fill="#5a12a0"/>
<text x="60.40" y="284.80" font-size="10.00" text-anchor="start" fill="#111" font-style="italic">Pou3f3</text>
<text x="60.20" y="314.60" font-size="10.00" text-anchor="start" fill="#111" font-style="italic">Pou3f2</text>
<text x="195.00" y="297.80" font-size="10.00" text-anchor="start" fill="#111" font-style="italic">Zic2/Zic5</text>
<text x="138.20" y="309.10" font-size="10.00" text-anchor="start" fill="#111" font-style="italic">Zic1/Zic4</text>
<text x="193.60" y="330.50" font-size="10.00" text-anchor="start" fill="#111" font-style="italic">Zic1/Zic4</text>
<text x="150.80" y="377.70" font-size="10.00" text-anchor="start" fill="#111" font-style="italic">Mirlet7c-1</text>
<text x="38.00" y="387.20" font-size="10.00" text-anchor="start" fill="#111" font-style="italic">Htr1f</text>
<text x="52.20" y="399.50" font-size="10.00" text-anchor="start" fill="#111" font-style="italic">Ramac/</text>
<text x="51.60" y="408.50" font-size="10.00" text-anchor="start" fill="#111" font-style="italic">Homer2</text>
<text x="40.80" y="460.30" font-size="10.00" text-anchor="start" fill="#111" font-style="italic">Gabrb1/a4</text>
<text x="204.90" y="385.30" font-size="10.00" text-anchor="start" fill="#111" font-style="italic">Sall3 /</text>
<text x="204.90" y="392.90" font-size="10.00" text-anchor="start" fill="#111" font-style="italic">Atp9b</text>
<text x="166.90" y="406.80" font-size="10.00" text-anchor="start" fill="#111" font-style="italic">Man1a</text>
<text x="175.10" y="417.00" font-size="10.00" text-anchor="start" fill="#111" font-style="italic">Mirlet7c-1</text>
<text x="196.00" y="426.10" font-size="10.00" text-anchor="start" fill="#111" font-style="italic">Kcnc1</text>
<line x1="87.00" y1="288.70" x2="107.70" y2="295.20" stroke="#111" stroke-width="1.00"/>
<line x1="85.80" y1="318.80" x2="107.70" y2="325.30" stroke="#111" stroke-width="1.00"/>
<line x1="201.20" y1="272.50" x2="216.90" y2="285.80" stroke="#111" stroke-width="1.00"/>
<line x1="170.50" y1="299.70" x2="188.30" y2="287.80" stroke="#111" stroke-width="1.00"/>
<line x1="194.40" y1="344.40" x2="212.00" y2="332.40" stroke="#111" stroke-width="1.00"/>
<line x1="153.70" y1="380.90" x2="139.40" y2="404.00" stroke="#111" stroke-width="1.00"/>
<line x1="45.50" y1="390.40" x2="49.70" y2="431.70" stroke="#111" stroke-width="1.00"/>
<line x1="55.60" y1="409.70" x2="53.10" y2="427.40" stroke="#111" stroke-width="1.00"/>
<line x1="85.00" y1="450.50" x2="100.60" y2="442.00" stroke="#111" stroke-width="1.00"/>
<line x1="224.40" y1="395.10" x2="227.70" y2="428.30" stroke="#111" stroke-width="1.00"/>
<line x1="170.70" y1="408.40" x2="152.70" y2="434.00" stroke="#111" stroke-width="1.00"/>
<line x1="179.30" y1="419.20" x2="155.50" y2="437.40" stroke="#111" stroke-width="1.00"/>
<line x1="201.50" y1="427.40" x2="197.70" y2="434.40" stroke="#111" stroke-width="1.00"/>
<rect x="94.00" y="479.90" width="35.00" height="5.80" fill="#188a93"/>
<path d="M82.3,482.8 L94.6,477.6 L94.6,488 Z" fill="#188a93"/>
<rect x="129.00" y="479.90" width="34.50" height="5.80" fill="#5a12a0"/>
<path d="M175,482.8 L163,477.6 L163,488 Z" fill="#5a12a0"/>
<text x="57.00" y="487.50" font-size="13.20" text-anchor="start" fill="#111">mild</text>
<text x="177.20" y="487.50" font-size="13.60" text-anchor="start" fill="#111">severe</text>
<text x="132.20" y="501.50" font-size="13.50" text-anchor="middle" fill="#111">Log2 Fold Difference</text>
<text x="242.30" y="259.60" font-size="23.8" fill="#000" stroke="#000" stroke-width="0.3">D</text>
<text x="481.80" y="259.60" font-size="23.8" fill="#000" stroke="#000" stroke-width="0.3">E</text>
<text x="407.90" y="270.30" font-size="13.80" text-anchor="middle" fill="#111" font-style="italic">Ramac / Homer2</text>
<text x="407.80" y="279.80" font-size="9.45" text-anchor="middle" fill="#111">(chr7:81775773-81779508)</text>
<text x="593.60" y="270.30" font-size="13.80" text-anchor="middle" fill="#111" font-style="italic">Zic1 / Zic4</text>
<text x="593.80" y="279.80" font-size="9.45" text-anchor="middle" fill="#111">(chr9:91355K-91450K)</text>
<text x="243.50" y="302.00" font-size="10.00" text-anchor="start" fill="#111">Ruler</text>
<text x="251.00" y="310.60" font-size="9.00" text-anchor="start" fill="#111">chr7/chr9</text>
<text x="243.50" y="327.70" font-size="10.00" text-anchor="start" fill="#111">Mild</text>
<text x="243.50" y="340.50" font-size="10.00" text-anchor="start" fill="#111">Insertions</text>
<text x="303.80" y="324.60" font-size="9.50" text-anchor="end" fill="#111">500</text>
<text x="303.80" y="341.20" font-size="9.50" text-anchor="end" fill="#111">0</text>
<path d="M306.5,317.8 H310 V341.5 H306.5" fill="none" stroke="#555" stroke-width="0.9"/>
<text x="243.50" y="356.90" font-size="10.00" text-anchor="start" fill="#111">Mild</text>
<text x="243.50" y="369.70" font-size="10.00" text-anchor="start" fill="#111">Density</text>
<text x="303.80" y="353.80" font-size="9.50" text-anchor="end" fill="#111">6.0</text>
<text x="303.80" y="370.40" font-size="9.50" text-anchor="end" fill="#111">0</text>
<path d="M306.5,347.0 H310 V370.7 H306.5" fill="none" stroke="#555" stroke-width="0.9"/>
<text x="243.50" y="386.70" font-size="10.00" text-anchor="start" fill="#111">Severe</text>
<text x="243.50" y="399.50" font-size="10.00" text-anchor="start" fill="#111">Insertions</text>
<text x="303.80" y="382.30" font-size="9.50" text-anchor="end" fill="#111">500</text>
<text x="303.80" y="398.90" font-size="9.50" text-anchor="end" fill="#111">0</text>
<path d="M306.5,375.5 H310 V399.2 H306.5" fill="none" stroke="#555" stroke-width="0.9"/>
<text x="243.50" y="414.20" font-size="10.00" text-anchor="start" fill="#111">Severe</text>
<text x="243.50" y="427.00" font-size="10.00" text-anchor="start" fill="#111">Density</text>
<text x="303.80" y="411.40" font-size="9.50" text-anchor="end" fill="#111">6.0</text>
<text x="303.80" y="428.00" font-size="9.50" text-anchor="end" fill="#111">0</text>
<path d="M306.5,404.6 H310 V428.3 H306.5" fill="none" stroke="#555" stroke-width="0.9"/>
<text x="243.50" y="447.40" font-size="10.00" text-anchor="start" fill="#111">Peaks</text>
<text x="303.80" y="438.10" font-size="9.50" text-anchor="end" fill="#111">1.0</text>
<text x="303.80" y="457.50" font-size="9.50" text-anchor="end" fill="#111">0</text>
<path d="M306.5,433.5 H310 V457.2 H306.5" fill="none" stroke="#555" stroke-width="0.9"/>
<text x="243.50" y="474.30" font-size="10.00" text-anchor="start" fill="#111">refGene</text>
<line x1="243.50" y1="315.20" x2="489.50" y2="315.20" stroke="#9a9a9a" stroke-width="1.20"/>
<line x1="508.80" y1="315.20" x2="679.30" y2="315.20" stroke="#9a9a9a" stroke-width="1.20"/>
<line x1="243.50" y1="344.40" x2="489.50" y2="344.40" stroke="#9a9a9a" stroke-width="1.20"/>
<line x1="508.80" y1="344.40" x2="679.30" y2="344.40" stroke="#9a9a9a" stroke-width="1.20"/>
<line x1="243.50" y1="372.90" x2="489.50" y2="372.90" stroke="#9a9a9a" stroke-width="1.20"/>
<line x1="508.80" y1="372.90" x2="679.30" y2="372.90" stroke="#9a9a9a" stroke-width="1.20"/>
<line x1="243.50" y1="402.00" x2="489.50" y2="402.00" stroke="#9a9a9a" stroke-width="1.20"/>
<line x1="508.80" y1="402.00" x2="679.30" y2="402.00" stroke="#9a9a9a" stroke-width="1.20"/>
<line x1="243.50" y1="430.90" x2="489.50" y2="430.90" stroke="#9a9a9a" stroke-width="1.20"/>
<line x1="508.80" y1="430.90" x2="679.30" y2="430.90" stroke="#9a9a9a" stroke-width="1.20"/>
<line x1="243.50" y1="459.30" x2="489.50" y2="459.30" stroke="#9a9a9a" stroke-width="1.20"/>
<line x1="508.80" y1="459.30" x2="679.30" y2="459.30" stroke="#9a9a9a" stroke-width="1.20"/>
<line x1="313.00" y1="299.70" x2="489.50" y2="299.70" stroke="#bbb" stroke-width="0.90"/>
<line x1="319.86" y1="296.60" x2="319.86" y2="299.70" stroke="#bbb" stroke-width="0.80"/>
<line x1="329.58" y1="296.60" x2="329.58" y2="299.70" stroke="#bbb" stroke-width="0.80"/>
<line x1="339.30" y1="293.50" x2="339.30" y2="299.70" stroke="#999" stroke-width="0.90"/>
<line x1="349.02" y1="296.60" x2="349.02" y2="299.70" stroke="#bbb" stroke-width="0.80"/>
<line x1="358.74" y1="296.60" x2="358.74" y2="299.70" stroke="#bbb" stroke-width="0.80"/>
<line x1="368.46" y1="296.60" x2="368.46" y2="299.70" stroke="#bbb" stroke-width="0.80"/>
<line x1="378.18" y1="296.60" x2="378.18" y2="299.70" stroke="#bbb" stroke-width="0.80"/>
<line x1="387.90" y1="296.60" x2="387.90" y2="299.70" stroke="#bbb" stroke-width="0.80"/>
<line x1="397.62" y1="296.60" x2="397.62" y2="299.70" stroke="#bbb" stroke-width="0.80"/>
<line x1="407.34" y1="296.60" x2="407.34" y2="299.70" stroke="#bbb" stroke-width="0.80"/>
<line x1="417.06" y1="296.60" x2="417.06" y2="299.70" stroke="#bbb" stroke-width="0.80"/>
<line x1="426.78" y1="296.60" x2="426.78" y2="299.70" stroke="#bbb" stroke-width="0.80"/>
<line x1="436.50" y1="293.50" x2="436.50" y2="299.70" stroke="#999" stroke-width="0.90"/>
<line x1="446.22" y1="296.60" x2="446.22" y2="299.70" stroke="#bbb" stroke-width="0.80"/>
<line x1="455.94" y1="296.60" x2="455.94" y2="299.70" stroke="#bbb" stroke-width="0.80"/>
<line x1="465.66" y1="296.60" x2="465.66" y2="299.70" stroke="#bbb" stroke-width="0.80"/>
<line x1="475.38" y1="296.60" x2="475.38" y2="299.70" stroke="#bbb" stroke-width="0.80"/>
<line x1="485.10" y1="296.60" x2="485.10" y2="299.70" stroke="#bbb" stroke-width="0.80"/>
<text x="339.30" y="309.40" font-size="9.00" text-anchor="middle" fill="#222">81770K</text>
<text x="436.50" y="309.40" font-size="9.00" text-anchor="middle" fill="#222">81780K</text>
<line x1="508.80" y1="299.70" x2="679.30" y2="299.70" stroke="#bbb" stroke-width="0.90"/>
<line x1="533.20" y1="296.60" x2="533.20" y2="299.70" stroke="#bbb" stroke-width="0.80"/>
<line x1="557.00" y1="296.60" x2="557.00" y2="299.70" stroke="#bbb" stroke-width="0.80"/>
<line x1="580.80" y1="296.60" x2="580.80" y2="299.70" stroke="#bbb" stroke-width="0.80"/>
<line x1="604.60" y1="296.60" x2="604.60" y2="299.70" stroke="#bbb" stroke-width="0.80"/>
<line x1="628.40" y1="296.60" x2="628.40" y2="299.70" stroke="#bbb" stroke-width="0.80"/>
<line x1="652.20" y1="293.50" x2="652.20" y2="299.70" stroke="#999" stroke-width="0.90"/>
<line x1="676.00" y1="296.60" x2="676.00" y2="299.70" stroke="#bbb" stroke-width="0.80"/>
<text x="652.60" y="309.40" font-size="9.00" text-anchor="middle" fill="#222">91400K</text>
<rect x="314.05" y="341.30" width="1.90" height="1.90" fill="#188a93"/>
<rect x="316.65" y="341.30" width="1.90" height="1.90" fill="#188a93"/>
<rect x="321.05" y="341.30" width="1.90" height="1.90" fill="#188a93"/>
<rect x="335.05" y="341.30" width="1.90" height="1.90" fill="#188a93"/>
<rect x="338.75" y="341.30" width="1.90" height="1.90" fill="#188a93"/>
<rect x="340.55" y="341.30" width="1.90" height="1.90" fill="#188a93"/>
<rect x="338.05" y="316.90" width="1.90" height="1.90" fill="#188a93"/>
<rect x="340.05" y="321.30" width="1.90" height="1.90" fill="#188a93"/>
<rect x="341.05" y="328.80" width="1.90" height="1.90" fill="#188a93"/>
<rect x="344.05" y="339.30" width="1.90" height="1.90" fill="#188a93"/>
<rect x="346.05" y="337.30" width="1.90" height="1.90" fill="#188a93"/>
<rect x="348.05" y="333.30" width="1.90" height="1.90" fill="#188a93"/>
<rect x="348.05" y="340.30" width="1.90" height="1.90" fill="#188a93"/>
<rect x="391.45" y="333.30" width="1.90" height="1.90" fill="#188a93"/>
<rect x="391.45" y="341.30" width="1.90" height="1.90" fill="#188a93"/>
<rect x="396.05" y="327.30" width="1.90" height="1.90" fill="#188a93"/>
<rect x="396.05" y="341.30" width="1.90" height="1.90" fill="#188a93"/>
<rect x="398.05" y="338.30" width="1.90" height="1.90" fill="#188a93"/>
<rect x="401.05" y="332.30" width="1.90" height="1.90" fill="#188a93"/>
<rect x="404.05" y="327.30" width="1.90" height="1.90" fill="#188a93"/>
<rect x="403.05" y="340.30" width="1.90" height="1.90" fill="#188a93"/>
<rect x="407.05" y="337.30" width="1.90" height="1.90" fill="#188a93"/>
<rect x="409.05" y="341.30" width="1.90" height="1.90" fill="#188a93"/>
<rect x="410.05" y="315.70" width="1.90" height="1.90" fill="#188a93"/>
<rect x="412.05" y="315.70" width="1.90" height="1.90" fill="#188a93"/>
<rect x="410.05" y="323.30" width="1.90" height="1.90" fill="#188a93"/>
<rect x="411.05" y="333.30" width="1.90" height="1.90" fill="#188a93"/>
<rect x="413.05" y="340.30" width="1.90" height="1.90" fill="#188a93"/>
<rect x="406.05" y="339.30" width="1.90" height="1.90" fill="#188a93"/>
<rect x="418.05" y="324.30" width="1.90" height="1.90" fill="#188a93"/>
<rect x="418.05" y="332.30" width="1.90" height="1.90" fill="#188a93"/>
<rect x="420.05" y="337.30" width="1.90" height="1.90" fill="#188a93"/>
<rect x="422.05" y="330.30" width="1.90" height="1.90" fill="#188a93"/>
<rect x="421.05" y="341.30" width="1.90" height="1.90" fill="#188a93"/>
<rect x="419.05" y="341.30" width="1.90" height="1.90" fill="#188a93"/>
<rect x="428.55" y="339.30" width="1.90" height="1.90" fill="#188a93"/>
<rect x="428.55" y="335.30" width="1.90" height="1.90" fill="#188a93"/>
<rect x="428.55" y="332.30" width="1.90" height="1.90" fill="#188a93"/>
<rect x="428.55" y="341.30" width="1.90" height="1.90" fill="#188a93"/>
<rect x="458.05" y="317.30" width="1.90" height="1.90" fill="#188a93"/>
<rect x="458.05" y="324.30" width="1.90" height="1.90" fill="#188a93"/>
<rect x="458.05" y="334.30" width="1.90" height="1.90" fill="#188a93"/>
<rect x="458.05" y="337.30" width="1.90" height="1.90" fill="#188a93"/>
<rect x="458.05" y="341.30" width="1.90" height="1.90" fill="#188a93"/>
<rect x="463.05" y="317.30" width="1.90" height="1.90" fill="#188a93"/>
<rect x="473.05" y="335.30" width="1.90" height="1.90" fill="#188a93"/>
<rect x="475.05" y="340.30" width="1.90" height="1.90" fill="#188a93"/>
<rect x="480.05" y="340.30" width="1.90" height="1.90" fill="#188a93"/>
<rect x="414.05" y="341.30" width="1.90" height="1.90" fill="#188a93"/>
<rect x="399.05" y="341.30" width="1.90" height="1.90" fill="#188a93"/>
<rect x="416.05" y="341.30" width="1.90" height="1.90" fill="#188a93"/>
<path d="M314.0,371.7 L315.0,364.7 L316.0,364.7 L317.0,371.7 L314.0,371.7 Z" fill="#188a93"/>
<path d="M316.5,371.7 L317.2,367.7 L318.2,367.7 L319.0,371.7 L316.5,371.7 Z" fill="#188a93"/>
<path d="M319.0,371.7 L321.0,363.0 L322.0,363.0 L324.0,371.7 L319.0,371.7 Z" fill="#188a93"/>
<path d="M334.0,371.7 L335.0,368.7 L336.0,368.7 L337.0,371.7 L334.0,371.7 Z" fill="#188a93"/>
<path d="M337.0,371.7 L338.0,365.7 L339.0,365.7 L340.0,371.7 L337.0,371.7 Z" fill="#188a93"/>
<path d="M340.0,371.7 L341.0,364.7 L342.0,364.7 L343.0,371.7 L340.0,371.7 Z" fill="#188a93"/>
<path d="M343.0,371.7 L344.0,366.7 L345.0,366.7 L346.0,371.7 L343.0,371.7 Z" fill="#188a93"/>
<path d="M346.0,371.7 L348.0,357.0 L349.0,357.0 L351.0,371.7 L346.0,371.7 Z" fill="#188a93"/>
<path d="M348.0,371.7 L348.5,356.7 L349.5,356.7 L350.0,371.7 L348.0,371.7 Z" fill="#188a93"/>
<path d="M391.0,371.7 L392.5,363.0 L393.5,363.0 L395.0,371.7 L391.0,371.7 Z" fill="#188a93"/>
<path d="M395.0,371.7 L396.5,362.7 L397.5,362.7 L399.0,371.7 L395.0,371.7 Z" fill="#188a93"/>
<path d="M401.0,371.7 L402.0,357.7 L403.0,357.7 L404.0,371.7 L401.0,371.7 Z" fill="#188a93"/>
<path d="M404.0,371.7 L405.0,360.7 L406.0,360.7 L407.0,371.7 L404.0,371.7 Z" fill="#188a93"/>
<path d="M407.0,371.7 L408.5,355.7 L409.5,355.7 L411.0,371.7 L407.0,371.7 Z" fill="#188a93"/>
<path d="M410.0,371.7 L411.5,354.0 L412.5,354.0 L414.0,371.7 L410.0,371.7 Z" fill="#188a93"/>
<path d="M412.0,371.7 L413.0,362.7 L414.0,362.7 L415.0,371.7 L412.0,371.7 Z" fill="#188a93"/>
<path d="M417.0,371.7 L418.0,351.7 L419.0,351.7 L420.0,371.7 L417.0,371.7 Z" fill="#188a93"/>
<path d="M420.0,371.7 L421.0,346.2 L422.0,346.2 L423.0,371.7 L420.0,371.7 Z" fill="#188a93"/>
<path d="M422.0,371.7 L423.0,349.7 L424.0,349.7 L425.0,371.7 L422.0,371.7 Z" fill="#188a93"/>
<path d="M428.5,371.7 L429.8,366.7 L430.8,366.7 L432.0,371.7 L428.5,371.7 Z" fill="#188a93"/>
<path d="M457.0,371.7 L459.0,355.0 L460.0,355.0 L462.0,371.7 L457.0,371.7 Z" fill="#188a93"/>
<path d="M464.0,371.7 L465.0,368.7 L466.0,368.7 L467.0,371.7 L464.0,371.7 Z" fill="#188a93"/>
<path d="M474.0,371.7 L475.0,366.2 L476.0,366.2 L477.0,371.7 L474.0,371.7 Z" fill="#188a93"/>
<path d="M478.0,371.7 L479.0,368.7 L480.0,368.7 L481.0,371.7 L478.0,371.7 Z" fill="#188a93"/>
<rect x="315.05" y="398.90" width="1.90" height="1.90" fill="#5a12a0"/>
<rect x="318.05" y="398.90" width="1.90" height="1.90" fill="#5a12a0"/>
<rect x="322.05" y="397.90" width="1.90" height="1.90" fill="#5a12a0"/>
<rect x="321.05" y="376.10" width="1.90" height="1.90" fill="#5a12a0"/>
<rect x="333.05" y="377.40" width="1.90" height="1.90" fill="#5a12a0"/>
<rect x="340.05" y="381.90" width="1.90" height="1.90" fill="#5a12a0"/>
<rect x="346.65" y="374.90" width="1.90" height="1.90" fill="#5a12a0"/>
<rect x="364.55" y="381.10" width="1.90" height="1.90" fill="#5a12a0"/>
<rect x="384.65" y="395.90" width="1.90" height="1.90" fill="#5a12a0"/>
<rect x="391.45" y="388.90" width="1.90" height="1.90" fill="#5a12a0"/>
<rect x="391.45" y="392.40" width="1.90" height="1.90" fill="#5a12a0"/>
<rect x="391.45" y="396.40" width="1.90" height="1.90" fill="#5a12a0"/>
<rect x="335.05" y="398.90" width="1.90" height="1.90" fill="#5a12a0"/>
<rect x="338.05" y="397.90" width="1.90" height="1.90" fill="#5a12a0"/>
<rect x="341.05" y="398.90" width="1.90" height="1.90" fill="#5a12a0"/>
<rect x="344.05" y="392.90" width="1.90" height="1.90" fill="#5a12a0"/>
<rect x="346.05" y="394.90" width="1.90" height="1.90" fill="#5a12a0"/>
<rect x="348.05" y="398.90" width="1.90" height="1.90" fill="#5a12a0"/>
<rect x="360.05" y="398.90" width="1.90" height="1.90" fill="#5a12a0"/>
<rect x="363.05" y="395.90" width="1.90" height="1.90" fill="#5a12a0"/>
<rect x="366.05" y="398.90" width="1.90" height="1.90" fill="#5a12a0"/>
<rect x="404.05" y="390.00" width="1.90" height="1.90" fill="#5a12a0"/>
<rect x="407.05" y="391.10" width="1.90" height="1.90" fill="#5a12a0"/>
<rect x="410.45" y="393.70" width="1.90" height="1.90" fill="#5a12a0"/>
<rect x="410.45" y="397.90" width="1.90" height="1.90" fill="#5a12a0"/>
<rect x="404.05" y="397.90" width="1.90" height="1.90" fill="#5a12a0"/>
<rect x="418.45" y="382.40" width="1.90" height="1.90" fill="#5a12a0"/>
<rect x="418.45" y="386.70" width="1.90" height="1.90" fill="#5a12a0"/>
<rect x="418.45" y="395.90" width="1.90" height="1.90" fill="#5a12a0"/>
<rect x="428.55" y="396.90" width="1.90" height="1.90" fill="#5a12a0"/>
<rect x="457.75" y="374.10" width="1.90" height="1.90" fill="#5a12a0"/>
<rect x="463.85" y="374.10" width="1.90" height="1.90" fill="#5a12a0"/>
<rect x="463.85" y="379.90" width="1.90" height="1.90" fill="#5a12a0"/>
<rect x="458.25" y="386.10" width="1.90" height="1.90" fill="#5a12a0"/>
<rect x="458.25" y="396.90" width="1.90" height="1.90" fill="#5a12a0"/>
<rect x="477.15" y="396.90" width="1.90" height="1.90" fill="#5a12a0"/>
<path d="M314.0,429.7 L315.5,422.7 L316.5,422.7 L318.0,429.7 L314.0,429.7 Z" fill="#5a12a0"/>
<path d="M317.0,429.7 L318.0,420.2 L319.0,420.2 L320.0,429.7 L317.0,429.7 Z" fill="#5a12a0"/>
<path d="M320.0,429.7 L321.5,422.7 L322.5,422.7 L324.0,429.7 L320.0,429.7 Z" fill="#5a12a0"/>
<path d="M332.0,429.7 L333.0,424.7 L334.0,424.7 L335.0,429.7 L332.0,429.7 Z" fill="#5a12a0"/>
<path d="M338.0,429.7 L339.0,421.7 L340.0,421.7 L341.0,429.7 L338.0,429.7 Z" fill="#5a12a0"/>
<path d="M340.0,429.7 L341.5,419.1 L342.5,419.1 L344.0,429.7 L340.0,429.7 Z" fill="#5a12a0"/>
<path d="M346.0,429.7 L347.5,421.7 L348.5,421.7 L350.0,429.7 L346.0,429.7 Z" fill="#5a12a0"/>
<path d="M362.0,429.7 L363.0,423.7 L364.0,423.7 L365.0,429.7 L362.0,429.7 Z" fill="#5a12a0"/>
<path d="M364.0,429.7 L365.5,420.2 L366.5,420.2 L368.0,429.7 L364.0,429.7 Z" fill="#5a12a0"/>
<path d="M385.0,429.7 L386.0,425.7 L387.0,425.7 L388.0,429.7 L385.0,429.7 Z" fill="#5a12a0"/>
<path d="M390.5,429.7 L391.8,420.2 L392.8,420.2 L394.0,429.7 L390.5,429.7 Z" fill="#5a12a0"/>
<path d="M404.0,429.7 L405.0,423.4 L406.0,423.4 L407.0,429.7 L404.0,429.7 Z" fill="#5a12a0"/>
<path d="M407.0,429.7 L407.5,425.7 L408.5,425.7 L409.0,429.7 L407.0,429.7 Z" fill="#5a12a0"/>
<path d="M410.0,429.7 L411.0,424.2 L412.0,424.2 L413.0,429.7 L410.0,429.7 Z" fill="#5a12a0"/>
<path d="M418.0,429.7 L419.0,420.7 L420.0,420.7 L421.0,429.7 L418.0,429.7 Z" fill="#5a12a0"/>
<path d="M420.0,429.7 L420.5,423.7 L421.5,423.7 L422.0,429.7 L420.0,429.7 Z" fill="#5a12a0"/>
<path d="M428.5,429.7 L429.5,425.7 L430.5,425.7 L431.5,429.7 L428.5,429.7 Z" fill="#5a12a0"/>
<path d="M457.0,429.7 L458.5,407.0 L459.5,407.0 L461.0,429.7 L457.0,429.7 Z" fill="#5a12a0"/>
<path d="M459.0,429.7 L460.0,421.7 L461.0,421.7 L462.0,429.7 L459.0,429.7 Z" fill="#5a12a0"/>
<path d="M464.0,429.7 L465.0,423.4 L466.0,423.4 L467.0,429.7 L464.0,429.7 Z" fill="#5a12a0"/>
<path d="M476.5,429.7 L477.5,425.7 L478.5,425.7 L479.5,429.7 L476.5,429.7 Z" fill="#5a12a0"/>
<rect x="395.60" y="431.60" width="37.20" height="25.90" fill="#0e0e0e"/>
<rect x="402.50" y="431.60" width="8.20" height="25.90" fill="#1d1d1d"/>
<rect x="417.80" y="431.60" width="8.20" height="25.90" fill="#1d1d1d"/>
<line x1="314.00" y1="463.80" x2="334.00" y2="463.80" stroke="#111" stroke-width="1.20"/>
<rect x="318.00" y="461.60" width="3.00" height="4.40" fill="#111"/>
<rect x="323.00" y="461.40" width="6.00" height="4.80" fill="#111"/>
<rect x="330.00" y="461.60" width="3.00" height="4.40" fill="#111"/>
<path d="M316,463.8 l2,-2 M316,463.8 l2,2" stroke="#111" stroke-width="0.9"/>
<text x="337.20" y="467.20" font-size="9.00" text-anchor="start" fill="#111">Ramac</text>
<text x="390.00" y="467.20" font-size="9.20" text-anchor="start" fill="#111">3110040N11Rik</text>
<line x1="457.00" y1="463.80" x2="489.50" y2="463.80" stroke="#111" stroke-width="1.10"/>
<circle cx="459.5" cy="463.8" r="2" fill="#111"/>
<rect x="465.60" y="461.20" width="2.20" height="5.20" fill="#111"/>
<path d="M472.0,463.8 l2.4,-2.2 M472.0,463.8 l2.4,2.2" stroke="#111" stroke-width="0.9" fill="none"/>
<path d="M479.0,463.8 l2.4,-2.2 M479.0,463.8 l2.4,2.2" stroke="#111" stroke-width="0.9" fill="none"/>
<path d="M485.0,463.8 l2.4,-2.2 M485.0,463.8 l2.4,2.2" stroke="#111" stroke-width="0.9" fill="none"/>
<rect x="532.50" y="336.00" width="1.80" height="1.80" fill="#188a93"/>
<rect x="528.50" y="341.00" width="1.80" height="1.80" fill="#188a93"/>
<rect x="530.50" y="329.00" width="1.80" height="1.80" fill="#188a93"/>
<rect x="530.50" y="337.00" width="1.80" height="1.80" fill="#188a93"/>
<rect x="531.00" y="333.00" width="1.80" height="1.80" fill="#188a93"/>
<rect x="529.50" y="331.00" width="1.80" height="1.80" fill="#188a93"/>
<rect x="534.00" y="323.00" width="1.80" height="1.80" fill="#188a93"/>
<rect x="530.00" y="340.00" width="1.80" height="1.80" fill="#188a93"/>
<rect x="530.50" y="329.00" width="1.80" height="1.80" fill="#188a93"/>
<rect x="534.00" y="328.00" width="1.80" height="1.80" fill="#188a93"/>
<rect x="530.50" y="330.00" width="1.80" height="1.80" fill="#188a93"/>
<rect x="529.50" y="335.00" width="1.80" height="1.80" fill="#188a93"/>
<rect x="532.00" y="340.00" width="1.80" height="1.80" fill="#188a93"/>
<rect x="529.50" y="341.00" width="1.80" height="1.80" fill="#188a93"/>
<rect x="531.00" y="330.00" width="1.80" height="1.80" fill="#188a93"/>
<rect x="530.00" y="324.00" width="1.80" height="1.80" fill="#188a93"/>
<rect x="531.50" y="317.90" width="1.80" height="1.80" fill="#188a93"/>
<rect x="538.50" y="340.00" width="1.80" height="1.80" fill="#188a93"/>
<rect x="538.00" y="326.00" width="1.80" height="1.80" fill="#188a93"/>
<rect x="538.50" y="331.00" width="1.80" height="1.80" fill="#188a93"/>
<rect x="537.50" y="341.00" width="1.80" height="1.80" fill="#188a93"/>
<rect x="538.50" y="334.00" width="1.80" height="1.80" fill="#188a93"/>
<rect x="537.50" y="339.00" width="1.80" height="1.80" fill="#188a93"/>
<rect x="543.00" y="339.00" width="1.80" height="1.80" fill="#188a93"/>
<rect x="537.00" y="328.00" width="1.80" height="1.80" fill="#188a93"/>
<rect x="536.00" y="339.00" width="1.80" height="1.80" fill="#188a93"/>
<rect x="539.50" y="338.00" width="1.80" height="1.80" fill="#188a93"/>
<rect x="538.50" y="333.00" width="1.80" height="1.80" fill="#188a93"/>
<rect x="537.50" y="320.00" width="1.80" height="1.80" fill="#188a93"/>
<rect x="538.50" y="334.00" width="1.80" height="1.80" fill="#188a93"/>
<rect x="538.00" y="341.00" width="1.80" height="1.80" fill="#188a93"/>
<rect x="540.00" y="341.00" width="1.80" height="1.80" fill="#188a93"/>
<rect x="539.00" y="325.00" width="1.80" height="1.80" fill="#188a93"/>
<rect x="537.00" y="332.00" width="1.80" height="1.80" fill="#188a93"/>
<rect x="539.00" y="340.00" width="1.80" height="1.80" fill="#188a93"/>
<rect x="539.00" y="328.00" width="1.80" height="1.80" fill="#188a93"/>
<rect x="539.00" y="341.00" width="1.80" height="1.80" fill="#188a93"/>
<rect x="538.00" y="323.00" width="1.80" height="1.80" fill="#188a93"/>
<rect x="539.00" y="329.00" width="1.80" height="1.80" fill="#188a93"/>
<rect x="539.50" y="324.00" width="1.80" height="1.80" fill="#188a93"/>
<rect x="538.00" y="321.00" width="1.80" height="1.80" fill="#188a93"/>
<rect x="537.50" y="327.00" width="1.80" height="1.80" fill="#188a93"/>
<rect x="537.50" y="341.00" width="1.80" height="1.80" fill="#188a93"/>
<rect x="539.00" y="331.00" width="1.80" height="1.80" fill="#188a93"/>
<rect x="536.50" y="338.00" width="1.80" height="1.80" fill="#188a93"/>
<rect x="541.50" y="341.00" width="1.80" height="1.80" fill="#188a93"/>
<rect x="538.00" y="336.00" width="1.80" height="1.80" fill="#188a93"/>
<rect x="538.50" y="317.90" width="1.80" height="1.80" fill="#188a93"/>
<rect x="537.00" y="317.90" width="1.80" height="1.80" fill="#188a93"/>
<rect x="558.50" y="341.00" width="1.80" height="1.80" fill="#188a93"/>
<rect x="554.00" y="322.00" width="1.80" height="1.80" fill="#188a93"/>
<rect x="553.50" y="341.00" width="1.80" height="1.80" fill="#188a93"/>
<rect x="554.50" y="341.00" width="1.80" height="1.80" fill="#188a93"/>
<rect x="553.50" y="322.00" width="1.80" height="1.80" fill="#188a93"/>
<rect x="551.50" y="340.00" width="1.80" height="1.80" fill="#188a93"/>
<rect x="551.50" y="326.00" width="1.80" height="1.80" fill="#188a93"/>
<rect x="551.50" y="340.00" width="1.80" height="1.80" fill="#188a93"/>
<rect x="550.00" y="341.00" width="1.80" height="1.80" fill="#188a93"/>
<rect x="556.50" y="341.00" width="1.80" height="1.80" fill="#188a93"/>
<rect x="547.50" y="337.00" width="1.80" height="1.80" fill="#188a93"/>
<rect x="548.00" y="327.00" width="1.80" height="1.80" fill="#188a93"/>
<rect x="551.50" y="320.00" width="1.80" height="1.80" fill="#188a93"/>
<rect x="550.00" y="332.00" width="1.80" height="1.80" fill="#188a93"/>
<rect x="550.00" y="321.00" width="1.80" height="1.80" fill="#188a93"/>
<rect x="555.00" y="336.00" width="1.80" height="1.80" fill="#188a93"/>
<rect x="546.00" y="335.00" width="1.80" height="1.80" fill="#188a93"/>
<rect x="554.50" y="341.00" width="1.80" height="1.80" fill="#188a93"/>
<rect x="556.00" y="341.00" width="1.80" height="1.80" fill="#188a93"/>
<rect x="555.00" y="340.00" width="1.80" height="1.80" fill="#188a93"/>
<rect x="551.50" y="322.00" width="1.80" height="1.80" fill="#188a93"/>
<rect x="554.50" y="332.00" width="1.80" height="1.80" fill="#188a93"/>
<rect x="550.50" y="341.00" width="1.80" height="1.80" fill="#188a93"/>
<rect x="549.50" y="340.00" width="1.80" height="1.80" fill="#188a93"/>
<rect x="547.00" y="322.00" width="1.80" height="1.80" fill="#188a93"/>
<rect x="554.50" y="320.00" width="1.80" height="1.80" fill="#188a93"/>
<rect x="550.50" y="331.00" width="1.80" height="1.80" fill="#188a93"/>
<rect x="554.50" y="340.00" width="1.80" height="1.80" fill="#188a93"/>
<rect x="553.00" y="341.00" width="1.80" height="1.80" fill="#188a93"/>
<rect x="549.50" y="335.00" width="1.80" height="1.80" fill="#188a93"/>
<rect x="553.50" y="336.00" width="1.80" height="1.80" fill="#188a93"/>
<rect x="556.50" y="339.00" width="1.80" height="1.80" fill="#188a93"/>
<rect x="555.50" y="339.00" width="1.80" height="1.80" fill="#188a93"/>
<rect x="554.50" y="330.00" width="1.80" height="1.80" fill="#188a93"/>
<rect x="555.00" y="341.00" width="1.80" height="1.80" fill="#188a93"/>
<rect x="554.00" y="339.00" width="1.80" height="1.80" fill="#188a93"/>
<rect x="555.00" y="333.00" width="1.80" height="1.80" fill="#188a93"/>
<rect x="552.00" y="338.00" width="1.80" height="1.80" fill="#188a93"/>
<rect x="557.00" y="341.00" width="1.80" height="1.80" fill="#188a93"/>
<rect x="547.50" y="341.00" width="1.80" height="1.80" fill="#188a93"/>
<rect x="556.50" y="339.00" width="1.80" height="1.80" fill="#188a93"/>
<rect x="556.00" y="337.00" width="1.80" height="1.80" fill="#188a93"/>
<rect x="553.00" y="340.00" width="1.80" height="1.80" fill="#188a93"/>
<rect x="555.50" y="324.00" width="1.80" height="1.80" fill="#188a93"/>
<rect x="552.00" y="341.00" width="1.80" height="1.80" fill="#188a93"/>
<rect x="549.00" y="327.00" width="1.80" height="1.80" fill="#188a93"/>
<rect x="554.00" y="341.00" width="1.80" height="1.80" fill="#188a93"/>
<rect x="557.00" y="340.00" width="1.80" height="1.80" fill="#188a93"/>
<rect x="548.00" y="317.90" width="1.80" height="1.80" fill="#188a93"/>
<rect x="559.50" y="317.90" width="1.80" height="1.80" fill="#188a93"/>
<rect x="559.50" y="317.90" width="1.80" height="1.80" fill="#188a93"/>
<rect x="555.50" y="317.90" width="1.80" height="1.80" fill="#188a93"/>
<rect x="574.00" y="325.00" width="1.80" height="1.80" fill="#188a93"/>
<rect x="573.50" y="341.00" width="1.80" height="1.80" fill="#188a93"/>
<rect x="574.50" y="333.00" width="1.80" height="1.80" fill="#188a93"/>
<rect x="576.50" y="317.90" width="1.80" height="1.80" fill="#188a93"/>
<rect x="579.50" y="341.00" width="1.80" height="1.80" fill="#188a93"/>
<rect x="578.50" y="341.00" width="1.80" height="1.80" fill="#188a93"/>
<rect x="577.50" y="336.00" width="1.80" height="1.80" fill="#188a93"/>
<rect x="585.00" y="341.00" width="1.80" height="1.80" fill="#188a93"/>
<rect x="586.00" y="317.90" width="1.80" height="1.80" fill="#188a93"/>
<rect x="589.00" y="323.00" width="1.80" height="1.80" fill="#188a93"/>
<rect x="588.50" y="338.00" width="1.80" height="1.80" fill="#188a93"/>
<rect x="589.00" y="333.00" width="1.80" height="1.80" fill="#188a93"/>
<rect x="599.00" y="329.00" width="1.80" height="1.80" fill="#188a93"/>
<rect x="597.50" y="340.00" width="1.80" height="1.80" fill="#188a93"/>
<rect x="594.50" y="340.00" width="1.80" height="1.80" fill="#188a93"/>
<rect x="595.50" y="339.00" width="1.80" height="1.80" fill="#188a93"/>
<rect x="596.00" y="338.00" width="1.80" height="1.80" fill="#188a93"/>
<rect x="600.50" y="341.00" width="1.80" height="1.80" fill="#188a93"/>
<rect x="597.00" y="317.90" width="1.80" height="1.80" fill="#188a93"/>
<rect x="601.00" y="341.00" width="1.80" height="1.80" fill="#188a93"/>
<rect x="598.00" y="333.00" width="1.80" height="1.80" fill="#188a93"/>
<rect x="601.00" y="326.00" width="1.80" height="1.80" fill="#188a93"/>
<rect x="600.00" y="340.00" width="1.80" height="1.80" fill="#188a93"/>
<rect x="600.00" y="335.00" width="1.80" height="1.80" fill="#188a93"/>
<rect x="597.00" y="334.00" width="1.80" height="1.80" fill="#188a93"/>
<rect x="598.50" y="337.00" width="1.80" height="1.80" fill="#188a93"/>
<rect x="599.00" y="340.00" width="1.80" height="1.80" fill="#188a93"/>
<rect x="597.50" y="341.00" width="1.80" height="1.80" fill="#188a93"/>
<rect x="606.00" y="340.00" width="1.80" height="1.80" fill="#188a93"/>
<rect x="605.50" y="337.00" width="1.80" height="1.80" fill="#188a93"/>
<rect x="601.00" y="324.00" width="1.80" height="1.80" fill="#188a93"/>
<rect x="605.50" y="339.00" width="1.80" height="1.80" fill="#188a93"/>
<rect x="607.00" y="328.00" width="1.80" height="1.80" fill="#188a93"/>
<rect x="606.00" y="338.00" width="1.80" height="1.80" fill="#188a93"/>
<rect x="605.00" y="340.00" width="1.80" height="1.80" fill="#188a93"/>
<rect x="606.50" y="341.00" width="1.80" height="1.80" fill="#188a93"/>
<rect x="601.50" y="329.00" width="1.80" height="1.80" fill="#188a93"/>
<rect x="605.50" y="332.00" width="1.80" height="1.80" fill="#188a93"/>
<rect x="602.00" y="341.00" width="1.80" height="1.80" fill="#188a93"/>
<rect x="609.50" y="337.00" width="1.80" height="1.80" fill="#188a93"/>
<rect x="607.00" y="322.00" width="1.80" height="1.80" fill="#188a93"/>
<rect x="606.50" y="341.00" width="1.80" height="1.80" fill="#188a93"/>
<rect x="607.50" y="331.00" width="1.80" height="1.80" fill="#188a93"/>
<rect x="605.50" y="338.00" width="1.80" height="1.80" fill="#188a93"/>
<rect x="607.00" y="325.00" width="1.80" height="1.80" fill="#188a93"/>
<rect x="607.00" y="339.00" width="1.80" height="1.80" fill="#188a93"/>
<rect x="605.00" y="321.00" width="1.80" height="1.80" fill="#188a93"/>
<rect x="604.00" y="324.00" width="1.80" height="1.80" fill="#188a93"/>
<rect x="607.00" y="340.00" width="1.80" height="1.80" fill="#188a93"/>
<rect x="607.50" y="341.00" width="1.80" height="1.80" fill="#188a93"/>
<rect x="605.00" y="339.00" width="1.80" height="1.80" fill="#188a93"/>
<rect x="605.00" y="339.00" width="1.80" height="1.80" fill="#188a93"/>
<rect x="605.50" y="341.00" width="1.80" height="1.80" fill="#188a93"/>
<rect x="602.50" y="341.00" width="1.80" height="1.80" fill="#188a93"/>
<rect x="607.00" y="330.00" width="1.80" height="1.80" fill="#188a93"/>
<rect x="605.50" y="341.00" width="1.80" height="1.80" fill="#188a93"/>
<rect x="602.00" y="333.00" width="1.80" height="1.80" fill="#188a93"/>
<rect x="606.00" y="327.00" width="1.80" height="1.80" fill="#188a93"/>
<rect x="607.00" y="341.00" width="1.80" height="1.80" fill="#188a93"/>
<rect x="605.00" y="341.00" width="1.80" height="1.80" fill="#188a93"/>
<rect x="605.50" y="334.00" width="1.80" height="1.80" fill="#188a93"/>
<rect x="605.50" y="341.00" width="1.80" height="1.80" fill="#188a93"/>
<rect x="606.00" y="339.00" width="1.80" height="1.80" fill="#188a93"/>
<rect x="607.00" y="321.00" width="1.80" height="1.80" fill="#188a93"/>
<rect x="603.00" y="317.90" width="1.80" height="1.80" fill="#188a93"/>
<rect x="610.50" y="317.90" width="1.80" height="1.80" fill="#188a93"/>
<rect x="603.00" y="317.90" width="1.80" height="1.80" fill="#188a93"/>
<rect x="620.00" y="340.00" width="1.80" height="1.80" fill="#188a93"/>
<rect x="616.00" y="341.00" width="1.80" height="1.80" fill="#188a93"/>
<rect x="620.50" y="341.00" width="1.80" height="1.80" fill="#188a93"/>
<rect x="620.50" y="336.00" width="1.80" height="1.80" fill="#188a93"/>
<rect x="617.50" y="329.00" width="1.80" height="1.80" fill="#188a93"/>
<rect x="620.00" y="338.00" width="1.80" height="1.80" fill="#188a93"/>
<rect x="622.50" y="341.00" width="1.80" height="1.80" fill="#188a93"/>
<rect x="620.00" y="341.00" width="1.80" height="1.80" fill="#188a93"/>
<rect x="620.50" y="339.00" width="1.80" height="1.80" fill="#188a93"/>
<rect x="619.00" y="332.00" width="1.80" height="1.80" fill="#188a93"/>
<rect x="620.00" y="321.00" width="1.80" height="1.80" fill="#188a93"/>
<rect x="618.50" y="339.00" width="1.80" height="1.80" fill="#188a93"/>
<rect x="620.00" y="341.00" width="1.80" height="1.80" fill="#188a93"/>
<rect x="619.50" y="335.00" width="1.80" height="1.80" fill="#188a93"/>
<rect x="621.00" y="340.00" width="1.80" height="1.80" fill="#188a93"/>
<rect x="621.50" y="341.00" width="1.80" height="1.80" fill="#188a93"/>
<rect x="620.00" y="337.00" width="1.80" height="1.80" fill="#188a93"/>
<rect x="619.00" y="340.00" width="1.80" height="1.80" fill="#188a93"/>
<rect x="622.50" y="322.00" width="1.80" height="1.80" fill="#188a93"/>
<rect x="619.50" y="333.00" width="1.80" height="1.80" fill="#188a93"/>
<rect x="620.50" y="338.00" width="1.80" height="1.80" fill="#188a93"/>
<rect x="620.50" y="338.00" width="1.80" height="1.80" fill="#188a93"/>
<rect x="622.50" y="339.00" width="1.80" height="1.80" fill="#188a93"/>
<rect x="621.00" y="322.00" width="1.80" height="1.80" fill="#188a93"/>
<rect x="620.50" y="333.00" width="1.80" height="1.80" fill="#188a93"/>
<rect x="619.50" y="341.00" width="1.80" height="1.80" fill="#188a93"/>
<rect x="620.50" y="332.00" width="1.80" height="1.80" fill="#188a93"/>
<rect x="619.50" y="335.00" width="1.80" height="1.80" fill="#188a93"/>
<rect x="619.50" y="337.00" width="1.80" height="1.80" fill="#188a93"/>
<rect x="619.50" y="338.00" width="1.80" height="1.80" fill="#188a93"/>
<rect x="622.50" y="317.90" width="1.80" height="1.80" fill="#188a93"/>
<rect x="618.00" y="317.90" width="1.80" height="1.80" fill="#188a93"/>
<rect x="647.50" y="339.00" width="1.80" height="1.80" fill="#188a93"/>
<rect x="650.00" y="334.00" width="1.80" height="1.80" fill="#188a93"/>
<rect x="641.00" y="335.00" width="1.80" height="1.80" fill="#188a93"/>
<rect x="644.50" y="331.00" width="1.80" height="1.80" fill="#188a93"/>
<rect x="644.50" y="327.00" width="1.80" height="1.80" fill="#188a93"/>
<rect x="642.00" y="341.00" width="1.80" height="1.80" fill="#188a93"/>
<rect x="649.50" y="338.00" width="1.80" height="1.80" fill="#188a93"/>
<rect x="650.50" y="326.00" width="1.80" height="1.80" fill="#188a93"/>
<rect x="639.50" y="325.00" width="1.80" height="1.80" fill="#188a93"/>
<rect x="647.50" y="341.00" width="1.80" height="1.80" fill="#188a93"/>
<rect x="641.50" y="334.00" width="1.80" height="1.80" fill="#188a93"/>
<rect x="642.00" y="340.00" width="1.80" height="1.80" fill="#188a93"/>
<rect x="652.00" y="324.00" width="1.80" height="1.80" fill="#188a93"/>
<rect x="652.50" y="329.00" width="1.80" height="1.80" fill="#188a93"/>
<rect x="646.00" y="323.00" width="1.80" height="1.80" fill="#188a93"/>
<rect x="651.00" y="341.00" width="1.80" height="1.80" fill="#188a93"/>
<rect x="650.00" y="336.00" width="1.80" height="1.80" fill="#188a93"/>
<rect x="648.00" y="332.00" width="1.80" height="1.80" fill="#188a93"/>
<rect x="647.00" y="329.00" width="1.80" height="1.80" fill="#188a93"/>
<rect x="648.50" y="340.00" width="1.80" height="1.80" fill="#188a93"/>
<rect x="651.00" y="328.00" width="1.80" height="1.80" fill="#188a93"/>
<rect x="640.00" y="317.90" width="1.80" height="1.80" fill="#188a93"/>
<rect x="649.00" y="317.90" width="1.80" height="1.80" fill="#188a93"/>
<rect x="643.00" y="317.90" width="1.80" height="1.80" fill="#188a93"/>
<rect x="667.50" y="341.00" width="1.80" height="1.80" fill="#188a93"/>
<rect x="663.00" y="331.00" width="1.80" height="1.80" fill="#188a93"/>
<rect x="665.00" y="341.00" width="1.80" height="1.80" fill="#188a93"/>
<rect x="667.50" y="338.00" width="1.80" height="1.80" fill="#188a93"/>
<rect x="676.00" y="332.00" width="1.80" height="1.80" fill="#188a93"/>
<rect x="663.00" y="328.00" width="1.80" height="1.80" fill="#188a93"/>
<rect x="664.00" y="338.00" width="1.80" height="1.80" fill="#188a93"/>
<rect x="666.00" y="336.00" width="1.80" height="1.80" fill="#188a93"/>
<rect x="664.00" y="329.00" width="1.80" height="1.80" fill="#188a93"/>
<rect x="664.00" y="328.00" width="1.80" height="1.80" fill="#188a93"/>
<rect x="665.00" y="341.00" width="1.80" height="1.80" fill="#188a93"/>
<rect x="665.50" y="340.00" width="1.80" height="1.80" fill="#188a93"/>
<rect x="667.00" y="328.00" width="1.80" height="1.80" fill="#188a93"/>
<rect x="662.00" y="333.00" width="1.80" height="1.80" fill="#188a93"/>
<rect x="667.00" y="339.00" width="1.80" height="1.80" fill="#188a93"/>
<rect x="676.50" y="341.00" width="1.80" height="1.80" fill="#188a93"/>
<rect x="665.00" y="341.00" width="1.80" height="1.80" fill="#188a93"/>
<rect x="663.00" y="336.00" width="1.80" height="1.80" fill="#188a93"/>
<rect x="662.50" y="338.00" width="1.80" height="1.80" fill="#188a93"/>
<rect x="676.00" y="327.00" width="1.80" height="1.80" fill="#188a93"/>
<rect x="665.00" y="341.00" width="1.80" height="1.80" fill="#188a93"/>
<rect x="673.00" y="317.90" width="1.80" height="1.80" fill="#188a93"/>
<rect x="669.50" y="317.90" width="1.80" height="1.80" fill="#188a93"/>
<rect x="669.00" y="317.90" width="1.80" height="1.80" fill="#188a93"/>
<rect x="664.00" y="317.90" width="1.80" height="1.80" fill="#188a93"/>
<rect x="664.50" y="341.00" width="1.80" height="1.80" fill="#188a93"/>
<rect x="664.50" y="338.00" width="1.80" height="1.80" fill="#188a93"/>
<rect x="664.00" y="334.00" width="1.80" height="1.80" fill="#188a93"/>
<rect x="666.00" y="331.00" width="1.80" height="1.80" fill="#188a93"/>
<rect x="666.50" y="327.00" width="1.80" height="1.80" fill="#188a93"/>
<rect x="666.00" y="341.00" width="1.80" height="1.80" fill="#188a93"/>
<rect x="665.50" y="341.00" width="1.80" height="1.80" fill="#188a93"/>
<rect x="665.00" y="338.00" width="1.80" height="1.80" fill="#188a93"/>
<rect x="666.50" y="329.00" width="1.80" height="1.80" fill="#188a93"/>
<rect x="666.00" y="341.00" width="1.80" height="1.80" fill="#188a93"/>
<rect x="666.00" y="341.00" width="1.80" height="1.80" fill="#188a93"/>
<rect x="666.00" y="341.00" width="1.80" height="1.80" fill="#188a93"/>
<rect x="660.50" y="330.00" width="1.80" height="1.80" fill="#188a93"/>
<rect x="666.50" y="340.00" width="1.80" height="1.80" fill="#188a93"/>
<rect x="664.50" y="322.00" width="1.80" height="1.80" fill="#188a93"/>
<rect x="663.50" y="330.00" width="1.80" height="1.80" fill="#188a93"/>
<rect x="665.50" y="338.00" width="1.80" height="1.80" fill="#188a93"/>
<rect x="662.50" y="339.00" width="1.80" height="1.80" fill="#188a93"/>
<rect x="664.50" y="317.90" width="1.80" height="1.80" fill="#188a93"/>
<path d="M509.8,371.7 L509.8,371.7 L510.8,371.7 L511.8,371.7 L512.8,371.7 L513.8,371.7 L514.8,371.7 L515.8,371.7 L516.8,371.7 L517.8,371.7 L518.8,371.7 L519.8,371.7 L520.8,371.7 L521.8,371.7 L522.8,371.7 L523.8,371.7 L524.8,371.7 L525.8,371.7 L526.8,371.7 L527.8,371.7 L528.8,368.9 L529.8,367.9 L530.8,367.7 L531.8,368.3 L532.8,368.0 L533.8,367.3 L534.8,367.6 L535.8,367.6 L536.8,367.2 L537.8,363.6 L538.8,359.5 L539.8,363.9 L540.8,371.7 L541.8,371.7 L542.8,371.7 L543.8,371.7 L544.8,371.7 L545.8,371.7 L546.8,369.0 L547.8,367.6 L548.8,366.7 L549.8,366.3 L550.8,366.0 L551.8,366.1 L552.8,366.7 L553.8,367.7 L554.8,367.6 L555.8,367.8 L556.8,368.1 L557.8,368.8 L558.8,368.6 L559.8,368.5 L560.8,367.9 L561.8,368.0 L562.8,368.6 L563.8,369.1 L564.8,371.7 L565.8,371.7 L566.8,371.7 L567.8,371.7 L568.8,371.7 L569.8,371.7 L570.8,371.7 L571.8,371.7 L572.8,371.7 L573.8,369.4 L574.8,368.6 L575.8,369.1 L576.8,369.6 L577.8,371.7 L578.8,371.7 L579.8,371.7 L580.8,371.7 L581.8,371.7 L582.8,371.7 L583.8,371.7 L584.8,371.7 L585.8,369.4 L586.8,369.6 L587.8,369.3 L588.8,371.7 L589.8,371.7 L590.8,371.7 L591.8,371.7 L592.8,371.7 L593.8,371.7 L594.8,371.7 L595.8,371.7 L596.8,369.9 L597.8,368.8 L598.8,369.5 L599.8,369.1 L600.8,369.3 L601.8,369.2 L602.8,368.6 L603.8,368.3 L604.8,367.9 L605.8,362.4 L606.8,354.7 L607.8,363.6 L608.8,371.7 L609.8,368.2 L610.8,366.3 L611.8,367.5 L612.8,371.7 L613.8,371.7 L614.8,371.7 L615.8,369.3 L616.8,367.9 L617.8,367.7 L618.8,366.9 L619.8,365.5 L620.8,363.5 L621.8,361.6 L622.8,363.9 L623.8,367.8 L624.8,371.7 L625.8,371.7 L626.8,371.7 L627.8,371.7 L628.8,371.7 L629.8,371.7 L630.8,371.7 L631.8,371.7 L632.8,371.7 L633.8,371.7 L634.8,371.7 L635.8,371.7 L636.8,371.7 L637.8,371.7 L638.8,369.6 L639.8,368.9 L640.8,368.7 L641.8,369.8 L642.8,371.7 L643.8,371.7 L644.8,371.7 L645.8,369.6 L646.8,369.1 L647.8,369.6 L648.8,371.7 L649.8,371.7 L650.8,371.7 L651.8,369.8 L652.8,369.3 L653.8,369.5 L654.8,371.7 L655.8,371.7 L656.8,371.7 L657.8,371.7 L658.8,371.7 L659.8,371.7 L660.8,371.7 L661.8,366.9 L662.8,363.0 L663.8,363.0 L664.8,365.9 L665.8,368.2 L666.8,368.8 L667.8,368.3 L668.8,367.9 L669.8,368.4 L670.8,368.2 L671.8,368.1 L672.8,368.8 L673.8,368.7 L674.8,371.7 L675.8,371.7 L676.8,371.7 L677.8,371.7 L678.3,371.7 Z" fill="#188a93"/>
<rect x="524.50" y="399.00" width="1.80" height="1.80" fill="#5a12a0"/>
<rect x="524.00" y="399.00" width="1.80" height="1.80" fill="#5a12a0"/>
<rect x="524.00" y="399.00" width="1.80" height="1.80" fill="#5a12a0"/>
<rect x="524.00" y="396.00" width="1.80" height="1.80" fill="#5a12a0"/>
<rect x="523.50" y="388.00" width="1.80" height="1.80" fill="#5a12a0"/>
<rect x="523.00" y="387.00" width="1.80" height="1.80" fill="#5a12a0"/>
<rect x="524.00" y="391.00" width="1.80" height="1.80" fill="#5a12a0"/>
<rect x="524.50" y="395.00" width="1.80" height="1.80" fill="#5a12a0"/>
<rect x="533.00" y="392.00" width="1.80" height="1.80" fill="#5a12a0"/>
<rect x="533.50" y="397.00" width="1.80" height="1.80" fill="#5a12a0"/>
<rect x="532.50" y="397.00" width="1.80" height="1.80" fill="#5a12a0"/>
<rect x="532.50" y="399.00" width="1.80" height="1.80" fill="#5a12a0"/>
<rect x="533.00" y="399.00" width="1.80" height="1.80" fill="#5a12a0"/>
<rect x="532.50" y="399.00" width="1.80" height="1.80" fill="#5a12a0"/>
<rect x="533.50" y="397.00" width="1.80" height="1.80" fill="#5a12a0"/>
<rect x="532.50" y="384.00" width="1.80" height="1.80" fill="#5a12a0"/>
<rect x="534.50" y="379.00" width="1.80" height="1.80" fill="#5a12a0"/>
<rect x="537.00" y="399.00" width="1.80" height="1.80" fill="#5a12a0"/>
<rect x="533.50" y="395.00" width="1.80" height="1.80" fill="#5a12a0"/>
<rect x="535.50" y="388.00" width="1.80" height="1.80" fill="#5a12a0"/>
<rect x="533.50" y="399.00" width="1.80" height="1.80" fill="#5a12a0"/>
<rect x="534.00" y="394.00" width="1.80" height="1.80" fill="#5a12a0"/>
<rect x="534.50" y="397.00" width="1.80" height="1.80" fill="#5a12a0"/>
<rect x="535.00" y="399.00" width="1.80" height="1.80" fill="#5a12a0"/>
<rect x="534.50" y="394.00" width="1.80" height="1.80" fill="#5a12a0"/>
<rect x="534.50" y="380.00" width="1.80" height="1.80" fill="#5a12a0"/>
<rect x="533.50" y="398.00" width="1.80" height="1.80" fill="#5a12a0"/>
<rect x="532.50" y="394.00" width="1.80" height="1.80" fill="#5a12a0"/>
<rect x="531.50" y="395.00" width="1.80" height="1.80" fill="#5a12a0"/>
<rect x="535.00" y="380.00" width="1.80" height="1.80" fill="#5a12a0"/>
<rect x="536.50" y="378.00" width="1.80" height="1.80" fill="#5a12a0"/>
<rect x="534.00" y="391.00" width="1.80" height="1.80" fill="#5a12a0"/>
<rect x="532.50" y="381.00" width="1.80" height="1.80" fill="#5a12a0"/>
<rect x="534.50" y="389.00" width="1.80" height="1.80" fill="#5a12a0"/>
<rect x="532.50" y="398.00" width="1.80" height="1.80" fill="#5a12a0"/>
<rect x="534.50" y="386.00" width="1.80" height="1.80" fill="#5a12a0"/>
<rect x="531.00" y="399.00" width="1.80" height="1.80" fill="#5a12a0"/>
<rect x="532.50" y="398.00" width="1.80" height="1.80" fill="#5a12a0"/>
<rect x="533.00" y="399.00" width="1.80" height="1.80" fill="#5a12a0"/>
<rect x="534.00" y="398.00" width="1.80" height="1.80" fill="#5a12a0"/>
<rect x="536.00" y="399.00" width="1.80" height="1.80" fill="#5a12a0"/>
<rect x="533.50" y="397.00" width="1.80" height="1.80" fill="#5a12a0"/>
<rect x="533.50" y="399.00" width="1.80" height="1.80" fill="#5a12a0"/>
<rect x="533.50" y="380.00" width="1.80" height="1.80" fill="#5a12a0"/>
<rect x="533.50" y="399.00" width="1.80" height="1.80" fill="#5a12a0"/>
<rect x="535.50" y="395.00" width="1.80" height="1.80" fill="#5a12a0"/>
<rect x="535.00" y="399.00" width="1.80" height="1.80" fill="#5a12a0"/>
<rect x="535.00" y="378.00" width="1.80" height="1.80" fill="#5a12a0"/>
<rect x="533.00" y="399.00" width="1.80" height="1.80" fill="#5a12a0"/>
<rect x="535.50" y="388.00" width="1.80" height="1.80" fill="#5a12a0"/>
<rect x="534.00" y="396.00" width="1.80" height="1.80" fill="#5a12a0"/>
<rect x="534.50" y="399.00" width="1.80" height="1.80" fill="#5a12a0"/>
<rect x="535.00" y="399.00" width="1.80" height="1.80" fill="#5a12a0"/>
<rect x="531.50" y="394.00" width="1.80" height="1.80" fill="#5a12a0"/>
<rect x="532.00" y="375.50" width="1.80" height="1.80" fill="#5a12a0"/>
<rect x="540.50" y="398.00" width="1.80" height="1.80" fill="#5a12a0"/>
<rect x="541.00" y="398.00" width="1.80" height="1.80" fill="#5a12a0"/>
<rect x="542.00" y="382.00" width="1.80" height="1.80" fill="#5a12a0"/>
<rect x="540.00" y="389.00" width="1.80" height="1.80" fill="#5a12a0"/>
<rect x="539.00" y="397.00" width="1.80" height="1.80" fill="#5a12a0"/>
<rect x="541.50" y="394.00" width="1.80" height="1.80" fill="#5a12a0"/>
<rect x="542.50" y="399.00" width="1.80" height="1.80" fill="#5a12a0"/>
<rect x="542.50" y="399.00" width="1.80" height="1.80" fill="#5a12a0"/>
<rect x="541.00" y="398.00" width="1.80" height="1.80" fill="#5a12a0"/>
<rect x="543.00" y="389.00" width="1.80" height="1.80" fill="#5a12a0"/>
<rect x="541.50" y="399.00" width="1.80" height="1.80" fill="#5a12a0"/>
<rect x="542.00" y="397.00" width="1.80" height="1.80" fill="#5a12a0"/>
<rect x="542.00" y="397.00" width="1.80" height="1.80" fill="#5a12a0"/>
<rect x="543.00" y="386.00" width="1.80" height="1.80" fill="#5a12a0"/>
<rect x="541.50" y="395.00" width="1.80" height="1.80" fill="#5a12a0"/>
<rect x="541.00" y="398.00" width="1.80" height="1.80" fill="#5a12a0"/>
<rect x="543.00" y="397.00" width="1.80" height="1.80" fill="#5a12a0"/>
<rect x="538.00" y="399.00" width="1.80" height="1.80" fill="#5a12a0"/>
<rect x="539.00" y="399.00" width="1.80" height="1.80" fill="#5a12a0"/>
<rect x="543.00" y="387.00" width="1.80" height="1.80" fill="#5a12a0"/>
<rect x="542.00" y="380.00" width="1.80" height="1.80" fill="#5a12a0"/>
<rect x="540.00" y="399.00" width="1.80" height="1.80" fill="#5a12a0"/>
<rect x="540.50" y="399.00" width="1.80" height="1.80" fill="#5a12a0"/>
<rect x="543.50" y="398.00" width="1.80" height="1.80" fill="#5a12a0"/>
<rect x="542.50" y="398.00" width="1.80" height="1.80" fill="#5a12a0"/>
<rect x="541.50" y="395.00" width="1.80" height="1.80" fill="#5a12a0"/>
<rect x="539.00" y="395.00" width="1.80" height="1.80" fill="#5a12a0"/>
<rect x="544.00" y="399.00" width="1.80" height="1.80" fill="#5a12a0"/>
<rect x="541.50" y="393.00" width="1.80" height="1.80" fill="#5a12a0"/>
<rect x="544.00" y="384.00" width="1.80" height="1.80" fill="#5a12a0"/>
<rect x="540.50" y="395.00" width="1.80" height="1.80" fill="#5a12a0"/>
<rect x="541.00" y="394.00" width="1.80" height="1.80" fill="#5a12a0"/>
<rect x="544.00" y="396.00" width="1.80" height="1.80" fill="#5a12a0"/>
<rect x="539.00" y="396.00" width="1.80" height="1.80" fill="#5a12a0"/>
<rect x="540.50" y="399.00" width="1.80" height="1.80" fill="#5a12a0"/>
<rect x="539.50" y="380.00" width="1.80" height="1.80" fill="#5a12a0"/>
<rect x="541.00" y="397.00" width="1.80" height="1.80" fill="#5a12a0"/>
<rect x="539.50" y="381.00" width="1.80" height="1.80" fill="#5a12a0"/>
<rect x="541.00" y="398.00" width="1.80" height="1.80" fill="#5a12a0"/>
<rect x="544.00" y="399.00" width="1.80" height="1.80" fill="#5a12a0"/>
<rect x="542.50" y="388.00" width="1.80" height="1.80" fill="#5a12a0"/>
<rect x="541.00" y="392.00" width="1.80" height="1.80" fill="#5a12a0"/>
<rect x="542.50" y="395.00" width="1.80" height="1.80" fill="#5a12a0"/>
<rect x="538.50" y="389.00" width="1.80" height="1.80" fill="#5a12a0"/>
<rect x="540.00" y="399.00" width="1.80" height="1.80" fill="#5a12a0"/>
<rect x="540.50" y="388.00" width="1.80" height="1.80" fill="#5a12a0"/>
<rect x="542.50" y="396.00" width="1.80" height="1.80" fill="#5a12a0"/>
<rect x="542.00" y="399.00" width="1.80" height="1.80" fill="#5a12a0"/>
<rect x="541.50" y="382.00" width="1.80" height="1.80" fill="#5a12a0"/>
<rect x="542.50" y="396.00" width="1.80" height="1.80" fill="#5a12a0"/>
<rect x="540.50" y="399.00" width="1.80" height="1.80" fill="#5a12a0"/>
<rect x="542.00" y="399.00" width="1.80" height="1.80" fill="#5a12a0"/>
<rect x="542.50" y="395.00" width="1.80" height="1.80" fill="#5a12a0"/>
<rect x="542.00" y="399.00" width="1.80" height="1.80" fill="#5a12a0"/>
<rect x="540.00" y="388.00" width="1.80" height="1.80" fill="#5a12a0"/>
<rect x="544.00" y="399.00" width="1.80" height="1.80" fill="#5a12a0"/>
<rect x="540.50" y="385.00" width="1.80" height="1.80" fill="#5a12a0"/>
<rect x="543.50" y="390.00" width="1.80" height="1.80" fill="#5a12a0"/>
<rect x="540.00" y="375.50" width="1.80" height="1.80" fill="#5a12a0"/>
<rect x="541.00" y="375.50" width="1.80" height="1.80" fill="#5a12a0"/>
<rect x="542.00" y="375.50" width="1.80" height="1.80" fill="#5a12a0"/>
<rect x="560.50" y="384.00" width="1.80" height="1.80" fill="#5a12a0"/>
<rect x="551.00" y="399.00" width="1.80" height="1.80" fill="#5a12a0"/>
<rect x="557.00" y="390.00" width="1.80" height="1.80" fill="#5a12a0"/>
<rect x="552.50" y="390.00" width="1.80" height="1.80" fill="#5a12a0"/>
<rect x="563.00" y="388.00" width="1.80" height="1.80" fill="#5a12a0"/>
<rect x="552.50" y="385.00" width="1.80" height="1.80" fill="#5a12a0"/>
<rect x="552.50" y="399.00" width="1.80" height="1.80" fill="#5a12a0"/>
<rect x="553.00" y="399.00" width="1.80" height="1.80" fill="#5a12a0"/>
<rect x="553.00" y="393.00" width="1.80" height="1.80" fill="#5a12a0"/>
<rect x="558.00" y="399.00" width="1.80" height="1.80" fill="#5a12a0"/>
<rect x="552.50" y="399.00" width="1.80" height="1.80" fill="#5a12a0"/>
<rect x="558.50" y="396.00" width="1.80" height="1.80" fill="#5a12a0"/>
<rect x="561.50" y="399.00" width="1.80" height="1.80" fill="#5a12a0"/>
<rect x="551.50" y="391.00" width="1.80" height="1.80" fill="#5a12a0"/>
<rect x="553.00" y="398.00" width="1.80" height="1.80" fill="#5a12a0"/>
<rect x="553.00" y="397.00" width="1.80" height="1.80" fill="#5a12a0"/>
<rect x="550.00" y="382.00" width="1.80" height="1.80" fill="#5a12a0"/>
<rect x="557.50" y="386.00" width="1.80" height="1.80" fill="#5a12a0"/>
<rect x="552.00" y="399.00" width="1.80" height="1.80" fill="#5a12a0"/>
<rect x="549.50" y="399.00" width="1.80" height="1.80" fill="#5a12a0"/>
<rect x="562.50" y="378.00" width="1.80" height="1.80" fill="#5a12a0"/>
<rect x="560.50" y="384.00" width="1.80" height="1.80" fill="#5a12a0"/>
<rect x="553.50" y="399.00" width="1.80" height="1.80" fill="#5a12a0"/>
<rect x="564.00" y="393.00" width="1.80" height="1.80" fill="#5a12a0"/>
<rect x="548.50" y="396.00" width="1.80" height="1.80" fill="#5a12a0"/>
<rect x="550.00" y="383.00" width="1.80" height="1.80" fill="#5a12a0"/>
<rect x="559.50" y="382.00" width="1.80" height="1.80" fill="#5a12a0"/>
<rect x="563.00" y="382.00" width="1.80" height="1.80" fill="#5a12a0"/>
<rect x="564.00" y="385.00" width="1.80" height="1.80" fill="#5a12a0"/>
<rect x="552.00" y="386.00" width="1.80" height="1.80" fill="#5a12a0"/>
<rect x="559.00" y="398.00" width="1.80" height="1.80" fill="#5a12a0"/>
<rect x="559.50" y="397.00" width="1.80" height="1.80" fill="#5a12a0"/>
<rect x="554.00" y="399.00" width="1.80" height="1.80" fill="#5a12a0"/>
<rect x="559.00" y="379.00" width="1.80" height="1.80" fill="#5a12a0"/>
<rect x="551.00" y="398.00" width="1.80" height="1.80" fill="#5a12a0"/>
<rect x="549.00" y="381.00" width="1.80" height="1.80" fill="#5a12a0"/>
<rect x="561.00" y="398.00" width="1.80" height="1.80" fill="#5a12a0"/>
<rect x="553.00" y="395.00" width="1.80" height="1.80" fill="#5a12a0"/>
<rect x="563.00" y="379.00" width="1.80" height="1.80" fill="#5a12a0"/>
<rect x="551.00" y="399.00" width="1.80" height="1.80" fill="#5a12a0"/>
<rect x="560.50" y="395.00" width="1.80" height="1.80" fill="#5a12a0"/>
<rect x="561.50" y="398.00" width="1.80" height="1.80" fill="#5a12a0"/>
<rect x="563.00" y="397.00" width="1.80" height="1.80" fill="#5a12a0"/>
<rect x="558.50" y="399.00" width="1.80" height="1.80" fill="#5a12a0"/>
<rect x="551.50" y="398.00" width="1.80" height="1.80" fill="#5a12a0"/>
<rect x="560.00" y="389.00" width="1.80" height="1.80" fill="#5a12a0"/>
<rect x="561.50" y="396.00" width="1.80" height="1.80" fill="#5a12a0"/>
<rect x="563.00" y="393.00" width="1.80" height="1.80" fill="#5a12a0"/>
<rect x="564.50" y="398.00" width="1.80" height="1.80" fill="#5a12a0"/>
<rect x="559.50" y="399.00" width="1.80" height="1.80" fill="#5a12a0"/>
<rect x="561.00" y="393.00" width="1.80" height="1.80" fill="#5a12a0"/>
<rect x="553.00" y="399.00" width="1.80" height="1.80" fill="#5a12a0"/>
<rect x="552.00" y="394.00" width="1.80" height="1.80" fill="#5a12a0"/>
<rect x="550.50" y="399.00" width="1.80" height="1.80" fill="#5a12a0"/>
<rect x="552.00" y="388.00" width="1.80" height="1.80" fill="#5a12a0"/>
<rect x="562.00" y="388.00" width="1.80" height="1.80" fill="#5a12a0"/>
<rect x="561.00" y="393.00" width="1.80" height="1.80" fill="#5a12a0"/>
<rect x="551.00" y="379.00" width="1.80" height="1.80" fill="#5a12a0"/>
<rect x="564.00" y="396.00" width="1.80" height="1.80" fill="#5a12a0"/>
<rect x="565.00" y="399.00" width="1.80" height="1.80" fill="#5a12a0"/>
<rect x="560.00" y="399.00" width="1.80" height="1.80" fill="#5a12a0"/>
<rect x="564.00" y="392.00" width="1.80" height="1.80" fill="#5a12a0"/>
<rect x="550.00" y="399.00" width="1.80" height="1.80" fill="#5a12a0"/>
<rect x="563.50" y="398.00" width="1.80" height="1.80" fill="#5a12a0"/>
<rect x="553.50" y="395.00" width="1.80" height="1.80" fill="#5a12a0"/>
<rect x="560.50" y="378.00" width="1.80" height="1.80" fill="#5a12a0"/>
<rect x="551.50" y="385.00" width="1.80" height="1.80" fill="#5a12a0"/>
<rect x="550.50" y="390.00" width="1.80" height="1.80" fill="#5a12a0"/>
<rect x="551.50" y="399.00" width="1.80" height="1.80" fill="#5a12a0"/>
<rect x="557.00" y="397.00" width="1.80" height="1.80" fill="#5a12a0"/>
<rect x="551.00" y="390.00" width="1.80" height="1.80" fill="#5a12a0"/>
<rect x="551.50" y="399.00" width="1.80" height="1.80" fill="#5a12a0"/>
<rect x="564.00" y="390.00" width="1.80" height="1.80" fill="#5a12a0"/>
<rect x="560.00" y="393.00" width="1.80" height="1.80" fill="#5a12a0"/>
<rect x="552.50" y="396.00" width="1.80" height="1.80" fill="#5a12a0"/>
<rect x="562.00" y="398.00" width="1.80" height="1.80" fill="#5a12a0"/>
<rect x="551.00" y="399.00" width="1.80" height="1.80" fill="#5a12a0"/>
<rect x="551.50" y="399.00" width="1.80" height="1.80" fill="#5a12a0"/>
<rect x="549.50" y="399.00" width="1.80" height="1.80" fill="#5a12a0"/>
<rect x="552.00" y="399.00" width="1.80" height="1.80" fill="#5a12a0"/>
<rect x="563.00" y="399.00" width="1.80" height="1.80" fill="#5a12a0"/>
<rect x="560.00" y="390.00" width="1.80" height="1.80" fill="#5a12a0"/>
<rect x="563.50" y="396.00" width="1.80" height="1.80" fill="#5a12a0"/>
<rect x="555.00" y="399.00" width="1.80" height="1.80" fill="#5a12a0"/>
<rect x="550.50" y="398.00" width="1.80" height="1.80" fill="#5a12a0"/>
<rect x="549.00" y="399.00" width="1.80" height="1.80" fill="#5a12a0"/>
<rect x="560.50" y="398.00" width="1.80" height="1.80" fill="#5a12a0"/>
<rect x="552.50" y="399.00" width="1.80" height="1.80" fill="#5a12a0"/>
<rect x="551.00" y="398.00" width="1.80" height="1.80" fill="#5a12a0"/>
<rect x="552.00" y="395.00" width="1.80" height="1.80" fill="#5a12a0"/>
<rect x="563.50" y="399.00" width="1.80" height="1.80" fill="#5a12a0"/>
<rect x="562.50" y="398.00" width="1.80" height="1.80" fill="#5a12a0"/>
<rect x="557.00" y="389.00" width="1.80" height="1.80" fill="#5a12a0"/>
<rect x="561.00" y="399.00" width="1.80" height="1.80" fill="#5a12a0"/>
<rect x="563.50" y="375.50" width="1.80" height="1.80" fill="#5a12a0"/>
<rect x="557.50" y="375.50" width="1.80" height="1.80" fill="#5a12a0"/>
<rect x="547.00" y="375.50" width="1.80" height="1.80" fill="#5a12a0"/>
<rect x="559.00" y="396.00" width="1.80" height="1.80" fill="#5a12a0"/>
<rect x="558.00" y="393.00" width="1.80" height="1.80" fill="#5a12a0"/>
<rect x="560.00" y="394.00" width="1.80" height="1.80" fill="#5a12a0"/>
<rect x="560.00" y="392.00" width="1.80" height="1.80" fill="#5a12a0"/>
<rect x="559.00" y="399.00" width="1.80" height="1.80" fill="#5a12a0"/>
<rect x="560.00" y="399.00" width="1.80" height="1.80" fill="#5a12a0"/>
<rect x="560.50" y="399.00" width="1.80" height="1.80" fill="#5a12a0"/>
<rect x="559.50" y="399.00" width="1.80" height="1.80" fill="#5a12a0"/>
<rect x="558.50" y="397.00" width="1.80" height="1.80" fill="#5a12a0"/>
<rect x="558.00" y="380.00" width="1.80" height="1.80" fill="#5a12a0"/>
<rect x="560.00" y="380.00" width="1.80" height="1.80" fill="#5a12a0"/>
<rect x="559.50" y="381.00" width="1.80" height="1.80" fill="#5a12a0"/>
<rect x="560.50" y="386.00" width="1.80" height="1.80" fill="#5a12a0"/>
<rect x="559.00" y="399.00" width="1.80" height="1.80" fill="#5a12a0"/>
<rect x="557.00" y="399.00" width="1.80" height="1.80" fill="#5a12a0"/>
<rect x="558.50" y="393.00" width="1.80" height="1.80" fill="#5a12a0"/>
<rect x="557.50" y="390.00" width="1.80" height="1.80" fill="#5a12a0"/>
<rect x="560.50" y="388.00" width="1.80" height="1.80" fill="#5a12a0"/>
<rect x="558.50" y="388.00" width="1.80" height="1.80" fill="#5a12a0"/>
<rect x="558.50" y="397.00" width="1.80" height="1.80" fill="#5a12a0"/>
<rect x="559.00" y="386.00" width="1.80" height="1.80" fill="#5a12a0"/>
<rect x="555.50" y="381.00" width="1.80" height="1.80" fill="#5a12a0"/>
<rect x="560.50" y="399.00" width="1.80" height="1.80" fill="#5a12a0"/>
<rect x="558.50" y="399.00" width="1.80" height="1.80" fill="#5a12a0"/>
<rect x="557.00" y="397.00" width="1.80" height="1.80" fill="#5a12a0"/>
<rect x="559.50" y="399.00" width="1.80" height="1.80" fill="#5a12a0"/>
<rect x="558.00" y="399.00" width="1.80" height="1.80" fill="#5a12a0"/>
<rect x="562.00" y="391.00" width="1.80" height="1.80" fill="#5a12a0"/>
<rect x="562.50" y="399.00" width="1.80" height="1.80" fill="#5a12a0"/>
<rect x="558.00" y="399.00" width="1.80" height="1.80" fill="#5a12a0"/>
<rect x="557.50" y="381.00" width="1.80" height="1.80" fill="#5a12a0"/>
<rect x="559.00" y="378.00" width="1.80" height="1.80" fill="#5a12a0"/>
<rect x="559.00" y="381.00" width="1.80" height="1.80" fill="#5a12a0"/>
<rect x="559.00" y="392.00" width="1.80" height="1.80" fill="#5a12a0"/>
<rect x="558.50" y="397.00" width="1.80" height="1.80" fill="#5a12a0"/>
<rect x="556.50" y="399.00" width="1.80" height="1.80" fill="#5a12a0"/>
<rect x="558.50" y="398.00" width="1.80" height="1.80" fill="#5a12a0"/>
<rect x="559.00" y="394.00" width="1.80" height="1.80" fill="#5a12a0"/>
<rect x="560.50" y="384.00" width="1.80" height="1.80" fill="#5a12a0"/>
<rect x="554.50" y="399.00" width="1.80" height="1.80" fill="#5a12a0"/>
<rect x="559.00" y="398.00" width="1.80" height="1.80" fill="#5a12a0"/>
<rect x="560.00" y="399.00" width="1.80" height="1.80" fill="#5a12a0"/>
<rect x="560.00" y="397.00" width="1.80" height="1.80" fill="#5a12a0"/>
<rect x="558.00" y="390.00" width="1.80" height="1.80" fill="#5a12a0"/>
<rect x="556.50" y="391.00" width="1.80" height="1.80" fill="#5a12a0"/>
<rect x="557.00" y="389.00" width="1.80" height="1.80" fill="#5a12a0"/>
<rect x="558.00" y="398.00" width="1.80" height="1.80" fill="#5a12a0"/>
<rect x="560.00" y="399.00" width="1.80" height="1.80" fill="#5a12a0"/>
<rect x="555.00" y="399.00" width="1.80" height="1.80" fill="#5a12a0"/>
<rect x="559.00" y="389.00" width="1.80" height="1.80" fill="#5a12a0"/>
<rect x="557.00" y="396.00" width="1.80" height="1.80" fill="#5a12a0"/>
<rect x="557.50" y="395.00" width="1.80" height="1.80" fill="#5a12a0"/>
<rect x="577.50" y="396.00" width="1.80" height="1.80" fill="#5a12a0"/>
<rect x="578.00" y="398.00" width="1.80" height="1.80" fill="#5a12a0"/>
<rect x="578.00" y="399.00" width="1.80" height="1.80" fill="#5a12a0"/>
<rect x="576.00" y="397.00" width="1.80" height="1.80" fill="#5a12a0"/>
<rect x="575.50" y="398.00" width="1.80" height="1.80" fill="#5a12a0"/>
<rect x="582.00" y="381.00" width="1.80" height="1.80" fill="#5a12a0"/>
<rect x="579.50" y="397.00" width="1.80" height="1.80" fill="#5a12a0"/>
<rect x="582.00" y="387.00" width="1.80" height="1.80" fill="#5a12a0"/>
<rect x="580.00" y="399.00" width="1.80" height="1.80" fill="#5a12a0"/>
<rect x="577.50" y="398.00" width="1.80" height="1.80" fill="#5a12a0"/>
<rect x="577.50" y="389.00" width="1.80" height="1.80" fill="#5a12a0"/>
<rect x="577.50" y="395.00" width="1.80" height="1.80" fill="#5a12a0"/>
<rect x="576.50" y="392.00" width="1.80" height="1.80" fill="#5a12a0"/>
<rect x="579.50" y="391.00" width="1.80" height="1.80" fill="#5a12a0"/>
<rect x="576.50" y="388.00" width="1.80" height="1.80" fill="#5a12a0"/>
<rect x="574.00" y="382.00" width="1.80" height="1.80" fill="#5a12a0"/>
<rect x="577.50" y="399.00" width="1.80" height="1.80" fill="#5a12a0"/>
<rect x="576.00" y="382.00" width="1.80" height="1.80" fill="#5a12a0"/>
<rect x="577.50" y="399.00" width="1.80" height="1.80" fill="#5a12a0"/>
<rect x="578.00" y="398.00" width="1.80" height="1.80" fill="#5a12a0"/>
<rect x="580.50" y="388.00" width="1.80" height="1.80" fill="#5a12a0"/>
<rect x="585.00" y="398.00" width="1.80" height="1.80" fill="#5a12a0"/>
<rect x="585.50" y="399.00" width="1.80" height="1.80" fill="#5a12a0"/>
<rect x="587.00" y="394.00" width="1.80" height="1.80" fill="#5a12a0"/>
<rect x="590.00" y="396.00" width="1.80" height="1.80" fill="#5a12a0"/>
<rect x="585.50" y="389.00" width="1.80" height="1.80" fill="#5a12a0"/>
<rect x="586.00" y="399.00" width="1.80" height="1.80" fill="#5a12a0"/>
<rect x="587.50" y="399.00" width="1.80" height="1.80" fill="#5a12a0"/>
<rect x="586.00" y="399.00" width="1.80" height="1.80" fill="#5a12a0"/>
<rect x="585.00" y="398.00" width="1.80" height="1.80" fill="#5a12a0"/>
<rect x="588.00" y="398.00" width="1.80" height="1.80" fill="#5a12a0"/>
<rect x="590.00" y="382.00" width="1.80" height="1.80" fill="#5a12a0"/>
<rect x="586.00" y="379.00" width="1.80" height="1.80" fill="#5a12a0"/>
<rect x="586.00" y="399.00" width="1.80" height="1.80" fill="#5a12a0"/>
<rect x="585.50" y="384.00" width="1.80" height="1.80" fill="#5a12a0"/>
<rect x="586.00" y="396.00" width="1.80" height="1.80" fill="#5a12a0"/>
<rect x="585.00" y="399.00" width="1.80" height="1.80" fill="#5a12a0"/>
<rect x="586.00" y="399.00" width="1.80" height="1.80" fill="#5a12a0"/>
<rect x="587.50" y="398.00" width="1.80" height="1.80" fill="#5a12a0"/>
<rect x="586.50" y="387.00" width="1.80" height="1.80" fill="#5a12a0"/>
<rect x="587.50" y="398.00" width="1.80" height="1.80" fill="#5a12a0"/>
<rect x="586.50" y="398.00" width="1.80" height="1.80" fill="#5a12a0"/>
<rect x="590.00" y="389.00" width="1.80" height="1.80" fill="#5a12a0"/>
<rect x="596.00" y="399.00" width="1.80" height="1.80" fill="#5a12a0"/>
<rect x="585.50" y="399.00" width="1.80" height="1.80" fill="#5a12a0"/>
<rect x="584.00" y="395.00" width="1.80" height="1.80" fill="#5a12a0"/>
<rect x="586.00" y="399.00" width="1.80" height="1.80" fill="#5a12a0"/>
<rect x="598.00" y="399.00" width="1.80" height="1.80" fill="#5a12a0"/>
<rect x="596.50" y="399.00" width="1.80" height="1.80" fill="#5a12a0"/>
<rect x="590.50" y="398.00" width="1.80" height="1.80" fill="#5a12a0"/>
<rect x="590.00" y="399.00" width="1.80" height="1.80" fill="#5a12a0"/>
<rect x="587.50" y="379.00" width="1.80" height="1.80" fill="#5a12a0"/>
<rect x="597.00" y="393.00" width="1.80" height="1.80" fill="#5a12a0"/>
<rect x="586.50" y="379.00" width="1.80" height="1.80" fill="#5a12a0"/>
<rect x="587.50" y="395.00" width="1.80" height="1.80" fill="#5a12a0"/>
<rect x="587.50" y="382.00" width="1.80" height="1.80" fill="#5a12a0"/>
<rect x="588.00" y="399.00" width="1.80" height="1.80" fill="#5a12a0"/>
<rect x="593.50" y="399.00" width="1.80" height="1.80" fill="#5a12a0"/>
<rect x="587.50" y="399.00" width="1.80" height="1.80" fill="#5a12a0"/>
<rect x="587.00" y="397.00" width="1.80" height="1.80" fill="#5a12a0"/>
<rect x="588.50" y="391.00" width="1.80" height="1.80" fill="#5a12a0"/>
<rect x="588.50" y="387.00" width="1.80" height="1.80" fill="#5a12a0"/>
<rect x="587.00" y="398.00" width="1.80" height="1.80" fill="#5a12a0"/>
<rect x="584.50" y="399.00" width="1.80" height="1.80" fill="#5a12a0"/>
<rect x="585.00" y="386.00" width="1.80" height="1.80" fill="#5a12a0"/>
<rect x="596.00" y="389.00" width="1.80" height="1.80" fill="#5a12a0"/>
<rect x="588.00" y="399.00" width="1.80" height="1.80" fill="#5a12a0"/>
<rect x="594.50" y="399.00" width="1.80" height="1.80" fill="#5a12a0"/>
<rect x="587.50" y="399.00" width="1.80" height="1.80" fill="#5a12a0"/>
<rect x="585.00" y="398.00" width="1.80" height="1.80" fill="#5a12a0"/>
<rect x="588.50" y="399.00" width="1.80" height="1.80" fill="#5a12a0"/>
<rect x="589.00" y="382.00" width="1.80" height="1.80" fill="#5a12a0"/>
<rect x="587.50" y="396.00" width="1.80" height="1.80" fill="#5a12a0"/>
<rect x="588.00" y="399.00" width="1.80" height="1.80" fill="#5a12a0"/>
<rect x="586.50" y="385.00" width="1.80" height="1.80" fill="#5a12a0"/>
<rect x="588.50" y="375.50" width="1.80" height="1.80" fill="#5a12a0"/>
<rect x="590.00" y="375.50" width="1.80" height="1.80" fill="#5a12a0"/>
<rect x="592.00" y="375.50" width="1.80" height="1.80" fill="#5a12a0"/>
<rect x="611.00" y="397.00" width="1.80" height="1.80" fill="#5a12a0"/>
<rect x="612.00" y="398.00" width="1.80" height="1.80" fill="#5a12a0"/>
<rect x="607.50" y="385.00" width="1.80" height="1.80" fill="#5a12a0"/>
<rect x="609.50" y="392.00" width="1.80" height="1.80" fill="#5a12a0"/>
<rect x="611.00" y="396.00" width="1.80" height="1.80" fill="#5a12a0"/>
<rect x="608.00" y="399.00" width="1.80" height="1.80" fill="#5a12a0"/>
<rect x="611.50" y="399.00" width="1.80" height="1.80" fill="#5a12a0"/>
<rect x="608.50" y="380.00" width="1.80" height="1.80" fill="#5a12a0"/>
<rect x="597.50" y="396.00" width="1.80" height="1.80" fill="#5a12a0"/>
<rect x="608.00" y="398.00" width="1.80" height="1.80" fill="#5a12a0"/>
<rect x="612.50" y="399.00" width="1.80" height="1.80" fill="#5a12a0"/>
<rect x="609.50" y="393.00" width="1.80" height="1.80" fill="#5a12a0"/>
<rect x="610.50" y="382.00" width="1.80" height="1.80" fill="#5a12a0"/>
<rect x="595.00" y="399.00" width="1.80" height="1.80" fill="#5a12a0"/>
<rect x="610.00" y="396.00" width="1.80" height="1.80" fill="#5a12a0"/>
<rect x="609.00" y="399.00" width="1.80" height="1.80" fill="#5a12a0"/>
<rect x="611.50" y="398.00" width="1.80" height="1.80" fill="#5a12a0"/>
<rect x="608.50" y="399.00" width="1.80" height="1.80" fill="#5a12a0"/>
<rect x="611.50" y="399.00" width="1.80" height="1.80" fill="#5a12a0"/>
<rect x="607.50" y="397.00" width="1.80" height="1.80" fill="#5a12a0"/>
<rect x="608.00" y="393.00" width="1.80" height="1.80" fill="#5a12a0"/>
<rect x="612.00" y="396.00" width="1.80" height="1.80" fill="#5a12a0"/>
<rect x="606.00" y="399.00" width="1.80" height="1.80" fill="#5a12a0"/>
<rect x="610.50" y="392.00" width="1.80" height="1.80" fill="#5a12a0"/>
<rect x="610.00" y="398.00" width="1.80" height="1.80" fill="#5a12a0"/>
<rect x="609.00" y="387.00" width="1.80" height="1.80" fill="#5a12a0"/>
<rect x="611.50" y="399.00" width="1.80" height="1.80" fill="#5a12a0"/>
<rect x="608.00" y="399.00" width="1.80" height="1.80" fill="#5a12a0"/>
<rect x="609.00" y="397.00" width="1.80" height="1.80" fill="#5a12a0"/>
<rect x="598.00" y="383.00" width="1.80" height="1.80" fill="#5a12a0"/>
<rect x="608.00" y="399.00" width="1.80" height="1.80" fill="#5a12a0"/>
<rect x="609.00" y="398.00" width="1.80" height="1.80" fill="#5a12a0"/>
<rect x="613.50" y="387.00" width="1.80" height="1.80" fill="#5a12a0"/>
<rect x="596.00" y="399.00" width="1.80" height="1.80" fill="#5a12a0"/>
<rect x="610.50" y="378.00" width="1.80" height="1.80" fill="#5a12a0"/>
<rect x="610.50" y="380.00" width="1.80" height="1.80" fill="#5a12a0"/>
<rect x="609.50" y="399.00" width="1.80" height="1.80" fill="#5a12a0"/>
<rect x="597.00" y="396.00" width="1.80" height="1.80" fill="#5a12a0"/>
<rect x="609.00" y="395.00" width="1.80" height="1.80" fill="#5a12a0"/>
<rect x="608.00" y="391.00" width="1.80" height="1.80" fill="#5a12a0"/>
<rect x="609.50" y="397.00" width="1.80" height="1.80" fill="#5a12a0"/>
<rect x="608.00" y="399.00" width="1.80" height="1.80" fill="#5a12a0"/>
<rect x="609.00" y="386.00" width="1.80" height="1.80" fill="#5a12a0"/>
<rect x="609.00" y="386.00" width="1.80" height="1.80" fill="#5a12a0"/>
<rect x="609.00" y="399.00" width="1.80" height="1.80" fill="#5a12a0"/>
<rect x="609.50" y="379.00" width="1.80" height="1.80" fill="#5a12a0"/>
<rect x="609.50" y="398.00" width="1.80" height="1.80" fill="#5a12a0"/>
<rect x="609.50" y="399.00" width="1.80" height="1.80" fill="#5a12a0"/>
<rect x="608.00" y="398.00" width="1.80" height="1.80" fill="#5a12a0"/>
<rect x="612.00" y="399.00" width="1.80" height="1.80" fill="#5a12a0"/>
<rect x="609.00" y="399.00" width="1.80" height="1.80" fill="#5a12a0"/>
<rect x="608.50" y="391.00" width="1.80" height="1.80" fill="#5a12a0"/>
<rect x="612.00" y="398.00" width="1.80" height="1.80" fill="#5a12a0"/>
<rect x="611.00" y="396.00" width="1.80" height="1.80" fill="#5a12a0"/>
<rect x="611.00" y="381.00" width="1.80" height="1.80" fill="#5a12a0"/>
<rect x="610.00" y="396.00" width="1.80" height="1.80" fill="#5a12a0"/>
<rect x="607.00" y="381.00" width="1.80" height="1.80" fill="#5a12a0"/>
<rect x="608.00" y="399.00" width="1.80" height="1.80" fill="#5a12a0"/>
<rect x="611.00" y="381.00" width="1.80" height="1.80" fill="#5a12a0"/>
<rect x="610.00" y="398.00" width="1.80" height="1.80" fill="#5a12a0"/>
<rect x="610.00" y="394.00" width="1.80" height="1.80" fill="#5a12a0"/>
<rect x="599.00" y="383.00" width="1.80" height="1.80" fill="#5a12a0"/>
<rect x="596.50" y="399.00" width="1.80" height="1.80" fill="#5a12a0"/>
<rect x="595.50" y="378.00" width="1.80" height="1.80" fill="#5a12a0"/>
<rect x="607.00" y="380.00" width="1.80" height="1.80" fill="#5a12a0"/>
<rect x="612.00" y="396.00" width="1.80" height="1.80" fill="#5a12a0"/>
<rect x="605.50" y="391.00" width="1.80" height="1.80" fill="#5a12a0"/>
<rect x="607.50" y="375.50" width="1.80" height="1.80" fill="#5a12a0"/>
<rect x="610.50" y="375.50" width="1.80" height="1.80" fill="#5a12a0"/>
<rect x="622.00" y="395.00" width="1.80" height="1.80" fill="#5a12a0"/>
<rect x="624.00" y="399.00" width="1.80" height="1.80" fill="#5a12a0"/>
<rect x="622.00" y="395.00" width="1.80" height="1.80" fill="#5a12a0"/>
<rect x="623.50" y="392.00" width="1.80" height="1.80" fill="#5a12a0"/>
<rect x="622.50" y="399.00" width="1.80" height="1.80" fill="#5a12a0"/>
<rect x="624.50" y="399.00" width="1.80" height="1.80" fill="#5a12a0"/>
<rect x="618.50" y="390.00" width="1.80" height="1.80" fill="#5a12a0"/>
<rect x="622.50" y="398.00" width="1.80" height="1.80" fill="#5a12a0"/>
<rect x="623.00" y="395.00" width="1.80" height="1.80" fill="#5a12a0"/>
<rect x="626.50" y="392.00" width="1.80" height="1.80" fill="#5a12a0"/>
<rect x="623.00" y="399.00" width="1.80" height="1.80" fill="#5a12a0"/>
<rect x="624.00" y="398.00" width="1.80" height="1.80" fill="#5a12a0"/>
<rect x="622.50" y="399.00" width="1.80" height="1.80" fill="#5a12a0"/>
<rect x="622.50" y="389.00" width="1.80" height="1.80" fill="#5a12a0"/>
<rect x="621.50" y="399.00" width="1.80" height="1.80" fill="#5a12a0"/>
<rect x="619.50" y="399.00" width="1.80" height="1.80" fill="#5a12a0"/>
<rect x="623.50" y="393.00" width="1.80" height="1.80" fill="#5a12a0"/>
<rect x="624.00" y="390.00" width="1.80" height="1.80" fill="#5a12a0"/>
<rect x="624.00" y="397.00" width="1.80" height="1.80" fill="#5a12a0"/>
<rect x="621.50" y="399.00" width="1.80" height="1.80" fill="#5a12a0"/>
<rect x="622.00" y="396.00" width="1.80" height="1.80" fill="#5a12a0"/>
<rect x="624.50" y="398.00" width="1.80" height="1.80" fill="#5a12a0"/>
<rect x="622.50" y="394.00" width="1.80" height="1.80" fill="#5a12a0"/>
<rect x="622.50" y="378.00" width="1.80" height="1.80" fill="#5a12a0"/>
<rect x="625.00" y="381.00" width="1.80" height="1.80" fill="#5a12a0"/>
<rect x="621.00" y="399.00" width="1.80" height="1.80" fill="#5a12a0"/>
<rect x="620.50" y="379.00" width="1.80" height="1.80" fill="#5a12a0"/>
<rect x="620.50" y="391.00" width="1.80" height="1.80" fill="#5a12a0"/>
<rect x="624.00" y="382.00" width="1.80" height="1.80" fill="#5a12a0"/>
<rect x="623.00" y="399.00" width="1.80" height="1.80" fill="#5a12a0"/>
<rect x="622.50" y="399.00" width="1.80" height="1.80" fill="#5a12a0"/>
<rect x="622.00" y="386.00" width="1.80" height="1.80" fill="#5a12a0"/>
<rect x="622.00" y="380.00" width="1.80" height="1.80" fill="#5a12a0"/>
<rect x="621.50" y="399.00" width="1.80" height="1.80" fill="#5a12a0"/>
<rect x="621.50" y="399.00" width="1.80" height="1.80" fill="#5a12a0"/>
<rect x="621.50" y="397.00" width="1.80" height="1.80" fill="#5a12a0"/>
<rect x="623.50" y="399.00" width="1.80" height="1.80" fill="#5a12a0"/>
<rect x="623.00" y="389.00" width="1.80" height="1.80" fill="#5a12a0"/>
<rect x="622.00" y="396.00" width="1.80" height="1.80" fill="#5a12a0"/>
<rect x="618.50" y="383.00" width="1.80" height="1.80" fill="#5a12a0"/>
<rect x="624.50" y="391.00" width="1.80" height="1.80" fill="#5a12a0"/>
<rect x="623.00" y="387.00" width="1.80" height="1.80" fill="#5a12a0"/>
<rect x="623.00" y="394.00" width="1.80" height="1.80" fill="#5a12a0"/>
<rect x="622.50" y="396.00" width="1.80" height="1.80" fill="#5a12a0"/>
<rect x="624.00" y="398.00" width="1.80" height="1.80" fill="#5a12a0"/>
<rect x="626.00" y="383.00" width="1.80" height="1.80" fill="#5a12a0"/>
<rect x="624.50" y="399.00" width="1.80" height="1.80" fill="#5a12a0"/>
<rect x="624.50" y="388.00" width="1.80" height="1.80" fill="#5a12a0"/>
<rect x="624.00" y="389.00" width="1.80" height="1.80" fill="#5a12a0"/>
<rect x="623.50" y="387.00" width="1.80" height="1.80" fill="#5a12a0"/>
<rect x="623.00" y="396.00" width="1.80" height="1.80" fill="#5a12a0"/>
<rect x="623.00" y="398.00" width="1.80" height="1.80" fill="#5a12a0"/>
<rect x="620.50" y="379.00" width="1.80" height="1.80" fill="#5a12a0"/>
<rect x="623.00" y="395.00" width="1.80" height="1.80" fill="#5a12a0"/>
<rect x="623.50" y="390.00" width="1.80" height="1.80" fill="#5a12a0"/>
<rect x="623.50" y="390.00" width="1.80" height="1.80" fill="#5a12a0"/>
<rect x="622.50" y="398.00" width="1.80" height="1.80" fill="#5a12a0"/>
<rect x="623.00" y="398.00" width="1.80" height="1.80" fill="#5a12a0"/>
<rect x="617.50" y="375.50" width="1.80" height="1.80" fill="#5a12a0"/>
<rect x="628.00" y="375.50" width="1.80" height="1.80" fill="#5a12a0"/>
<rect x="651.00" y="399.00" width="1.80" height="1.80" fill="#5a12a0"/>
<rect x="644.00" y="399.00" width="1.80" height="1.80" fill="#5a12a0"/>
<rect x="641.00" y="391.00" width="1.80" height="1.80" fill="#5a12a0"/>
<rect x="651.50" y="387.00" width="1.80" height="1.80" fill="#5a12a0"/>
<rect x="653.00" y="399.00" width="1.80" height="1.80" fill="#5a12a0"/>
<rect x="650.00" y="399.00" width="1.80" height="1.80" fill="#5a12a0"/>
<rect x="643.00" y="394.00" width="1.80" height="1.80" fill="#5a12a0"/>
<rect x="642.50" y="397.00" width="1.80" height="1.80" fill="#5a12a0"/>
<rect x="645.00" y="399.00" width="1.80" height="1.80" fill="#5a12a0"/>
<rect x="648.00" y="395.00" width="1.80" height="1.80" fill="#5a12a0"/>
<rect x="651.50" y="395.00" width="1.80" height="1.80" fill="#5a12a0"/>
<rect x="640.00" y="379.00" width="1.80" height="1.80" fill="#5a12a0"/>
<rect x="640.50" y="399.00" width="1.80" height="1.80" fill="#5a12a0"/>
<rect x="644.50" y="399.00" width="1.80" height="1.80" fill="#5a12a0"/>
<rect x="646.00" y="397.00" width="1.80" height="1.80" fill="#5a12a0"/>
<rect x="644.00" y="399.00" width="1.80" height="1.80" fill="#5a12a0"/>
<rect x="645.50" y="399.00" width="1.80" height="1.80" fill="#5a12a0"/>
<rect x="648.50" y="398.00" width="1.80" height="1.80" fill="#5a12a0"/>
<rect x="650.50" y="399.00" width="1.80" height="1.80" fill="#5a12a0"/>
<rect x="642.00" y="399.00" width="1.80" height="1.80" fill="#5a12a0"/>
<rect x="647.50" y="384.00" width="1.80" height="1.80" fill="#5a12a0"/>
<rect x="651.50" y="384.00" width="1.80" height="1.80" fill="#5a12a0"/>
<rect x="646.50" y="397.00" width="1.80" height="1.80" fill="#5a12a0"/>
<rect x="652.00" y="394.00" width="1.80" height="1.80" fill="#5a12a0"/>
<rect x="641.00" y="394.00" width="1.80" height="1.80" fill="#5a12a0"/>
<rect x="650.50" y="399.00" width="1.80" height="1.80" fill="#5a12a0"/>
<rect x="642.50" y="385.00" width="1.80" height="1.80" fill="#5a12a0"/>
<rect x="644.50" y="399.00" width="1.80" height="1.80" fill="#5a12a0"/>
<rect x="650.50" y="399.00" width="1.80" height="1.80" fill="#5a12a0"/>
<rect x="643.00" y="398.00" width="1.80" height="1.80" fill="#5a12a0"/>
<rect x="639.50" y="399.00" width="1.80" height="1.80" fill="#5a12a0"/>
<rect x="650.50" y="398.00" width="1.80" height="1.80" fill="#5a12a0"/>
<rect x="643.50" y="389.00" width="1.80" height="1.80" fill="#5a12a0"/>
<rect x="650.00" y="394.00" width="1.80" height="1.80" fill="#5a12a0"/>
<rect x="652.00" y="396.00" width="1.80" height="1.80" fill="#5a12a0"/>
<rect x="642.00" y="396.00" width="1.80" height="1.80" fill="#5a12a0"/>
<rect x="648.50" y="399.00" width="1.80" height="1.80" fill="#5a12a0"/>
<rect x="645.50" y="384.00" width="1.80" height="1.80" fill="#5a12a0"/>
<rect x="651.50" y="399.00" width="1.80" height="1.80" fill="#5a12a0"/>
<rect x="648.00" y="399.00" width="1.80" height="1.80" fill="#5a12a0"/>
<rect x="643.50" y="396.00" width="1.80" height="1.80" fill="#5a12a0"/>
<rect x="653.00" y="399.00" width="1.80" height="1.80" fill="#5a12a0"/>
<rect x="652.00" y="396.00" width="1.80" height="1.80" fill="#5a12a0"/>
<rect x="650.50" y="398.00" width="1.80" height="1.80" fill="#5a12a0"/>
<rect x="650.50" y="387.00" width="1.80" height="1.80" fill="#5a12a0"/>
<rect x="650.50" y="392.00" width="1.80" height="1.80" fill="#5a12a0"/>
<rect x="649.50" y="380.00" width="1.80" height="1.80" fill="#5a12a0"/>
<rect x="650.50" y="395.00" width="1.80" height="1.80" fill="#5a12a0"/>
<rect x="650.00" y="399.00" width="1.80" height="1.80" fill="#5a12a0"/>
<rect x="640.50" y="397.00" width="1.80" height="1.80" fill="#5a12a0"/>
<rect x="647.00" y="392.00" width="1.80" height="1.80" fill="#5a12a0"/>
<rect x="645.50" y="388.00" width="1.80" height="1.80" fill="#5a12a0"/>
<rect x="649.00" y="393.00" width="1.80" height="1.80" fill="#5a12a0"/>
<rect x="652.50" y="398.00" width="1.80" height="1.80" fill="#5a12a0"/>
<rect x="643.50" y="397.00" width="1.80" height="1.80" fill="#5a12a0"/>
<rect x="650.50" y="397.00" width="1.80" height="1.80" fill="#5a12a0"/>
<rect x="645.00" y="399.00" width="1.80" height="1.80" fill="#5a12a0"/>
<rect x="650.00" y="396.00" width="1.80" height="1.80" fill="#5a12a0"/>
<rect x="641.50" y="375.50" width="1.80" height="1.80" fill="#5a12a0"/>
<rect x="663.50" y="399.00" width="1.80" height="1.80" fill="#5a12a0"/>
<rect x="669.50" y="398.00" width="1.80" height="1.80" fill="#5a12a0"/>
<rect x="666.00" y="397.00" width="1.80" height="1.80" fill="#5a12a0"/>
<rect x="680.50" y="395.00" width="1.80" height="1.80" fill="#5a12a0"/>
<rect x="664.50" y="398.00" width="1.80" height="1.80" fill="#5a12a0"/>
<rect x="663.50" y="395.00" width="1.80" height="1.80" fill="#5a12a0"/>
<rect x="661.50" y="391.00" width="1.80" height="1.80" fill="#5a12a0"/>
<rect x="669.50" y="383.00" width="1.80" height="1.80" fill="#5a12a0"/>
<rect x="669.50" y="399.00" width="1.80" height="1.80" fill="#5a12a0"/>
<rect x="665.00" y="397.00" width="1.80" height="1.80" fill="#5a12a0"/>
<rect x="666.00" y="399.00" width="1.80" height="1.80" fill="#5a12a0"/>
<rect x="670.50" y="398.00" width="1.80" height="1.80" fill="#5a12a0"/>
<rect x="664.50" y="392.00" width="1.80" height="1.80" fill="#5a12a0"/>
<rect x="667.00" y="398.00" width="1.80" height="1.80" fill="#5a12a0"/>
<rect x="667.00" y="397.00" width="1.80" height="1.80" fill="#5a12a0"/>
<rect x="664.00" y="399.00" width="1.80" height="1.80" fill="#5a12a0"/>
<rect x="678.50" y="399.00" width="1.80" height="1.80" fill="#5a12a0"/>
<rect x="661.00" y="386.00" width="1.80" height="1.80" fill="#5a12a0"/>
<rect x="658.50" y="397.00" width="1.80" height="1.80" fill="#5a12a0"/>
<rect x="671.00" y="382.00" width="1.80" height="1.80" fill="#5a12a0"/>
<rect x="665.50" y="397.00" width="1.80" height="1.80" fill="#5a12a0"/>
<rect x="680.50" y="395.00" width="1.80" height="1.80" fill="#5a12a0"/>
<rect x="659.50" y="385.00" width="1.80" height="1.80" fill="#5a12a0"/>
<rect x="660.00" y="396.00" width="1.80" height="1.80" fill="#5a12a0"/>
<rect x="679.00" y="397.00" width="1.80" height="1.80" fill="#5a12a0"/>
<rect x="672.00" y="396.00" width="1.80" height="1.80" fill="#5a12a0"/>
<rect x="672.00" y="387.00" width="1.80" height="1.80" fill="#5a12a0"/>
<rect x="668.50" y="399.00" width="1.80" height="1.80" fill="#5a12a0"/>
<rect x="668.50" y="397.00" width="1.80" height="1.80" fill="#5a12a0"/>
<rect x="670.00" y="399.00" width="1.80" height="1.80" fill="#5a12a0"/>
<rect x="675.50" y="380.00" width="1.80" height="1.80" fill="#5a12a0"/>
<rect x="664.50" y="397.00" width="1.80" height="1.80" fill="#5a12a0"/>
<rect x="678.50" y="389.00" width="1.80" height="1.80" fill="#5a12a0"/>
<rect x="669.50" y="399.00" width="1.80" height="1.80" fill="#5a12a0"/>
<rect x="682.50" y="399.00" width="1.80" height="1.80" fill="#5a12a0"/>
<rect x="662.00" y="399.00" width="1.80" height="1.80" fill="#5a12a0"/>
<rect x="666.50" y="399.00" width="1.80" height="1.80" fill="#5a12a0"/>
<rect x="662.50" y="398.00" width="1.80" height="1.80" fill="#5a12a0"/>
<rect x="665.00" y="398.00" width="1.80" height="1.80" fill="#5a12a0"/>
<rect x="666.50" y="396.00" width="1.80" height="1.80" fill="#5a12a0"/>
<rect x="660.00" y="395.00" width="1.80" height="1.80" fill="#5a12a0"/>
<rect x="669.00" y="392.00" width="1.80" height="1.80" fill="#5a12a0"/>
<rect x="662.00" y="399.00" width="1.80" height="1.80" fill="#5a12a0"/>
<rect x="662.00" y="380.00" width="1.80" height="1.80" fill="#5a12a0"/>
<rect x="667.00" y="386.00" width="1.80" height="1.80" fill="#5a12a0"/>
<rect x="660.50" y="397.00" width="1.80" height="1.80" fill="#5a12a0"/>
<rect x="662.50" y="395.00" width="1.80" height="1.80" fill="#5a12a0"/>
<rect x="660.00" y="395.00" width="1.80" height="1.80" fill="#5a12a0"/>
<rect x="679.00" y="386.00" width="1.80" height="1.80" fill="#5a12a0"/>
<rect x="666.00" y="399.00" width="1.80" height="1.80" fill="#5a12a0"/>
<rect x="664.50" y="375.50" width="1.80" height="1.80" fill="#5a12a0"/>
<rect x="676.50" y="375.50" width="1.80" height="1.80" fill="#5a12a0"/>
<rect x="662.00" y="396.00" width="1.80" height="1.80" fill="#5a12a0"/>
<rect x="663.50" y="394.00" width="1.80" height="1.80" fill="#5a12a0"/>
<rect x="661.50" y="396.00" width="1.80" height="1.80" fill="#5a12a0"/>
<rect x="662.00" y="399.00" width="1.80" height="1.80" fill="#5a12a0"/>
<rect x="663.50" y="399.00" width="1.80" height="1.80" fill="#5a12a0"/>
<rect x="660.50" y="380.00" width="1.80" height="1.80" fill="#5a12a0"/>
<rect x="661.50" y="399.00" width="1.80" height="1.80" fill="#5a12a0"/>
<rect x="662.50" y="398.00" width="1.80" height="1.80" fill="#5a12a0"/>
<rect x="660.50" y="378.00" width="1.80" height="1.80" fill="#5a12a0"/>
<rect x="662.50" y="398.00" width="1.80" height="1.80" fill="#5a12a0"/>
<rect x="663.50" y="392.00" width="1.80" height="1.80" fill="#5a12a0"/>
<rect x="660.50" y="395.00" width="1.80" height="1.80" fill="#5a12a0"/>
<rect x="661.50" y="397.00" width="1.80" height="1.80" fill="#5a12a0"/>
<rect x="661.50" y="397.00" width="1.80" height="1.80" fill="#5a12a0"/>
<rect x="662.50" y="399.00" width="1.80" height="1.80" fill="#5a12a0"/>
<rect x="660.50" y="399.00" width="1.80" height="1.80" fill="#5a12a0"/>
<rect x="661.50" y="384.00" width="1.80" height="1.80" fill="#5a12a0"/>
<rect x="661.50" y="394.00" width="1.80" height="1.80" fill="#5a12a0"/>
<rect x="662.00" y="386.00" width="1.80" height="1.80" fill="#5a12a0"/>
<rect x="661.00" y="393.00" width="1.80" height="1.80" fill="#5a12a0"/>
<rect x="663.00" y="398.00" width="1.80" height="1.80" fill="#5a12a0"/>
<rect x="661.00" y="399.00" width="1.80" height="1.80" fill="#5a12a0"/>
<rect x="660.00" y="399.00" width="1.80" height="1.80" fill="#5a12a0"/>
<rect x="660.50" y="382.00" width="1.80" height="1.80" fill="#5a12a0"/>
<rect x="660.50" y="383.00" width="1.80" height="1.80" fill="#5a12a0"/>
<rect x="660.50" y="397.00" width="1.80" height="1.80" fill="#5a12a0"/>
<rect x="661.50" y="397.00" width="1.80" height="1.80" fill="#5a12a0"/>
<rect x="661.00" y="394.00" width="1.80" height="1.80" fill="#5a12a0"/>
<rect x="662.50" y="397.00" width="1.80" height="1.80" fill="#5a12a0"/>
<rect x="661.50" y="399.00" width="1.80" height="1.80" fill="#5a12a0"/>
<rect x="661.00" y="395.00" width="1.80" height="1.80" fill="#5a12a0"/>
<rect x="661.50" y="397.00" width="1.80" height="1.80" fill="#5a12a0"/>
<rect x="661.50" y="395.00" width="1.80" height="1.80" fill="#5a12a0"/>
<rect x="664.00" y="396.00" width="1.80" height="1.80" fill="#5a12a0"/>
<rect x="664.00" y="392.00" width="1.80" height="1.80" fill="#5a12a0"/>
<rect x="663.00" y="388.00" width="1.80" height="1.80" fill="#5a12a0"/>
<rect x="660.00" y="397.00" width="1.80" height="1.80" fill="#5a12a0"/>
<rect x="661.00" y="385.00" width="1.80" height="1.80" fill="#5a12a0"/>
<rect x="662.50" y="399.00" width="1.80" height="1.80" fill="#5a12a0"/>
<rect x="658.50" y="394.00" width="1.80" height="1.80" fill="#5a12a0"/>
<rect x="660.50" y="399.00" width="1.80" height="1.80" fill="#5a12a0"/>
<rect x="662.00" y="399.00" width="1.80" height="1.80" fill="#5a12a0"/>
<rect x="663.00" y="399.00" width="1.80" height="1.80" fill="#5a12a0"/>
<rect x="660.00" y="390.00" width="1.80" height="1.80" fill="#5a12a0"/>
<rect x="659.50" y="385.00" width="1.80" height="1.80" fill="#5a12a0"/>
<rect x="663.00" y="399.00" width="1.80" height="1.80" fill="#5a12a0"/>
<rect x="665.00" y="375.50" width="1.80" height="1.80" fill="#5a12a0"/>
<rect x="662.00" y="375.50" width="1.80" height="1.80" fill="#5a12a0"/>
<path d="M509.8,429.7 L509.8,429.7 L510.8,429.7 L511.8,429.7 L512.8,429.7 L513.8,429.7 L514.8,429.7 L515.8,429.7 L516.8,429.7 L517.8,429.7 L518.8,429.7 L519.8,429.7 L520.8,429.7 L521.8,429.7 L522.8,429.7 L523.8,429.7 L524.8,429.7 L525.8,429.7 L526.8,427.2 L527.8,426.7 L528.8,425.8 L529.8,426.2 L530.8,425.7 L531.8,420.4 L532.8,413.6 L533.8,416.3 L534.8,422.4 L535.8,424.1 L536.8,424.0 L537.8,420.9 L538.8,407.4 L539.8,410.9 L540.8,424.9 L541.8,428.0 L542.8,427.0 L543.8,424.9 L544.8,424.2 L545.8,422.8 L546.8,422.8 L547.8,422.9 L548.8,422.5 L549.8,422.2 L550.8,422.2 L551.8,422.3 L552.8,420.4 L553.8,418.7 L554.8,417.2 L555.8,416.1 L556.8,416.3 L557.8,417.6 L558.8,418.4 L559.8,420.3 L560.8,421.6 L561.8,422.7 L562.8,424.5 L563.8,426.1 L564.8,427.1 L565.8,429.7 L566.8,429.7 L567.8,429.7 L568.8,429.7 L569.8,429.7 L570.8,429.7 L571.8,427.1 L572.8,426.0 L573.8,425.2 L574.8,426.0 L575.8,426.7 L576.8,429.7 L577.8,429.7 L578.8,429.7 L579.8,429.7 L580.8,429.7 L581.8,429.7 L582.8,429.7 L583.8,429.7 L584.8,427.7 L585.8,425.0 L586.8,423.0 L587.8,422.1 L588.8,423.1 L589.8,424.3 L590.8,426.8 L591.8,429.7 L592.8,429.7 L593.8,429.7 L594.8,426.8 L595.8,425.7 L596.8,425.0 L597.8,424.8 L598.8,425.4 L599.8,424.7 L600.8,424.4 L601.8,423.8 L602.8,424.2 L603.8,425.2 L604.8,419.6 L605.8,410.0 L606.8,416.5 L607.8,426.2 L608.8,429.7 L609.8,427.3 L610.8,425.5 L611.8,424.0 L612.8,423.9 L613.8,425.7 L614.8,425.9 L615.8,424.8 L616.8,423.8 L617.8,423.1 L618.8,422.2 L619.8,418.3 L620.8,411.7 L621.8,412.0 L622.8,419.0 L623.8,424.7 L624.8,425.9 L625.8,426.4 L626.8,426.5 L627.8,427.6 L628.8,429.7 L629.8,429.7 L630.8,429.7 L631.8,429.7 L632.8,429.7 L633.8,429.7 L634.8,429.7 L635.8,429.7 L636.8,427.1 L637.8,426.6 L638.8,425.6 L639.8,424.8 L640.8,425.1 L641.8,425.9 L642.8,426.6 L643.8,426.6 L644.8,427.6 L645.8,426.8 L646.8,426.4 L647.8,426.4 L648.8,425.1 L649.8,425.1 L650.8,425.4 L651.8,425.9 L652.8,426.3 L653.8,426.8 L654.8,426.7 L655.8,426.4 L656.8,426.3 L657.8,425.7 L658.8,424.3 L659.8,423.8 L660.8,423.1 L661.8,421.5 L662.8,417.8 L663.8,413.8 L664.8,414.7 L665.8,418.6 L666.8,422.3 L667.8,425.1 L668.8,425.1 L669.8,425.6 L670.8,425.3 L671.8,425.5 L672.8,426.4 L673.8,426.1 L674.8,426.0 L675.8,426.3 L676.8,426.8 L677.8,429.7 L678.3,429.7 Z" fill="#5a12a0"/>
<rect x="528.00" y="432.00" width="34.50" height="25.60" fill="#0e0e0e"/>
<rect x="531.00" y="432.00" width="1.20" height="25.60" fill="#1c1c1c"/>
<rect x="539.79" y="432.00" width="1.20" height="25.60" fill="#1c1c1c"/>
<rect x="547.66" y="432.00" width="1.20" height="25.60" fill="#1c1c1c"/>
<rect x="554.85" y="432.00" width="1.20" height="25.60" fill="#1c1c1c"/>
<rect x="584.50" y="432.00" width="8.90" height="25.60" fill="#0e0e0e"/>
<rect x="587.50" y="432.00" width="1.20" height="25.60" fill="#1c1c1c"/>
<rect x="598.40" y="432.00" width="14.60" height="25.60" fill="#0e0e0e"/>
<rect x="601.40" y="432.00" width="1.20" height="25.60" fill="#1c1c1c"/>
<rect x="608.92" y="432.00" width="1.20" height="25.60" fill="#1c1c1c"/>
<rect x="615.20" y="432.00" width="10.70" height="25.60" fill="#0e0e0e"/>
<rect x="618.20" y="432.00" width="1.20" height="25.60" fill="#1c1c1c"/>
<rect x="646.90" y="432.00" width="28.60" height="25.60" fill="#0e0e0e"/>
<rect x="649.90" y="432.00" width="1.20" height="25.60" fill="#1c1c1c"/>
<rect x="656.25" y="432.00" width="1.20" height="25.60" fill="#1c1c1c"/>
<rect x="662.56" y="432.00" width="1.20" height="25.60" fill="#1c1c1c"/>
<rect x="670.99" y="432.00" width="1.20" height="25.60" fill="#1c1c1c"/>
<text x="538.00" y="467.30" font-size="9.00" text-anchor="start" fill="#111">Zic1</text>
<line x1="555.50" y1="463.90" x2="571.00" y2="463.90" stroke="#111" stroke-width="1.10"/>
<rect x="558.00" y="461.70" width="3.00" height="4.40" fill="#111"/>
<rect x="562.00" y="461.40" width="4.00" height="5.00" fill="#111"/>
<rect x="567.00" y="461.70" width="3.00" height="4.40" fill="#111"/>
<text x="558.80" y="477.00" font-size="9.00" text-anchor="start" fill="#111">Zic4</text>
<line x1="575.50" y1="473.70" x2="627.00" y2="473.70" stroke="#111" stroke-width="1.10"/>
<path d="M581.4,473.7 l-2.4,-2.2 M581.4,473.7 l-2.4,2.2" stroke="#111" stroke-width="0.9" fill="none"/>
<path d="M592.4,473.7 l-2.4,-2.2 M592.4,473.7 l-2.4,2.2" stroke="#111" stroke-width="0.9" fill="none"/>
<path d="M605.4,473.7 l-2.4,-2.2 M605.4,473.7 l-2.4,2.2" stroke="#111" stroke-width="0.9" fill="none"/>
<path d="M615.4,473.7 l-2.4,-2.2 M615.4,473.7 l-2.4,2.2" stroke="#111" stroke-width="0.9" fill="none"/>
<rect x="584.00" y="471.20" width="1.50" height="5.00" fill="#111"/>
<rect x="597.00" y="471.20" width="1.50" height="5.00" fill="#111"/>
<rect x="610.50" y="471.20" width="1.50" height="5.00" fill="#111"/>
<rect x="616.50" y="471.20" width="4.00" height="5.00" fill="#111"/>
<rect x="621.00" y="471.50" width="5.50" height="4.40" fill="#111"/>
<rect x="313.0" y="290.0" width="176.5" height="192.4" fill="none" stroke="#333" stroke-width="1.5"/>
<rect x="508.8" y="290.0" width="170.5" height="192.0" fill="none" stroke="#333" stroke-width="1.5"/>
<text transform="translate(19.9,624.4) rotate(-90)" font-size="13.8" text-anchor="middle" fill="#111">Insertion counts</text>
<text transform="translate(37.6,624.0) rotate(-90)" font-size="13.8" text-anchor="middle" fill="#111">per million</text>
<text x="-0.30" y="529.60" font-size="23.8" fill="#000" stroke="#000" stroke-width="0.3">F</text>
<text x="123.20" y="534.00" font-size="13.90" text-anchor="middle" fill="#111" font-style="italic">Gabrb1/Gabra4</text>
<text x="123.30" y="545.80" font-size="11.50" text-anchor="middle" fill="#111" font-style="italic">(GABA receptor B1/A4)</text>
<line x1="71.00" y1="563.80" x2="71.00" y2="678.90" stroke="#111" stroke-width="1.80"/>
<line x1="64.00" y1="678.00" x2="185.80" y2="678.00" stroke="#111" stroke-width="1.80"/>
<line x1="64.00" y1="678.00" x2="71.00" y2="678.00" stroke="#111" stroke-width="1.70"/>
<text x="61.70" y="682.00" font-size="11.30" text-anchor="end" fill="#111">0</text>
<line x1="64.00" y1="639.93" x2="71.00" y2="639.93" stroke="#111" stroke-width="1.70"/>
<text x="61.70" y="643.93" font-size="11.30" text-anchor="end" fill="#111">50</text>
<line x1="64.00" y1="601.87" x2="71.00" y2="601.87" stroke="#111" stroke-width="1.70"/>
<text x="61.70" y="605.87" font-size="11.30" text-anchor="end" fill="#111">100</text>
<line x1="64.00" y1="563.80" x2="71.00" y2="563.80" stroke="#111" stroke-width="1.70"/>
<text x="61.70" y="567.80" font-size="11.30" text-anchor="end" fill="#111">150</text>
<line x1="77.90" y1="678.00" x2="77.90" y2="685.20" stroke="#111" stroke-width="1.70"/>
<text x="77.90" y="697.50" font-size="11.30" text-anchor="middle" fill="#111">1</text>
<line x1="92.11" y1="678.00" x2="92.11" y2="685.20" stroke="#111" stroke-width="1.70"/>
<text x="92.11" y="697.50" font-size="11.30" text-anchor="middle" fill="#111">2</text>
<line x1="106.32" y1="678.00" x2="106.32" y2="685.20" stroke="#111" stroke-width="1.70"/>
<text x="106.32" y="697.50" font-size="11.30" text-anchor="middle" fill="#111">3</text>
<line x1="120.53" y1="678.00" x2="120.53" y2="685.20" stroke="#111" stroke-width="1.70"/>
<text x="120.53" y="697.50" font-size="11.30" text-anchor="middle" fill="#111">4</text>
<line x1="134.74" y1="678.00" x2="134.74" y2="685.20" stroke="#111" stroke-width="1.70"/>
<text x="134.74" y="697.50" font-size="11.30" text-anchor="middle" fill="#111">5</text>
<line x1="148.95" y1="678.00" x2="148.95" y2="685.20" stroke="#111" stroke-width="1.70"/>
<text x="148.95" y="697.50" font-size="11.30" text-anchor="middle" fill="#111">6</text>
<line x1="163.16" y1="678.00" x2="163.16" y2="685.20" stroke="#111" stroke-width="1.70"/>
<text x="163.16" y="697.50" font-size="11.30" text-anchor="middle" fill="#111">7</text>
<line x1="177.37" y1="678.00" x2="177.37" y2="685.20" stroke="#111" stroke-width="1.70"/>
<text x="177.37" y="697.50" font-size="11.30" text-anchor="middle" fill="#111">8</text>
<text x="137.00" y="580.30" font-size="11.30" text-anchor="start" fill="#111"><tspan font-style="italic">&#961;</tspan>= -0.73</text>
<text x="137.00" y="592.30" font-size="11.30" text-anchor="start" fill="#111">p= 0.02</text>
<circle cx="77.3" cy="604.3" r="2.6" fill="#111"/>
<circle cx="77.3" cy="629.5" r="2.6" fill="#111"/>
<circle cx="77.8" cy="628.3" r="2.6" fill="#111"/>
<circle cx="92.0" cy="609.4" r="2.6" fill="#111"/>
<circle cx="92.0" cy="623.8" r="2.6" fill="#111"/>
<circle cx="92.0" cy="635.7" r="2.6" fill="#111"/>
<circle cx="92.0" cy="638.7" r="2.6" fill="#111"/>
<circle cx="105.8" cy="631.3" r="2.6" fill="#111"/>
<circle cx="105.8" cy="643.2" r="2.6" fill="#111"/>
<circle cx="105.8" cy="678.0" r="2.6" fill="#111"/>
<circle cx="149.0" cy="655.2" r="2.6" fill="#111"/>
<circle cx="163.3" cy="646.2" r="2.6" fill="#111"/>
<circle cx="177.4" cy="637.8" r="2.6" fill="#111"/>
<circle cx="177.4" cy="640.8" r="2.6" fill="#111"/>
<circle cx="177.4" cy="644.7" r="2.6" fill="#111"/>
<circle cx="177.4" cy="650.7" r="2.6" fill="#111"/>
<circle cx="177.4" cy="658.8" r="2.6" fill="#111"/>
<circle cx="177.4" cy="661.8" r="2.6" fill="#111"/>
<circle cx="177.4" cy="663.3" r="2.6" fill="#111"/>
<circle cx="177.4" cy="671.4" r="2.6" fill="#111"/>
<circle cx="177.4" cy="678.0" r="2.6" fill="#111"/>
<line x1="77.30" y1="625.90" x2="177.40" y2="656.40" stroke="#111" stroke-width="1.90"/>
<text x="190.60" y="529.60" font-size="23.8" fill="#000" stroke="#000" stroke-width="0.3">G</text>
<text x="297.30" y="530.80" font-size="13.90" text-anchor="middle" fill="#111" font-style="italic">Ramac / Homer2</text>
<text x="294.90" y="541.90" font-size="11.50" text-anchor="middle" fill="#111" font-style="italic">(RNA methyltransferase activating</text>
<text x="298.30" y="552.30" font-size="11.50" text-anchor="middle" fill="#111" font-style="italic">subunit/ Homer scaffold 2)</text>
<line x1="240.40" y1="563.50" x2="240.40" y2="678.30" stroke="#111" stroke-width="1.80"/>
<line x1="233.40" y1="677.40" x2="355.80" y2="677.40" stroke="#111" stroke-width="1.80"/>
<line x1="233.40" y1="677.40" x2="240.40" y2="677.40" stroke="#111" stroke-width="1.70"/>
<text x="231.10" y="681.40" font-size="11.30" text-anchor="end" fill="#111">0</text>
<line x1="233.40" y1="639.43" x2="240.40" y2="639.43" stroke="#111" stroke-width="1.70"/>
<text x="231.10" y="643.43" font-size="11.30" text-anchor="end" fill="#111">50</text>
<line x1="233.40" y1="601.47" x2="240.40" y2="601.47" stroke="#111" stroke-width="1.70"/>
<text x="231.10" y="605.47" font-size="11.30" text-anchor="end" fill="#111">100</text>
<line x1="233.40" y1="563.50" x2="240.40" y2="563.50" stroke="#111" stroke-width="1.70"/>
<text x="231.10" y="567.50" font-size="11.30" text-anchor="end" fill="#111">150</text>
<line x1="247.30" y1="677.40" x2="247.30" y2="684.60" stroke="#111" stroke-width="1.70"/>
<text x="247.30" y="696.90" font-size="11.30" text-anchor="middle" fill="#111">1</text>
<line x1="261.50" y1="677.40" x2="261.50" y2="684.60" stroke="#111" stroke-width="1.70"/>
<text x="261.50" y="696.90" font-size="11.30" text-anchor="middle" fill="#111">2</text>
<line x1="275.70" y1="677.40" x2="275.70" y2="684.60" stroke="#111" stroke-width="1.70"/>
<text x="275.70" y="696.90" font-size="11.30" text-anchor="middle" fill="#111">3</text>
<line x1="289.90" y1="677.40" x2="289.90" y2="684.60" stroke="#111" stroke-width="1.70"/>
<text x="289.90" y="696.90" font-size="11.30" text-anchor="middle" fill="#111">4</text>
<line x1="304.10" y1="677.40" x2="304.10" y2="684.60" stroke="#111" stroke-width="1.70"/>
<text x="304.10" y="696.90" font-size="11.30" text-anchor="middle" fill="#111">5</text>
<line x1="318.30" y1="677.40" x2="318.30" y2="684.60" stroke="#111" stroke-width="1.70"/>
<text x="318.30" y="696.90" font-size="11.30" text-anchor="middle" fill="#111">6</text>
<line x1="332.50" y1="677.40" x2="332.50" y2="684.60" stroke="#111" stroke-width="1.70"/>
<text x="332.50" y="696.90" font-size="11.30" text-anchor="middle" fill="#111">7</text>
<line x1="346.70" y1="677.40" x2="346.70" y2="684.60" stroke="#111" stroke-width="1.70"/>
<text x="346.70" y="696.90" font-size="11.30" text-anchor="middle" fill="#111">8</text>
<text x="304.90" y="580.30" font-size="11.30" text-anchor="start" fill="#111"><tspan font-style="italic">&#961;</tspan>= -0.71</text>
<text x="304.90" y="592.30" font-size="11.30" text-anchor="start" fill="#111">p= 0.02</text>
<circle cx="247.3" cy="628.9" r="2.6" fill="#111"/>
<circle cx="247.3" cy="646.2" r="2.6" fill="#111"/>
<circle cx="262.0" cy="596.5" r="2.6" fill="#111"/>
<circle cx="262.0" cy="656.7" r="2.6" fill="#111"/>
<circle cx="262.0" cy="663.3" r="2.6" fill="#111"/>
<circle cx="262.0" cy="665.7" r="2.6" fill="#111"/>
<circle cx="276.4" cy="662.7" r="2.6" fill="#111"/>
<circle cx="276.4" cy="667.2" r="2.6" fill="#111"/>
<circle cx="276.4" cy="677.4" r="2.6" fill="#111"/>
<circle cx="319.2" cy="677.4" r="2.6" fill="#111"/>
<circle cx="333.3" cy="677.4" r="2.6" fill="#111"/>
<circle cx="347.7" cy="663.3" r="2.6" fill="#111"/>
<circle cx="347.7" cy="671.4" r="2.6" fill="#111"/>
<circle cx="347.7" cy="673.8" r="2.6" fill="#111"/>
<circle cx="347.7" cy="675.3" r="2.6" fill="#111"/>
<circle cx="347.7" cy="677.4" r="2.6" fill="#111"/>
<line x1="247.30" y1="646.20" x2="347.70" y2="675.30" stroke="#111" stroke-width="1.10"/>
<text x="380.10" y="529.60" font-size="23.8" fill="#000" stroke="#000" stroke-width="0.3">H</text>
<text x="452.40" y="533.90" font-size="13.90" text-anchor="middle" fill="#111" font-style="italic">Man1a</text>
<text x="452.40" y="545.20" font-size="11.50" text-anchor="middle" fill="#111" font-style="italic">(Mannosidase 1A)</text>
<line x1="402.00" y1="563.50" x2="402.00" y2="679.20" stroke="#111" stroke-width="1.80"/>
<line x1="395.00" y1="678.30" x2="517.40" y2="678.30" stroke="#111" stroke-width="1.80"/>
<line x1="395.00" y1="678.30" x2="402.00" y2="678.30" stroke="#111" stroke-width="1.70"/>
<text x="392.70" y="682.30" font-size="11.30" text-anchor="end" fill="#111">0</text>
<line x1="395.00" y1="649.60" x2="402.00" y2="649.60" stroke="#111" stroke-width="1.70"/>
<text x="392.70" y="653.60" font-size="11.30" text-anchor="end" fill="#111">50</text>
<line x1="395.00" y1="620.90" x2="402.00" y2="620.90" stroke="#111" stroke-width="1.70"/>
<text x="392.70" y="624.90" font-size="11.30" text-anchor="end" fill="#111">100</text>
<line x1="395.00" y1="592.20" x2="402.00" y2="592.20" stroke="#111" stroke-width="1.70"/>
<text x="392.70" y="596.20" font-size="11.30" text-anchor="end" fill="#111">150</text>
<line x1="395.00" y1="563.50" x2="402.00" y2="563.50" stroke="#111" stroke-width="1.70"/>
<text x="392.70" y="567.50" font-size="11.30" text-anchor="end" fill="#111">200</text>
<line x1="409.00" y1="678.30" x2="409.00" y2="685.50" stroke="#111" stroke-width="1.70"/>
<text x="409.00" y="697.80" font-size="11.30" text-anchor="middle" fill="#111">1</text>
<line x1="423.33" y1="678.30" x2="423.33" y2="685.50" stroke="#111" stroke-width="1.70"/>
<text x="423.33" y="697.80" font-size="11.30" text-anchor="middle" fill="#111">2</text>
<line x1="437.66" y1="678.30" x2="437.66" y2="685.50" stroke="#111" stroke-width="1.70"/>
<text x="437.66" y="697.80" font-size="11.30" text-anchor="middle" fill="#111">3</text>
<line x1="451.99" y1="678.30" x2="451.99" y2="685.50" stroke="#111" stroke-width="1.70"/>
<text x="451.99" y="697.80" font-size="11.30" text-anchor="middle" fill="#111">4</text>
<line x1="466.32" y1="678.30" x2="466.32" y2="685.50" stroke="#111" stroke-width="1.70"/>
<text x="466.32" y="697.80" font-size="11.30" text-anchor="middle" fill="#111">5</text>
<line x1="480.65" y1="678.30" x2="480.65" y2="685.50" stroke="#111" stroke-width="1.70"/>
<text x="480.65" y="697.80" font-size="11.30" text-anchor="middle" fill="#111">6</text>
<line x1="494.98" y1="678.30" x2="494.98" y2="685.50" stroke="#111" stroke-width="1.70"/>
<text x="494.98" y="697.80" font-size="11.30" text-anchor="middle" fill="#111">7</text>
<line x1="509.31" y1="678.30" x2="509.31" y2="685.50" stroke="#111" stroke-width="1.70"/>
<text x="509.31" y="697.80" font-size="11.30" text-anchor="middle" fill="#111">8</text>
<text x="409.00" y="580.30" font-size="11.30" text-anchor="start" fill="#111"><tspan font-style="italic">&#961;</tspan>= 0.81</text>
<text x="409.00" y="592.30" font-size="11.30" text-anchor="start" fill="#111">p= 0.004</text>
<circle cx="409.0" cy="654.3" r="2.6" fill="#111"/>
<circle cx="409.0" cy="659.7" r="2.6" fill="#111"/>
<circle cx="423.3" cy="631.0" r="2.6" fill="#111"/>
<circle cx="423.3" cy="636.3" r="2.6" fill="#111"/>
<circle cx="423.3" cy="639.3" r="2.6" fill="#111"/>
<circle cx="423.3" cy="657.9" r="2.6" fill="#111"/>
<circle cx="438.0" cy="627.4" r="2.6" fill="#111"/>
<circle cx="438.0" cy="633.4" r="2.6" fill="#111"/>
<circle cx="438.0" cy="640.2" r="2.6" fill="#111"/>
<circle cx="480.9" cy="635.5" r="2.6" fill="#111"/>
<circle cx="495.3" cy="601.3" r="2.6" fill="#111"/>
<circle cx="509.3" cy="596.5" r="2.6" fill="#111"/>
<circle cx="509.3" cy="607.0" r="2.6" fill="#111"/>
<circle cx="509.3" cy="613.3" r="2.6" fill="#111"/>
<circle cx="509.3" cy="616.0" r="2.6" fill="#111"/>
<circle cx="509.3" cy="624.4" r="2.6" fill="#111"/>
<circle cx="509.3" cy="631.9" r="2.6" fill="#111"/>
<line x1="409.00" y1="646.80" x2="509.30" y2="613.00" stroke="#111" stroke-width="1.90"/>
<text x="514.80" y="529.60" font-size="23.8" fill="#000" stroke="#000" stroke-width="0.3">I</text>
<text x="611.90" y="529.60" font-size="13.90" text-anchor="middle" fill="#111" font-style="italic">Kcnc1</text>
<text x="610.00" y="541.10" font-size="11.50" text-anchor="middle" fill="#111" font-style="italic">(Voltage-gated K+</text>
<text x="611.40" y="551.50" font-size="11.50" text-anchor="middle" fill="#111" font-style="italic">channel)</text>
<line x1="556.40" y1="563.50" x2="556.40" y2="678.90" stroke="#111" stroke-width="1.80"/>
<line x1="549.40" y1="678.00" x2="671.20" y2="678.00" stroke="#111" stroke-width="1.80"/>
<line x1="549.40" y1="678.00" x2="556.40" y2="678.00" stroke="#111" stroke-width="1.70"/>
<text x="547.10" y="682.00" font-size="11.30" text-anchor="end" fill="#111">0</text>
<line x1="549.40" y1="649.38" x2="556.40" y2="649.38" stroke="#111" stroke-width="1.70"/>
<text x="547.10" y="653.38" font-size="11.30" text-anchor="end" fill="#111">20</text>
<line x1="549.40" y1="620.75" x2="556.40" y2="620.75" stroke="#111" stroke-width="1.70"/>
<text x="547.10" y="624.75" font-size="11.30" text-anchor="end" fill="#111">40</text>
<line x1="549.40" y1="592.12" x2="556.40" y2="592.12" stroke="#111" stroke-width="1.70"/>
<text x="547.10" y="596.12" font-size="11.30" text-anchor="end" fill="#111">60</text>
<line x1="549.40" y1="563.50" x2="556.40" y2="563.50" stroke="#111" stroke-width="1.70"/>
<text x="547.10" y="567.50" font-size="11.30" text-anchor="end" fill="#111">80</text>
<line x1="563.30" y1="678.00" x2="563.30" y2="685.20" stroke="#111" stroke-width="1.70"/>
<text x="563.30" y="697.50" font-size="11.30" text-anchor="middle" fill="#111">1</text>
<line x1="577.64" y1="678.00" x2="577.64" y2="685.20" stroke="#111" stroke-width="1.70"/>
<text x="577.64" y="697.50" font-size="11.30" text-anchor="middle" fill="#111">2</text>
<line x1="591.98" y1="678.00" x2="591.98" y2="685.20" stroke="#111" stroke-width="1.70"/>
<text x="591.98" y="697.50" font-size="11.30" text-anchor="middle" fill="#111">3</text>
<line x1="606.32" y1="678.00" x2="606.32" y2="685.20" stroke="#111" stroke-width="1.70"/>
<text x="606.32" y="697.50" font-size="11.30" text-anchor="middle" fill="#111">4</text>
<line x1="620.66" y1="678.00" x2="620.66" y2="685.20" stroke="#111" stroke-width="1.70"/>
<text x="620.66" y="697.50" font-size="11.30" text-anchor="middle" fill="#111">5</text>
<line x1="635.00" y1="678.00" x2="635.00" y2="685.20" stroke="#111" stroke-width="1.70"/>
<text x="635.00" y="697.50" font-size="11.30" text-anchor="middle" fill="#111">6</text>
<line x1="649.34" y1="678.00" x2="649.34" y2="685.20" stroke="#111" stroke-width="1.70"/>
<text x="649.34" y="697.50" font-size="11.30" text-anchor="middle" fill="#111">7</text>
<line x1="663.68" y1="678.00" x2="663.68" y2="685.20" stroke="#111" stroke-width="1.70"/>
<text x="663.68" y="697.50" font-size="11.30" text-anchor="middle" fill="#111">8</text>
<text x="564.50" y="580.30" font-size="11.30" text-anchor="start" fill="#111"><tspan font-style="italic">&#961;</tspan>= 0.72</text>
<text x="564.50" y="592.30" font-size="11.30" text-anchor="start" fill="#111">p= 0.02</text>
<circle cx="563.3" cy="658.2" r="2.6" fill="#111"/>
<circle cx="563.3" cy="678.0" r="2.6" fill="#111"/>
<circle cx="577.4" cy="660.9" r="2.6" fill="#111"/>
<circle cx="577.4" cy="663.9" r="2.6" fill="#111"/>
<circle cx="577.4" cy="678.0" r="2.6" fill="#111"/>
<circle cx="591.8" cy="631.3" r="2.6" fill="#111"/>
<circle cx="591.8" cy="658.2" r="2.6" fill="#111"/>
<circle cx="591.8" cy="668.7" r="2.6" fill="#111"/>
<circle cx="634.3" cy="635.5" r="2.6" fill="#111"/>
<circle cx="649.3" cy="678.0" r="2.6" fill="#111"/>
<circle cx="663.7" cy="589.0" r="2.6" fill="#111"/>
<circle cx="663.7" cy="626.5" r="2.6" fill="#111"/>
<circle cx="663.7" cy="634.0" r="2.6" fill="#111"/>
<circle cx="663.7" cy="642.3" r="2.6" fill="#111"/>
<circle cx="663.7" cy="646.2" r="2.6" fill="#111"/>
<circle cx="663.7" cy="650.7" r="2.6" fill="#111"/>
<line x1="563.30" y1="671.70" x2="663.70" y2="635.50" stroke="#111" stroke-width="1.90"/>
<text x="315.20" y="712.80" font-size="13.85" text-anchor="start" fill="#111">Seizure score</text>
</svg></body></html>
